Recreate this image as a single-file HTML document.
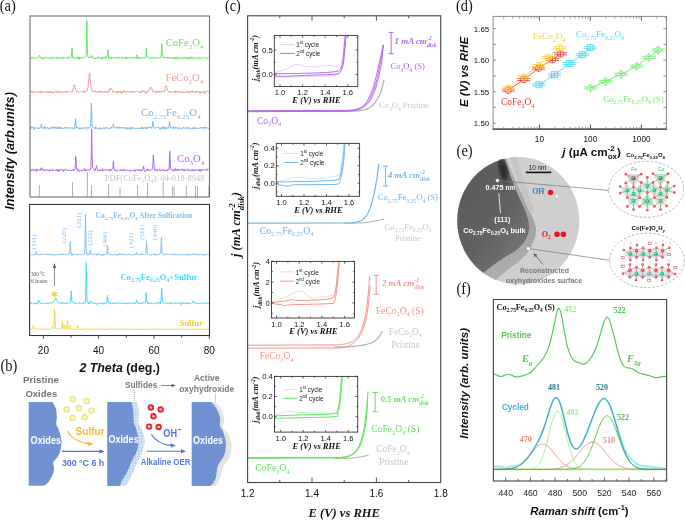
<!DOCTYPE html>
<html><head><meta charset="utf-8"><title>Figure</title>
<style>html,body{margin:0;padding:0;background:#fff;} svg{display:block;will-change:transform;filter:blur(0.3px);}</style></head>
<body><svg width="685" height="520" viewBox="0 0 685 520">
<rect width="685" height="520" fill="#fff"/>
<text x="-0.3" y="10.7" font-family='"Liberation Serif", serif' font-size="16" fill="#111" font-weight="normal" font-style="normal" textLength="16.1" lengthAdjust="spacingAndGlyphs" >(a)</text>
<line x1="39.4" y1="185.1" x2="39.4" y2="197" stroke="#a3aab2" stroke-width="0.9" />
<line x1="72.5" y1="182.2" x2="72.5" y2="197" stroke="#a3aab2" stroke-width="0.9" />
<line x1="87.4" y1="172.4" x2="87.4" y2="197" stroke="#a3aab2" stroke-width="0.9" />
<line x1="91.5" y1="185.4" x2="91.5" y2="197" stroke="#a3aab2" stroke-width="0.9" />
<line x1="108.6" y1="183.8" x2="108.6" y2="197" stroke="#a3aab2" stroke-width="0.9" />
<line x1="120" y1="187.2" x2="120" y2="197" stroke="#a3aab2" stroke-width="0.9" />
<line x1="137.5" y1="185.4" x2="137.5" y2="197" stroke="#a3aab2" stroke-width="0.9" />
<line x1="147.5" y1="183.1" x2="147.5" y2="197" stroke="#a3aab2" stroke-width="0.9" />
<line x1="163.2" y1="181.8" x2="163.2" y2="197" stroke="#a3aab2" stroke-width="0.9" />
<line x1="172.4" y1="186.5" x2="172.4" y2="197" stroke="#a3aab2" stroke-width="0.9" />
<line x1="174.1" y1="186.5" x2="174.1" y2="197" stroke="#a3aab2" stroke-width="0.9" />
<line x1="186.3" y1="185.8" x2="186.3" y2="197" stroke="#a3aab2" stroke-width="0.9" />
<line x1="195.5" y1="185.8" x2="195.5" y2="197" stroke="#a3aab2" stroke-width="0.9" />
<line x1="197.5" y1="185.8" x2="197.5" y2="197" stroke="#a3aab2" stroke-width="0.9" />
<line x1="208.9" y1="185.1" x2="208.9" y2="197" stroke="#a3aab2" stroke-width="0.9" />
<text x="104.8" y="180.9" font-family='"Liberation Serif", serif' font-size="8.49" fill="#c4c4c4" font-weight="normal" font-style="normal" text-anchor="start" ><tspan font-size="8.49">PDF(CoFe</tspan><tspan font-size="5.52" dy="2.38">2</tspan><tspan font-size="8.49" dy="-2.38">O</tspan><tspan font-size="5.52" dy="2.38">4</tspan><tspan font-size="8.49" dy="-2.38">): 04-018-8948</tspan></text>
<polyline points="30.5,58.19 30.9,58.45 31.3,58.18 31.7,57.28 32.1,58.49 32.5,58.24 32.9,57.7 33.3,58.31 33.7,58.19 34.1,58.15 34.5,58.01 34.9,58.29 35.3,57.58 35.7,57.9 36.1,57.72 36.5,58.31 36.9,57.99 37.3,57.8 37.7,57.5 38.1,57.75 38.5,57.7 38.9,56.44 39.3,55.71 39.3,55.55 39.7,55.1 40.1,56.66 40.5,57.79 40.9,57.7 41.3,58.07 41.7,58.09 42.1,59.14 42.5,57.37 42.9,57.78 43.3,59.11 43.7,58.34 44.1,58.36 44.5,57.71 44.9,57.09 45.3,58.09 45.7,58.05 46.1,57.32 46.5,57.62 46.9,57.96 47.3,57.48 47.7,57.94 48.1,58.05 48.5,58.01 48.9,57.72 49.3,58.32 49.7,58.49 50.1,58.17 50.5,57.55 50.9,58.4 51.3,57.72 51.7,58.48 52.1,57.41 52.5,58.5 52.9,57.98 53.3,57.31 53.7,57.82 54.1,58.03 54.5,58.15 54.9,57.45 55.3,57.39 55.7,58.1 56.1,57.74 56.5,58.12 56.9,58.41 57.3,57.09 57.7,58.13 58.1,58.67 58.5,57.83 58.9,57.55 59.3,58.41 59.7,58.13 60.1,58.49 60.5,57.8 60.9,57.18 61.3,57.93 61.7,57.75 62.1,58.42 62.5,58.1 62.9,57.09 63.3,57.33 63.7,58.47 64.1,58.36 64.5,57.63 64.9,57.98 65.3,58.23 65.7,58.24 66.1,58.46 66.5,58.12 66.9,57.92 67.3,57.83 67.7,58.54 68.1,56.72 68.5,57.87 68.9,57.95 69.3,57.13 69.7,58.07 70.1,57.48 70.5,58.23 70.9,57.48 71.3,56.88 71.7,52.3 72,48.2 72.1,48.05 72.5,53.89 72.9,58.23 73.3,57.61 73.7,57.42 74.1,57.94 74.5,57.79 74.9,58.39 75.3,57.95 75.7,57.95 76.1,57.56 76.5,58.21 76.9,57.39 77.3,58.32 77.7,58.8 78.1,57.12 78.5,56.6 78.9,58.3 79.3,59.36 79.7,57.4 80.1,57.26 80.5,58.27 80.9,57.48 81.3,57.66 81.7,57.73 82.1,58.21 82.5,57.67 82.9,58.03 83.3,57.75 83.7,57.35 84.1,57.58 84.5,57.15 84.9,57.53 85.3,56.63 85.7,56.05 86.1,54.67 86.5,36.28 86.8,20.46 86.9,23.25 87.3,47.86 87.7,55.78 88.1,57.25 88.5,57.55 88.9,56.95 89.3,58.15 89.7,57.43 90.1,57.19 90.5,57.23 90.9,57.02 91.3,56.91 91.4,55.27 91.7,56.74 92.1,56.46 92.5,57.85 92.9,58.4 93.3,57.79 93.7,57.59 94.1,58.07 94.5,58.34 94.9,58.32 95.3,59.05 95.7,58.08 96.1,57.64 96.5,57.9 96.9,57.93 97.3,58.03 97.7,57.96 98.1,58.07 98.5,57.06 98.9,58.43 99.3,57.66 99.7,57.33 100.1,58.33 100.5,58.7 100.9,58.25 101.3,58.07 101.7,57.46 102.1,59.55 102.5,58.46 102.9,57.34 103.3,57.54 103.7,58.01 104.1,57.1 104.5,58.04 104.9,57.68 105.3,58.59 105.7,58.41 106.1,56.34 106.5,57.74 106.9,56.48 107.3,55.79 107.7,49.95 107.8,49.7 108.1,51.94 108.5,57.73 108.9,58.72 109.3,57.2 109.7,58.07 110.1,57.53 110.5,57.92 110.9,57.25 111.3,58.98 111.7,57.43 112.1,57.81 112.5,58.25 112.9,57.62 113.3,57.85 113.7,57.67 114.1,57.91 114.5,57.34 114.9,57.75 115.3,57.87 115.7,57.8 116.1,58.02 116.5,57.83 116.9,58.4 117.3,57.81 117.7,57.92 118.1,57.63 118.5,57.7 118.9,57.3 119.3,58.28 119.7,57.36 120.1,57.58 120.5,58.19 120.9,58.21 121.3,57.77 121.7,56.88 122.1,58.23 122.5,58.14 122.9,57.22 123.3,58.42 123.7,57.61 124.1,57.37 124.5,58.05 124.9,57.9 125.3,58.11 125.7,57.11 126.1,58.99 126.5,57.66 126.9,57.15 127.3,58.33 127.7,57.8 128.1,58.17 128.5,57.81 128.9,57.96 129.3,58.13 129.7,57.58 130.1,58.37 130.5,57.73 130.9,57.51 131.3,58.03 131.7,58.23 132.1,57.86 132.5,57.51 132.9,58.33 133.3,57.02 133.7,57.41 134.1,58 134.5,57.22 134.9,57.98 135.3,57.91 135.7,58.4 136.1,57.19 136.5,56.38 136.8,56.17 136.9,54.75 137.3,59.04 137.7,57.46 138.1,57.52 138.5,58.42 138.9,57.94 139.3,56.99 139.7,58.32 140.1,58.44 140.5,57.73 140.9,57.82 141.3,58.24 141.7,57.47 142.1,58.2 142.5,58.07 142.9,57.58 143.3,57.17 143.7,57.8 144.1,57.41 144.5,58.4 144.9,57.85 145.3,58.01 145.7,56.68 146.1,52.16 146.4,48.16 146.5,49.47 146.9,55.9 147.3,57.14 147.7,57.37 148.1,57.73 148.5,57.61 148.9,57.52 149.3,58.01 149.7,57.78 150.1,58.74 150.5,57.96 150.9,58.14 151.3,58.49 151.7,57.81 152.1,58.76 152.5,57.63 152.9,57.53 153.3,57.77 153.7,57.91 154.1,57.2 154.5,57.96 154.9,57.06 155.3,58.74 155.7,57.93 156.1,57.61 156.5,57.46 156.9,57.75 157.3,57.83 157.7,57.37 158.1,57.43 158.5,57.82 158.9,57.61 159.3,58.38 159.7,58.44 160.1,57.73 160.5,57.8 160.9,56.21 161.3,53.6 161.7,44.26 161.8,43.76 162.1,49.66 162.5,54.59 162.9,57.5 163.3,57.04 163.7,58.1 164.1,57.12 164.5,57.61 164.9,58.02 165.3,58.27 165.7,57.98 166.1,57.52 166.5,57.66 166.9,58.45 167.3,57.97 167.7,57.05 168.1,58.44 168.5,58.21 168.9,58.46 169.3,57.8 169.7,58.44 170.1,57.4 170.5,58.3 170.9,57.72 171.3,58.36 171.7,58.54 172.1,57.59 172.5,57.96 172.9,58.01 173.3,58.65 173.7,58.38 174.1,57.32 174.5,58.25 174.9,58.4 175.3,59.16 175.7,57.07 176.1,57.7 176.5,58.73 176.9,57.25 177.3,57.34 177.7,58.28 178.1,58.56 178.5,57.63 178.9,58.29 179.3,58.06 179.7,58.83 180.1,58 180.5,58.54 180.9,57.5 181.3,57.9 181.7,57.94 182.1,58.62 182.5,58.32 182.9,57.58 183.3,58.37 183.7,58.42 184.1,57.94 184.5,57.86 184.9,57.89 185.3,57.07 185.7,58.1 186.1,58.13 186.5,57.52 186.9,58.41 187.3,57.24 187.7,57.69 188.1,57.74 188.5,59.09 188.9,57.12 189.3,58.31 189.7,58.52 190.1,58.21 190.5,58.65 190.9,57.45 191.3,56.74 191.7,58.42 192.1,57.34 192.5,57.82 192.9,57.35 193.3,58.58 193.7,58.47 194.1,57.6 194.5,58.5 194.9,58.07 195.3,57.92 195.7,58.03 196.1,57.89 196.5,58.34 196.9,58.17 197.3,57.81 197.7,58.55 198.1,57.66 198.5,58.16 198.9,58.23 199.3,58.81 199.7,57.72 200.1,58.96 200.5,58.1 200.9,57.89 201.3,57.63 201.7,58.32 202.1,58.03 202.5,57.39 202.9,57.38 203.3,57.69 203.7,57.63 204.1,58.6 204.5,58.76 204.9,58.48 205.3,58.2 205.7,57.76 206.1,58.03 206.5,58.49 206.9,59.17 207.3,58.5 207.7,57.84 208.1,58.02 208.5,57.73 208.9,57.57" stroke="#5ee85e" stroke-width="1" fill="none" stroke-linejoin="round" />
<polyline points="30.5,92.1 30.9,91.71 31.3,91.77 31.7,90.65 32.1,92.99 32.5,92.62 32.9,91.82 33.3,92.42 33.7,92.15 34.1,91.69 34.5,92.53 34.9,91.82 35.3,91.81 35.7,91.56 36.1,92.24 36.5,91.94 36.9,92.29 37.3,91.66 37.7,92.06 38.1,91.5 38.5,92.46 38.9,92.1 39.3,92.18 39.7,92.22 40.1,91.44 40.5,92.42 40.9,93.12 41.3,91.09 41.7,91.04 42.1,91.17 42.5,92.46 42.9,92.06 43.3,92.59 43.7,92.39 44.1,92.11 44.5,92.15 44.9,91.9 45.3,92.47 45.7,91.37 46.1,91.76 46.5,92.13 46.9,92.98 47.3,91.57 47.7,91.4 48.1,91.68 48.5,92.52 48.9,91.86 49.3,92.72 49.7,90.96 50.1,92.61 50.5,92.56 50.9,91.21 51.3,92.07 51.7,92.66 52.1,92.04 52.5,92.54 52.9,93.29 53.3,92.14 53.7,91.83 54.1,91.56 54.5,92.34 54.9,91.88 55.3,91.89 55.7,91.93 56.1,92.34 56.5,91.4 56.9,91.14 57.3,90.64 57.7,92.64 58.1,92.02 58.5,92.81 58.9,91.97 59.3,91.57 59.7,92.24 60.1,91.93 60.5,91.29 60.9,91.49 61.3,92.94 61.7,92.17 62.1,92.2 62.5,91.82 62.9,91.59 63.3,92.46 63.7,91.91 64.1,91.54 64.5,91.88 64.9,91.46 65.3,92.06 65.7,92.57 66.1,91.48 66.5,92.73 66.9,91.57 67.3,92.01 67.7,91.46 68.1,91.79 68.5,91.93 68.9,91.65 69.3,91.49 69.7,91.48 70.1,91.38 70.5,90.93 70.9,91.6 71.3,91.9 71.7,92.05 72.1,91.64 72.5,92.09 72.9,89.9 73.3,87.94 73.7,87.47 74.1,84.74 74.2,85.8 74.5,85.2 74.9,87.5 75.3,87.93 75.7,90.78 76.1,90.96 76.5,90.89 76.9,92.52 77.3,92.11 77.7,91.77 78.1,91.36 78.5,91.77 78.9,91.72 79.3,92.22 79.7,92.27 80.1,91.47 80.5,91.54 80.9,91.54 81.3,91.09 81.7,91.5 82.1,91.77 82.5,92.19 82.9,92.52 83.3,91.33 83.7,92.05 84.1,91.47 84.5,92.82 84.9,91.6 85.3,91.84 85.7,90.97 86.1,90.92 86.5,91.31 86.9,90.68 87.3,90.47 87.7,88.12 88.1,86.85 88.5,81.99 88.9,78.46 89.3,73.43 89.5,73.59 89.7,72.82 90.1,77.75 90.5,81.99 90.9,86.22 91.3,89 91.7,90.11 92.1,91.05 92.5,91.61 92.9,91.73 93.3,91.44 93.7,90.83 94.1,91.2 94.5,91.58 94.9,90.57 95.3,92.18 95.7,91.66 96.1,91.67 96.5,92.35 96.9,92.21 97.3,91.98 97.7,91.32 98.1,92.05 98.5,92.08 98.9,91.41 99.3,92.47 99.7,92.18 100.1,90.83 100.5,91.98 100.9,91.22 101.3,92.54 101.7,92.36 102.1,91.31 102.5,91.43 102.9,91.98 103.3,91.79 103.7,92.76 104.1,92.32 104.5,91.76 104.9,92.22 105.3,90.78 105.7,92.06 106.1,92.35 106.5,91.76 106.9,91.45 107.3,92.12 107.7,92.83 108.1,91.76 108.5,90.83 108.9,91.9 109.3,89.53 109.7,90.13 110.1,88.77 110.5,89.07 110.7,88.01 110.9,89.28 111.3,89.26 111.7,88.91 112.1,89.48 112.5,90.93 112.9,92.17 113.3,91.72 113.7,91.8 114.1,91.69 114.5,92.26 114.9,92.08 115.3,92.05 115.7,91.37 116.1,92.57 116.5,92.68 116.9,91.22 117.3,93.21 117.7,92.34 118.1,91.68 118.5,90.91 118.9,92.32 119.3,92.27 119.7,91.63 120.1,90.98 120.5,92.58 120.9,91.64 121.3,91.71 121.7,93.53 122.1,93.14 122.5,92.5 122.9,91.72 123.3,92.33 123.7,90.72 124.1,92.03 124.5,91.56 124.9,91.27 125.3,91.11 125.7,92.27 126.1,92.03 126.5,92.07 126.9,92.44 127.3,91.51 127.7,91.3 128.1,91 128.5,91.79 128.9,92.4 129.3,91.9 129.7,92.33 130.1,91.33 130.5,91.72 130.9,91.56 131.3,91.29 131.7,93 132.1,92.45 132.5,91.56 132.9,91.56 133.3,91.95 133.7,91.18 134.1,92.22 134.5,91.26 134.9,91.77 135.3,91.41 135.7,91.71 136.1,91.24 136.5,91.11 136.9,91.44 137.3,91.6 137.7,91.81 138.1,92.01 138.5,92.81 138.9,92.41 139.3,91.83 139.7,92.36 140.1,91.58 140.5,92.76 140.9,92.26 141.3,91.21 141.7,92.37 142.1,92.4 142.5,90.46 142.9,91.53 143.3,91.67 143.7,90.86 144.1,91.33 144.5,91.39 144.9,92.18 145.3,92.05 145.7,93.31 146.1,91.63 146.5,92.45 146.9,91.82 147.3,91.87 147.7,90.97 148.1,90.37 148.5,90.67 148.9,90.98 149.3,90.68 149.7,89.2 150.1,88.19 150.5,86.81 150.7,88.03 150.9,88.01 151.3,87.62 151.7,88.84 152.1,89.25 152.5,91.37 152.9,91.31 153.3,91.36 153.7,91.82 154.1,91.95 154.5,91.54 154.9,91.12 155.3,91.12 155.7,90.89 156.1,92.11 156.5,93.09 156.9,90.95 157.3,91.96 157.7,92.12 158.1,91.35 158.5,92.01 158.9,91.29 159.3,92.55 159.7,91.56 160.1,91.94 160.5,92.25 160.9,91.62 161.3,90.86 161.7,91.54 162.1,92.22 162.5,91.72 162.9,91.84 163.3,91.03 163.7,91.53 164.1,91.54 164.5,90.6 164.9,90.77 165.3,88.47 165.7,86.79 166.1,85.62 166.3,87.02 166.5,86.48 166.9,87.92 167.3,88.84 167.7,90.62 168.1,91.29 168.5,90.94 168.9,91.62 169.3,92.23 169.7,91.05 170.1,92.58 170.5,92.49 170.9,92.39 171.3,91.76 171.7,92.05 172.1,91.28 172.5,91.94 172.9,91.6 173.3,91.98 173.7,91.66 174.1,92.1 174.5,92.59 174.9,91.23 175.3,92.46 175.7,90.86 176.1,90.77 176.5,91.9 176.9,91.97 177.3,92.21 177.7,91.06 178.1,91.94 178.5,92.04 178.9,92.66 179.3,91.92 179.7,92.27 180.1,91.44 180.5,91.88 180.9,91.73 181.3,92.37 181.7,91.44 182.1,91.52 182.5,92.3 182.9,92.97 183.3,92.19 183.7,92.15 184.1,91.8 184.5,92.58 184.9,92.28 185.3,92.94 185.7,92.17 186.1,91.47 186.5,91.67 186.9,91.45 187.3,91.3 187.7,92.68 188.1,92.43 188.5,91.31 188.9,92.97 189.3,92.12 189.7,91.46 190.1,92.2 190.5,91.95 190.9,91.57 191.3,90.92 191.7,92.01 192.1,92.15 192.5,90.57 192.9,92.3 193.3,92.33 193.7,91.73 194.1,92.05 194.5,91.84 194.9,91.53 195.3,91.8 195.7,92.74 196.1,91.2 196.5,92.12 196.9,92.1 197.3,91.6 197.7,91.75 198.1,91.22 198.5,91.53 198.9,92 199.3,92.17 199.7,91.5 200.1,93.68 200.5,91.68 200.9,92.07 201.3,91.87 201.7,91.78 202.1,92.71 202.5,91.73 202.9,92.73 203.3,92.62 203.7,91.42 204.1,92.57 204.5,91.64 204.9,93.5 205.3,91.78 205.7,91.48 206.1,90.94 206.5,91.28 206.9,91.68 207.3,91.45 207.7,91.32 208.1,91.61 208.5,91.88 208.9,92.79" stroke="#f59a9a" stroke-width="1" fill="none" stroke-linejoin="round" />
<polyline points="30.5,129.12 30.9,126.59 31.3,128.23 31.7,127.68 32.1,127.75 32.5,127.88 32.9,126.89 33.3,127.87 33.7,127.52 34.1,129.82 34.5,128.12 34.9,127.8 35.3,127.84 35.7,127.62 36.1,127.41 36.5,127.77 36.9,128.25 37.3,127.85 37.7,128.51 38.1,127.87 38.5,127.99 38.9,128.81 39.3,128.25 39.7,127.65 40.1,127.77 40.5,128.01 40.9,127.75 41.3,124.07 41.4,123.87 41.7,126.01 42.1,126.92 42.5,127.66 42.9,128.39 43.3,128.26 43.7,128.01 44.1,128.34 44.5,126.42 44.9,128.54 45.3,127.46 45.7,127.07 46.1,128.14 46.5,128.38 46.9,127.75 47.3,127.4 47.7,128.01 48.1,127.96 48.5,128.77 48.9,128.41 49.3,128.1 49.7,128.61 50.1,127.88 50.5,127.49 50.9,128.32 51.3,128.32 51.7,127.88 52.1,127.57 52.5,128.12 52.9,126.62 53.3,128.38 53.7,128.27 54.1,127.1 54.5,128.03 54.9,127.47 55.3,128.41 55.7,126.88 56.1,127.49 56.5,128.39 56.9,128.63 57.3,126.81 57.7,127.72 58.1,128.18 58.5,127.66 58.9,128.87 59.3,127.34 59.7,128.19 60.1,127.42 60.5,128.77 60.9,127.98 61.3,127.79 61.7,127.05 62.1,128.92 62.5,128.41 62.9,128.41 63.3,128.62 63.7,128.19 64.1,127.64 64.5,127.55 64.9,127.55 65.3,128.75 65.7,127.19 66.1,127.66 66.5,127.81 66.9,128.11 67.3,128.31 67.7,127.3 68.1,127.04 68.5,127.98 68.9,128.65 69.3,128.4 69.7,128.1 70.1,127.8 70.5,128.14 70.9,127.84 71.3,128.42 71.7,127.52 72.1,128.03 72.5,127.88 72.9,128.22 73.3,128.02 73.7,129.24 74.1,128.57 74.5,128.32 74.9,124.88 75.3,120.53 75.5,118.66 75.7,121.01 76.1,124.75 76.5,128.14 76.9,128.33 77.3,127.12 77.7,127.35 78.1,127.48 78.5,127.96 78.9,128.3 79.3,129.08 79.7,127.85 80.1,128.39 80.5,128.05 80.9,128.94 81.3,128.38 81.7,128.73 82.1,127.38 82.5,127.87 82.9,127.53 83.3,128.8 83.7,128.33 84.1,127.8 84.5,127.72 84.9,128.23 85.3,127.58 85.7,127.45 86.1,128.22 86.5,129.3 86.9,127.8 87.3,127.62 87.7,127.27 88.1,127.16 88.5,128.15 88.9,128.28 89.3,127.74 89.7,127.79 90.1,127.41 90.5,126.69 90.9,120.56 91.3,104.4 91.4,103.06 91.7,113.11 92.1,124.99 92.5,126.65 92.9,127.32 93.3,128.15 93.7,127.56 94.1,127.76 94.5,128.32 94.9,128.26 95.3,128.85 95.7,126.79 96.1,128.42 96.5,127.69 96.9,128.03 97.3,128.43 97.7,128.56 98.1,128.54 98.5,128.06 98.9,128.86 99.3,127.82 99.7,127.9 100.1,128.42 100.5,127.68 100.9,129.17 101.3,128.55 101.7,129.18 102.1,127.97 102.5,127.78 102.9,128.08 103.3,128.39 103.7,127.67 104.1,128.2 104.5,127.98 104.9,128.88 105.3,127.63 105.7,128.57 106.1,127.64 106.5,127.46 106.9,127.6 107.3,127.33 107.7,128.07 108.1,128.55 108.5,128.08 108.9,128.33 109.3,128.88 109.7,128.13 110.1,128.08 110.5,127.82 110.9,127.08 111.3,128.37 111.7,126.96 112.1,128.24 112.5,127.72 112.9,127.41 113.3,124.46 113.4,123.84 113.7,125.84 114.1,127.14 114.5,127.73 114.9,127.93 115.3,127.87 115.7,127.85 116.1,127.51 116.5,127.87 116.9,126.8 117.3,127.9 117.7,127.33 118.1,128.6 118.5,128.69 118.9,126.92 119.3,128.07 119.7,127.92 120.1,127.42 120.5,128.29 120.9,127.74 121.3,127.02 121.7,127.85 122.1,127.91 122.5,128.05 122.9,127.32 123.3,128.33 123.7,128.4 124.1,127.37 124.5,127.63 124.9,127.95 125.3,127.69 125.7,128.96 126.1,128.11 126.5,127.44 126.9,127.56 127.3,127.97 127.7,129.26 128.1,127.9 128.5,128.07 128.9,128.28 129.3,127.98 129.7,129.25 130.1,127.7 130.5,128.41 130.9,128.09 131.3,128.34 131.7,127.35 132.1,128.97 132.5,127.93 132.9,128.02 133.3,127.48 133.7,127.6 134.1,128.31 134.5,128.54 134.9,128.41 135.3,128.66 135.7,128.39 136.1,128.01 136.5,128.46 136.9,128.32 137.3,127.94 137.7,128.4 138.1,128.7 138.5,128.13 138.9,127.8 139.3,128.39 139.7,129.04 140.1,127.88 140.5,127.95 140.9,127.92 141.3,128.67 141.7,126.99 142.1,128.2 142.5,128.65 142.9,127.55 143.3,128.81 143.7,128.29 144.1,127.69 144.5,128.11 144.9,127.15 145.3,127.68 145.7,129 146.1,127.5 146.5,129 146.9,127.94 147.3,128.53 147.7,128.01 148.1,126.75 148.5,127.66 148.9,128.08 149.3,127.34 149.7,127.22 150.1,128.15 150.5,127.58 150.9,126.97 151.3,127.48 151.7,128.22 152.1,127.06 152.5,125.38 152.9,122.14 152.9,121.32 153.3,124.24 153.7,126.6 154.1,127.74 154.5,128.34 154.9,128.05 155.3,128.23 155.7,127.71 156.1,128.13 156.5,127.71 156.9,127.79 157.3,127.27 157.7,127.12 158.1,127.72 158.5,127.37 158.9,127.46 159.3,128.36 159.7,127.93 160.1,129.59 160.5,128.5 160.9,127.64 161.3,128.42 161.7,128.18 162.1,127.61 162.5,128.59 162.9,127.56 163.3,126.3 163.7,128.42 164.1,127.64 164.5,128.8 164.9,127.62 165.3,127.33 165.7,128.82 166.1,127.37 166.5,128.07 166.9,128.74 167.3,127.99 167.7,127.85 168.1,127.89 168.5,128.16 168.9,126.56 169.3,124.07 169.6,121.62 169.7,122.94 170.1,125.62 170.5,127.01 170.9,128.19 171.3,127.65 171.7,128.07 172.1,128.01 172.5,128.6 172.9,127.6 173.3,127.92 173.7,126.57 174.1,127.49 174.5,128.83 174.9,127.61 175.3,127.6 175.7,127.32 176.1,128.31 176.5,128.09 176.9,127.34 177.3,128.36 177.7,128.14 178.1,128.41 178.5,127.64 178.9,128.95 179.3,128.22 179.7,127.93 180.1,127.71 180.5,127.86 180.9,128.47 181.3,127.85 181.7,128.59 182.1,128.32 182.5,128.74 182.9,128.44 183.3,127.96 183.7,126.95 184.1,128.16 184.5,128.43 184.9,128.09 185.3,128.3 185.7,127.74 186.1,127.79 186.5,127.48 186.9,128.75 187.3,128.09 187.7,127.73 188.1,127.27 188.5,127.91 188.9,128.79 189.3,128.25 189.7,127.6 190.1,128.78 190.5,128.78 190.9,128.54 191.3,128.43 191.7,128.63 192.1,128.3 192.5,128.43 192.9,127.57 193.3,128.82 193.7,128.13 194.1,129.11 194.5,126.88 194.9,128.39 195.3,128.54 195.7,127.81 196.1,128.25 196.5,128.41 196.9,128.32 197.3,127.7 197.7,127.92 198.1,128.56 198.5,128.7 198.9,128.05 199.3,128.04 199.7,128.11 200.1,128.57 200.5,127.42 200.9,127.27 201.3,128.07 201.7,127.39 202.1,127.68 202.5,128.05 202.9,128.26 203.3,127.41 203.7,128.44 204.1,127.02 204.5,128.3 204.9,127.13 205.3,127.3 205.7,128.35 206.1,127.78 206.5,127.56 206.9,127.75 207.3,128.26 207.7,127.97 208.1,127.98 208.5,128.58 208.9,127.61" stroke="#78b6f2" stroke-width="1" fill="none" stroke-linejoin="round" />
<polyline points="30.5,169.84 30.9,170.1 31.3,171.11 31.7,170.56 32.1,169.29 32.5,170.19 32.9,169.85 33.3,170.28 33.7,169.31 34.1,170.33 34.5,170.33 34.9,171.06 35.3,170.37 35.7,170.48 36.1,169.37 36.5,171.43 36.9,169.14 37.3,170.8 37.7,170.01 38.1,169.7 38.5,169.82 38.9,169.81 39.3,170.38 39.7,170.1 40.1,170.95 40.5,169.05 40.9,169.54 41.3,167.82 41.4,168.62 41.7,167.76 42.1,169.71 42.5,170.22 42.9,169.33 43.3,170.71 43.7,170.28 44.1,170.74 44.5,170.71 44.9,169.65 45.3,169.75 45.7,170.08 46.1,170.6 46.5,170.66 46.9,169.8 47.3,169.86 47.7,169.76 48.1,169.87 48.5,170.06 48.9,170.12 49.3,171.33 49.7,169.92 50.1,170.04 50.5,170.45 50.9,169.67 51.3,169.99 51.7,170.2 52.1,170.62 52.5,169.47 52.9,170.95 53.3,170 53.7,170.29 54.1,170.66 54.5,170.56 54.9,170.78 55.3,170.29 55.7,170.18 56.1,170.37 56.5,169.65 56.9,170.86 57.3,169.77 57.7,169.5 58.1,171.33 58.5,170.12 58.9,169.55 59.3,171.21 59.7,170.01 60.1,170.78 60.5,169.74 60.9,170.06 61.3,169.26 61.7,169.14 62.1,169.66 62.5,170.15 62.9,170.63 63.3,171.53 63.7,169.62 64.1,170.75 64.5,169.86 64.9,170.11 65.3,169.37 65.7,169.37 66.1,169.76 66.5,169.53 66.9,170.18 67.3,169.8 67.7,170.87 68.1,170.27 68.5,170.27 68.9,170.8 69.3,170.46 69.7,170.15 70.1,170.12 70.5,170.1 70.9,170.75 71.3,170.58 71.7,170.35 72.1,170.57 72.5,169.82 72.9,170.38 73.3,169.29 73.7,170.75 74.1,169.97 74.5,169.83 74.9,169.47 75.3,165.44 75.7,156.33 75.8,156.35 76.1,161.03 76.5,167.54 76.9,169.79 77.3,168.9 77.7,170.88 78.1,169.94 78.5,170.1 78.9,171.34 79.3,171.3 79.7,170.19 80.1,170.48 80.5,170.74 80.9,171.07 81.3,170.08 81.7,170.23 82.1,170.83 82.5,170.3 82.9,170.57 83.3,170.49 83.7,169.53 84.1,169.68 84.5,168.7 84.9,170 85.3,170.88 85.7,169.52 86.1,170.81 86.5,170.67 86.9,170.08 87.3,170.09 87.7,170.11 88.1,169.57 88.5,169.85 88.9,169.92 89.3,170.2 89.7,170.15 90.1,169.06 90.5,169.39 90.9,166.64 91.3,153.47 91.7,128.99 91.7,128.77 92.1,153.49 92.5,167.21 92.9,168.62 93.3,169.09 93.7,169.58 94.1,170.35 94.5,169.83 94.9,170.96 95.3,169.99 95.7,167.97 96.1,167.7 96.5,166.43 96.5,165.52 96.9,167.73 97.3,169.19 97.7,170.7 98.1,170.6 98.5,170.46 98.9,170.35 99.3,170.92 99.7,170.59 100.1,169.47 100.5,170.58 100.9,170.25 101.3,170.1 101.7,170.58 102.1,170.18 102.5,168.56 102.9,171.03 103.3,170.74 103.7,170.11 104.1,169.97 104.5,170.3 104.9,169.47 105.3,170.34 105.7,170.05 106.1,169.98 106.5,169.67 106.9,169.8 107.3,170.78 107.7,170.91 108.1,170.45 108.5,170.14 108.9,169.68 109.3,170.55 109.7,171.04 110.1,169.25 110.5,170.78 110.9,168.92 111.3,169.89 111.7,170.23 112.1,169.15 112.5,168.69 112.9,167.28 113.3,161.97 113.4,160.73 113.7,165.08 114.1,168.4 114.5,170.75 114.9,170.04 115.3,170.18 115.7,170.43 116.1,170.3 116.5,171.16 116.9,171.37 117.3,170.46 117.7,170.07 118.1,169.52 118.5,169.76 118.9,170.18 119.3,170.12 119.7,170.16 120.1,170.19 120.5,170.46 120.9,169.44 121.3,169.62 121.7,170.8 122.1,170.65 122.5,169.89 122.9,170.9 123.3,169.82 123.7,170.05 124.1,169.19 124.5,170.66 124.9,170.19 125.3,170.78 125.7,170.58 126.1,170.25 126.5,170.28 126.9,170.85 127.3,170.11 127.7,170.11 128.1,170.24 128.5,170.64 128.9,170.71 129.3,171.26 129.7,170.16 130.1,170.9 130.5,169.85 130.9,170.54 131.3,170.28 131.7,171.17 132.1,170.55 132.5,169.97 132.9,170.53 133.3,170.41 133.7,170.04 134.1,170.05 134.5,169.7 134.9,171.73 135.3,170.29 135.7,170.75 136.1,169.58 136.5,169.62 136.9,170.13 137.3,170.13 137.7,170.66 138.1,169.66 138.5,170.51 138.9,171.04 139.3,169.71 139.7,170.71 140.1,169.67 140.5,170.39 140.9,170.39 141.3,171.13 141.7,169.77 142.1,170.21 142.5,170.58 142.9,168.73 143.3,167.14 143.5,165.94 143.7,166.76 144.1,169.75 144.5,170.39 144.9,171.53 145.3,170.9 145.7,170.87 146.1,170.08 146.5,170.02 146.9,170.26 147.3,168.93 147.7,171.09 148.1,169.81 148.5,169.59 148.9,169.92 149.3,170.64 149.7,170.83 150.1,169.92 150.5,170.35 150.9,170.04 151.3,169.47 151.7,170.01 152.1,169.74 152.5,168.24 152.9,165.78 153.3,154.78 153.4,154.94 153.7,159.84 154.1,167.48 154.5,169.14 154.9,170.22 155.3,169.28 155.7,169.94 156.1,170.94 156.5,169.73 156.9,170.11 157.3,170.51 157.7,169.83 158.1,170.42 158.5,169.8 158.9,170.55 159.3,170.21 159.7,169.66 160.1,170.95 160.5,170.13 160.9,170.02 161.3,169.67 161.7,169.92 162.1,170.12 162.5,170.27 162.9,170.78 163.3,169.45 163.7,169.98 164.1,170.82 164.5,170.26 164.9,170.38 165.3,171.02 165.7,170.32 166.1,170.38 166.5,170.08 166.9,171.05 167.3,170.61 167.7,169.57 168.1,170.15 168.5,168.97 168.9,169.43 169.3,164.42 169.7,152.33 169.8,151.18 170.1,157.26 170.5,167.83 170.9,169.3 171.3,169.57 171.7,170.31 172.1,169.63 172.5,169.73 172.9,169.71 173.3,169.37 173.7,171.45 174.1,170.03 174.5,169.96 174.9,170.65 175.3,168.43 175.7,170.15 176.1,170.18 176.5,169.64 176.9,170.43 177.3,169.06 177.7,170.18 178.1,170.66 178.5,168.94 178.9,169.36 179.3,170.07 179.7,170.14 180.1,169.79 180.5,170.34 180.9,170.27 181.3,169.39 181.7,170.07 182.1,169.42 182.5,168.97 182.9,168.78 183.3,170.67 183.7,170.03 184.1,171.18 184.5,169.3 184.9,169.9 185.3,170.29 185.7,170.02 186.1,170.38 186.5,170.18 186.9,169.76 187.3,168.82 187.7,169.58 188.1,171.05 188.5,170.53 188.9,170.87 189.3,169.79 189.7,170.01 190.1,169.64 190.5,170.34 190.9,170.16 191.3,170.37 191.7,171.09 192.1,169.67 192.5,170.53 192.9,169.36 193.3,170.74 193.7,169.89 194.1,170.09 194.5,170.21 194.9,171.04 195.3,170.11 195.7,169.86 196.1,169.48 196.5,170.28 196.9,169.66 197.3,169.85 197.7,170.12 198.1,170.5 198.5,169.74 198.9,170.5 199.3,171.11 199.7,169.31 200.1,170.88 200.5,171.32 200.9,169.81 201.3,170.47 201.7,169.38 202.1,170.32 202.5,169.95 202.9,170.3 203.3,169.63 203.7,169.68 204.1,169.88 204.5,169.74 204.9,169.79 205.3,170.01 205.7,169.51 206.1,170.04 206.5,170.39 206.9,168.85 207.3,170.23 207.7,169.71 208.1,169.5 208.5,169.38 208.9,169.65" stroke="#b066f2" stroke-width="1" fill="none" stroke-linejoin="round" />
<text x="165.7" y="45.7" font-family='"Liberation Serif", serif' font-size="10.65" fill="#5ee85e" font-weight="normal" font-style="normal" text-anchor="start" ><tspan font-size="10.65">CoFe</tspan><tspan font-size="6.92" dy="2.98">2</tspan><tspan font-size="10.65" dy="-2.98">O</tspan><tspan font-size="6.92" dy="2.98">4</tspan></text>
<text x="165.5" y="80.7" font-family='"Liberation Serif", serif' font-size="10.62" fill="#f59a9a" font-weight="normal" font-style="normal" text-anchor="start" ><tspan font-size="10.62">FeCo</tspan><tspan font-size="6.91" dy="2.97">2</tspan><tspan font-size="10.62" dy="-2.97">O</tspan><tspan font-size="6.91" dy="2.97">4</tspan></text>
<text x="141" y="115.9" font-family='"Liberation Serif", serif' font-size="10.88" fill="#78b6f2" font-weight="normal" font-style="normal" text-anchor="start" ><tspan font-size="10.88">Co</tspan><tspan font-size="7.07" dy="3.05">2.75</tspan><tspan font-size="10.88" dy="-3.05">Fe</tspan><tspan font-size="7.07" dy="3.05">0.25</tspan><tspan font-size="10.88" dy="-3.05">O</tspan><tspan font-size="7.07" dy="3.05">4</tspan></text>
<text x="177.1" y="162.2" font-family='"Liberation Serif", serif' font-size="10.71" fill="#b066f2" font-weight="normal" font-style="normal" text-anchor="start" ><tspan font-size="10.71">Co</tspan><tspan font-size="6.96" dy="3">3</tspan><tspan font-size="10.71" dy="-3">O</tspan><tspan font-size="6.96" dy="3">4</tspan></text>
<rect x="30" y="16" width="179.5" height="181" stroke="#6e6e6e" stroke-width="1.1" fill="none" />
<polyline points="30.5,254.26 30.9,254.04 31.3,254.49 31.7,254.77 32.1,255.07 32.5,254.64 32.9,254.36 33.3,254.26 33.7,254.9 34.1,255.26 34.5,254.68 34.9,254.03 35.3,254.09 35.7,254.83 36.1,253.07 36.3,251.87 36.5,252.95 36.9,253.67 37.3,254.22 37.7,254.34 38.1,254.26 38.5,254.81 38.9,254.55 39.3,254.34 39.7,254.76 40.1,254.94 40.5,253.9 40.9,254.48 41.3,254.18 41.7,254.52 42.1,254.05 42.5,254.6 42.9,254.58 43.3,254.47 43.7,254.16 44.1,254.43 44.5,254.14 44.9,254.03 45.3,254.69 45.7,254.13 46.1,255.09 46.5,254.9 46.9,253.76 47.3,254.71 47.7,254.13 48.1,254.61 48.5,254.61 48.9,253.76 49.3,254.5 49.7,254.49 50.1,255 50.5,254.1 50.9,254.91 51.3,254.13 51.7,254.46 52.1,254.24 52.5,255.2 52.9,254.83 53.3,255.62 53.7,254.86 54.1,254.95 54.5,254.95 54.9,254.34 55.3,254.56 55.7,255.16 56.1,254.43 56.5,254.67 56.9,254.58 57.3,254.85 57.7,254.44 58.1,254.53 58.5,254.69 58.9,254.63 59.3,254.23 59.7,254.97 60.1,254.04 60.5,254.08 60.9,254.05 61.3,254.99 61.7,254.43 62.1,254.18 62.5,254.11 62.9,254.76 63.3,254.14 63.7,254.04 64.1,254.83 64.5,254.07 64.9,254.43 65.3,254.56 65.7,254.37 66.1,254.53 66.5,255.11 66.9,254.31 67.3,253.98 67.7,253.72 68.1,254.36 68.5,254.23 68.9,254.35 69.3,253.69 69.7,251.58 70.1,244.02 70.3,241.67 70.5,244.39 70.9,251.62 71.3,253.93 71.7,255.04 72.1,254.57 72.5,253.78 72.9,255.21 73.3,254.65 73.7,254.13 74.1,254.91 74.5,254.55 74.9,254.29 75.3,254.28 75.7,254.14 76.1,254.58 76.5,255 76.9,254.42 77.3,254.73 77.7,255.34 78.1,254.04 78.5,254.66 78.9,254.42 79.3,254.09 79.7,254.1 80.1,254.52 80.5,254.7 80.9,254.28 81.3,254.51 81.7,254.76 82.1,254.55 82.5,254.75 82.9,254.51 83.3,254.42 83.7,254.8 84.1,253.95 84.5,252.9 84.9,248.12 85.3,223.34 85.5,214.44 85.7,224.06 86.1,248.08 86.5,253.49 86.9,253.68 87.3,253.4 87.7,255 88.1,254.73 88.5,253.87 88.9,254.89 89.3,254.19 89.7,252.42 90.1,250.55 90.2,250.3 90.5,252.65 90.9,253.61 91.3,254.26 91.7,254.33 92.1,254.33 92.5,254.13 92.9,254.62 93.3,254.99 93.7,254.81 94.1,254.17 94.5,254.08 94.9,254.61 95.3,254.27 95.7,254.3 96.1,253.87 96.5,255.39 96.9,254.96 97.3,254.17 97.7,254.96 98.1,255.14 98.5,253.57 98.9,254.35 99.3,254.42 99.7,254.85 100.1,254.53 100.5,254.48 100.9,254.55 101.3,255.35 101.7,255.48 102.1,254.35 102.5,254.18 102.9,255.7 103.3,254.15 103.7,254.32 104.1,254.57 104.5,254.74 104.9,254.95 105.3,254.66 105.7,254.08 106.1,254.57 106.5,254.23 106.9,253.5 107.3,247.72 107.5,245.53 107.7,247.28 108.1,253.32 108.5,253.9 108.9,253.48 109.3,254.21 109.7,254.5 110.1,255.02 110.5,254.12 110.9,254.83 111.3,254.9 111.7,254.27 112.1,254.49 112.5,255.32 112.9,255.3 113.3,254.94 113.7,254.72 114.1,255.06 114.5,254.53 114.9,254.55 115.3,254.23 115.7,254.59 116.1,254.55 116.5,255.75 116.9,254.51 117.3,255.12 117.7,255.15 118.1,254.51 118.5,255.08 118.9,253.68 119.3,254.63 119.7,254.95 120.1,253.59 120.5,254.11 120.9,255.04 121.3,254.49 121.7,254.13 122.1,254.44 122.5,254.37 122.9,254.9 123.3,254.78 123.7,254.48 124.1,254.31 124.5,254.57 124.9,255.15 125.3,254.74 125.7,254.86 126.1,254.53 126.5,254.05 126.9,254.29 127.3,254.87 127.7,254.64 128.1,254.21 128.5,253.91 128.9,254.64 129.3,254.45 129.7,254.44 130.1,254.45 130.5,254.71 130.9,254.71 131.3,254.99 131.7,254.98 132.1,255.15 132.5,254.92 132.9,254.44 133.3,254.56 133.7,254.79 134.1,254.44 134.5,254.79 134.9,255.03 135.3,254.18 135.7,253.64 136.1,254.15 136.5,252.6 136.5,252.89 136.9,253.09 137.3,255.11 137.7,254.82 138.1,254.49 138.5,254.41 138.9,254.61 139.3,254.5 139.7,254.45 140.1,254.1 140.5,255.1 140.9,254.55 141.3,254.59 141.7,254.6 142.1,253.56 142.5,254.77 142.9,254.4 143.3,254.4 143.7,254.53 144.1,254.05 144.5,254.76 144.9,254.01 145.3,253.71 145.7,252.86 146.1,248.34 146.5,241.41 146.5,240.84 146.9,247.64 147.3,253.67 147.7,253.65 148.1,254.81 148.5,254.38 148.9,254.17 149.3,254.23 149.7,254.71 150.1,254.9 150.5,254.46 150.9,254.95 151.3,255.43 151.7,254.47 152.1,254.08 152.5,254.12 152.9,253.98 153.3,254.3 153.7,254.26 154.1,254.01 154.5,254.79 154.9,253.47 155.3,254.01 155.7,255.41 156.1,254.99 156.5,254.77 156.9,254.74 157.3,255.28 157.7,254.75 158.1,254.54 158.5,253.97 158.9,254.41 159.3,254.08 159.7,253.98 160.1,253.77 160.5,253.37 160.9,249.06 161.3,239.35 161.4,237.54 161.7,244.03 162.1,252.93 162.5,253.88 162.9,254.7 163.3,254.82 163.7,254.97 164.1,254.78 164.5,253.92 164.9,254.41 165.3,254.38 165.7,253.9 166.1,254.36 166.5,254.04 166.9,253.87 167.3,254.66 167.7,254.56 168.1,254.29 168.5,254.18 168.9,254.35 169.3,254.42 169.7,254.41 170.1,254.56 170.5,254.4 170.9,254.75 171.3,254.81 171.7,254.74 172.1,254.31 172.5,254.33 172.9,254.77 173.3,254.51 173.7,254.57 174.1,253.55 174.5,253.46 174.9,254.73 175.3,254.73 175.7,255.18 176.1,254.9 176.5,254.69 176.9,254.6 177.3,254 177.7,254.97 178.1,254.34 178.5,254.81 178.9,254.68 179.3,254.71 179.7,254.97 180.1,254.39 180.5,254.43 180.9,254.24 181.3,254.44 181.7,255.3 182.1,254.44 182.5,255.09 182.9,254.94 183.3,254.9 183.7,254.93 184.1,254.17 184.5,254.75 184.9,255.26 185.3,254.3 185.7,254.58 186.1,254.31 186.5,254.73 186.9,254.14 187.3,255.27 187.7,254.44 188.1,253.95 188.5,255.35 188.9,255 189.3,254.81 189.7,254.81 190.1,254.44 190.5,254.49 190.9,254.88 191.3,254.96 191.7,254.94 192.1,254.58 192.5,253.91 192.9,253.1 193,253.56 193.3,254.25 193.7,254.23 194.1,254.33 194.5,255.09 194.9,254.88 195.3,254.88 195.7,254.04 196.1,254.43 196.5,254.38 196.9,254.68 197.3,253.89 197.7,255.13 198.1,254.72 198.5,254.78 198.9,254.1 199.3,254.59 199.7,255.16 200.1,253.94 200.5,254.73 200.9,254.89 201.3,254.31 201.7,254.94 202.1,254.46 202.5,255.11 202.9,254.82 203.3,254.69 203.7,255.44 204.1,254.95 204.5,255.15 204.9,254.1 205.3,254.33 205.7,254.95 206.1,254.98 206.5,254.58 206.9,254.93 207.3,254.15 207.7,254.69 208.1,254.12 208.5,254.74 208.9,254.39" stroke="#86bff2" stroke-width="1" fill="none" stroke-linejoin="round" />
<polyline points="30.5,303.73 30.9,304.04 31.3,302.22 31.7,303.23 32.1,303.71 32.5,303.85 32.9,303.56 33.3,303.91 33.7,303.4 34.1,303.51 34.5,303.35 34.9,302.83 35.3,302.92 35.7,303.43 36.1,303.02 36.5,303.79 36.9,303.78 37.3,303.96 37.7,303.11 38.1,303.2 38.5,300.48 38.7,299.94 38.9,300.89 39.3,302.74 39.7,302.44 40.1,302.47 40.5,303.38 40.9,302.88 41.3,303.76 41.7,303.42 42.1,303.39 42.5,303.35 42.9,303.64 43.3,303.2 43.7,303.72 44.1,303.04 44.5,303.17 44.9,302.97 45.3,303.51 45.7,303.27 46.1,302.89 46.5,304.09 46.9,303.09 47.3,303.19 47.7,303.4 48.1,303.96 48.5,303.15 48.9,303.5 49.3,303.24 49.7,302.57 50.1,303.5 50.5,303.57 50.9,303.02 51.3,303.07 51.7,302.39 52.1,302.29 52.5,302.6 52.9,302.77 53.3,301.92 53.7,301.68 54.1,301.26 54.5,300.1 54.9,299.57 55.3,299.47 55.5,298.27 55.7,299.17 56.1,298.53 56.5,300.24 56.9,300.94 57.3,301.33 57.7,301.66 58.1,302.48 58.5,302.59 58.9,302.96 59.3,302.64 59.7,303.31 60.1,302.68 60.5,303.01 60.9,303 61.3,303.71 61.7,302.56 62.1,303.03 62.5,303.7 62.9,302.94 63.3,302.7 63.7,303.34 64.1,303.11 64.5,303.58 64.9,302.85 65.3,303.31 65.7,303.51 66.1,303.67 66.5,302.77 66.9,303.83 67.3,302.84 67.7,302.58 68.1,302.8 68.5,303.24 68.9,303.01 69.3,303.28 69.7,303.2 70.1,302.9 70.5,301.46 70.9,296.72 71.2,290.84 71.3,291.67 71.7,299.3 72.1,301.91 72.5,301.84 72.9,302.72 73.3,302.81 73.7,302.14 74.1,303.56 74.5,303.76 74.9,303.74 75.3,303.02 75.7,303.3 76.1,302.77 76.5,303.33 76.9,302.96 77.3,303.42 77.7,303.1 78.1,303.68 78.5,303.59 78.9,303.76 79.3,302.57 79.7,302.47 80.1,303.4 80.5,302.98 80.9,303.39 81.3,303.33 81.7,303.27 82.1,303.56 82.5,303.39 82.9,303.32 83.3,302.7 83.7,303.73 84.1,302.96 84.5,303.19 84.9,302.51 85.3,302.06 85.7,296.5 86.1,272.13 86.3,262.84 86.5,271.74 86.9,296.19 87.3,301.45 87.7,302.31 88.1,302.29 88.5,303.86 88.9,302.54 89.3,302.85 89.7,303.85 90.1,301.48 90.5,300.51 90.5,300.46 90.9,301.71 91.3,302.31 91.7,302.46 92.1,303.17 92.5,303.38 92.9,302.31 93.3,303.3 93.7,302.97 94.1,303.62 94.5,303.33 94.9,302.92 95.3,303.08 95.7,303.29 96.1,303.83 96.5,304.55 96.9,303.42 97.3,303.33 97.7,303.57 98.1,303.29 98.5,303.57 98.9,303.47 99.3,303.31 99.7,302.98 100.1,303.38 100.5,303.69 100.9,303.35 101.3,303.95 101.7,303.71 102.1,303.26 102.5,304.04 102.9,302.84 103.3,303.8 103.7,304.08 104.1,303.19 104.5,303.24 104.9,303.66 105.3,303.84 105.7,303.39 106.1,303.22 106.5,303.28 106.9,301.68 107.3,296.37 107.5,295.26 107.7,296.87 108.1,300.94 108.5,303.07 108.9,302.81 109.3,303.52 109.7,302.62 110.1,302.89 110.5,302.68 110.9,303.84 111.3,303.85 111.7,303.93 112.1,303.94 112.5,303.7 112.9,303.7 113.3,302.62 113.7,303.47 114.1,303.12 114.5,303.2 114.9,302.82 115.3,303.89 115.7,303.4 116.1,302.71 116.5,303.55 116.9,303.3 117.3,302.89 117.7,303.2 118.1,303 118.5,302.35 118.9,302.67 119.3,303.52 119.7,303.45 120.1,303.41 120.5,302.8 120.9,303.04 121.3,303.32 121.7,303.58 122.1,302.94 122.5,302.85 122.9,303.77 123.3,303.32 123.7,303.13 124.1,302.98 124.5,303.02 124.9,303.96 125.3,303.7 125.7,303.12 126.1,302.77 126.5,304 126.9,303.95 127.3,303.8 127.7,303.65 128.1,302.5 128.5,302.75 128.9,303.53 129.3,303.17 129.7,303.4 130.1,303.07 130.5,303.01 130.9,303.52 131.3,303.12 131.7,303.28 132.1,303.39 132.5,303.38 132.9,303.77 133.3,303.85 133.7,302.7 134.1,303.15 134.5,302.98 134.9,303.54 135.3,302.73 135.7,303.31 136.1,302.18 136.5,300.53 136.5,299.88 136.9,301.79 137.3,302.53 137.7,303.34 138.1,303.62 138.5,302.6 138.9,302.91 139.3,303.19 139.7,303.04 140.1,303.89 140.5,303.2 140.9,303.37 141.3,302.79 141.7,303.91 142.1,303.32 142.5,303.57 142.9,303.27 143.3,302.33 143.7,302.52 144.1,302.61 144.5,303.28 144.9,302.73 145.3,302.67 145.7,299.81 146.1,292.99 146.2,292.68 146.5,296.37 146.9,300.97 147.3,302.52 147.7,303.72 148.1,302.67 148.5,303.75 148.9,303.9 149.3,302.98 149.7,303.38 150.1,302.66 150.5,303.58 150.9,302.94 151.3,302.72 151.7,303.1 152.1,303.08 152.5,303.03 152.9,303.36 153.3,303.2 153.7,302.99 154.1,303.67 154.5,304.29 154.9,303.3 155.3,302.97 155.7,302.85 156.1,303.51 156.5,303.15 156.9,303.26 157.3,302.41 157.7,302.76 158.1,302.74 158.5,303.61 158.9,303.07 159.3,302.1 159.7,303.29 160.1,303.45 160.5,303.29 160.9,300.6 161.3,296.34 161.7,288.64 161.7,288.55 162.1,296.17 162.5,301.02 162.9,302.56 163.3,302.84 163.7,303.33 164.1,303.42 164.5,303.09 164.9,303.57 165.3,302.79 165.7,302.96 166.1,303.24 166.5,303.5 166.9,303.13 167.3,303.79 167.7,303.45 168.1,302.88 168.5,303.31 168.9,302.91 169.3,302.88 169.7,302.68 170.1,303.87 170.5,303.67 170.9,302.62 171.3,303.76 171.7,303.69 172.1,303.14 172.5,303.5 172.9,304.23 173.3,303.41 173.7,303.47 174.1,303.76 174.5,302.86 174.9,302.76 175.3,302.7 175.7,303.26 176.1,303.66 176.5,302.93 176.9,302.72 177.3,303.39 177.7,303.15 178.1,303.56 178.5,303.25 178.9,303.23 179.3,303.28 179.7,303.33 180.1,302.91 180.5,302.84 180.9,303.98 181.3,304.61 181.7,303.79 182.1,302.63 182.5,303.33 182.9,303.82 183.3,302.64 183.7,303.11 184.1,303.15 184.5,302.93 184.9,302.97 185.3,303.74 185.7,303.13 186.1,303.22 186.5,304.04 186.9,302.96 187.3,302.51 187.7,303.59 188.1,304.16 188.5,303.4 188.9,303.44 189.3,302.77 189.7,302.92 190.1,303.92 190.5,303.83 190.9,303.55 191.3,303.02 191.7,302.77 192.1,302.8 192.5,302.64 192.9,302.76 193.3,300.62 193.4,300.6 193.7,302.01 194.1,303.22 194.5,303.22 194.9,303.45 195.3,303.27 195.7,302.46 196.1,303.25 196.5,303.11 196.9,303.14 197.3,303.39 197.7,303.05 198.1,303.81 198.5,303.22 198.9,303.36 199.3,303.43 199.7,303.22 200.1,303.57 200.5,303.61 200.9,303.56 201.3,303 201.7,302.91 202.1,303.04 202.5,303.29 202.9,302.5 203.3,302.93 203.7,302.8 204.1,303 204.5,302.9 204.9,303.63 205.3,303.48 205.7,303.69 206.1,302.87 206.5,302.96 206.9,303.16 207.3,303.99 207.7,304 208.1,303.03 208.5,303.56 208.9,304.2" stroke="#3fdcf2" stroke-width="1" fill="none" stroke-linejoin="round" />
<polyline points="30.5,329.19 30.9,329.24 31.3,329.13 31.7,329.01 32.1,329.04 32.5,328.58 32.9,327.36 33.3,325.84 33.4,325.41 33.7,326.22 34.1,328.31 34.5,329.08 34.9,329.17 35.3,329.01 35.7,329.18 36.1,329.31 36.5,328.95 36.9,329.11 37.3,328.85 37.7,328.96 38.1,328.86 38.5,329.15 38.9,328.97 39.3,329.24 39.7,329.22 40.1,329.16 40.5,328.74 40.9,329.1 41.3,329.19 41.7,329.22 42.1,328.92 42.5,329.11 42.9,329.02 43.3,329.05 43.7,329.38 44.1,329.05 44.5,329.19 44.9,329.35 45.3,329.09 45.7,329.17 46.1,329.21 46.5,329.2 46.9,328.97 47.3,329.2 47.7,329.43 48.1,328.91 48.5,329.34 48.9,329.2 49.3,329.06 49.7,329.53 50.1,329.31 50.5,328.95 50.9,329.16 51.3,329.2 51.7,328.75 52.1,327.98 52.5,327.1 52.5,327.23 52.9,328.05 53.3,328.44 53.7,327.64 54.1,320.55 54.5,309.91 54.6,308.97 54.9,314.47 55.3,325.2 55.7,328.78 56.1,329.22 56.5,328.84 56.9,328.97 57.3,329.25 57.7,328.79 58.1,329.07 58.5,329.14 58.9,329.38 59.3,329.28 59.7,329.1 60.1,329.08 60.5,329.09 60.9,329.37 61.3,328.76 61.7,326.94 62.1,322.89 62.3,321.85 62.5,322.79 62.9,326.77 63.3,328.76 63.7,328.48 64.1,326.81 64.5,324.86 64.5,324.74 64.9,326.73 65.3,328.53 65.7,329.23 66.1,329.04 66.5,328.66 66.9,325.52 67.3,321.51 67.4,320.87 67.7,322.96 68.1,327.53 68.5,328.77 68.9,329.11 69.3,329.37 69.7,328.03 70.1,326.19 70.4,325.51 70.5,325.67 70.9,327.3 71.3,328.7 71.7,329.23 72.1,329.25 72.5,328.98 72.9,329.16 73.3,329.18 73.7,328.99 74.1,329.23 74.5,329.03 74.9,329.35 75.3,329.21 75.7,329.19 76.1,329.05 76.5,329.07 76.9,328.26 77.3,326.95 77.7,326.06 77.7,325.61 78.1,327.3 78.5,328.3 78.9,329.23 79.3,329.01 79.7,329.32 80.1,329.21 80.5,328.91 80.9,329.41 81.3,329.45 81.7,329.18 82.1,329.14 82.5,329.16 82.9,329.01 83.3,329.39 83.7,329.09 84.1,329.17 84.5,329.01 84.9,328.81 85.3,328.01 85.7,327.92 85.7,327.67 86.1,328.41 86.5,328.93 86.9,329.02 87.3,329.12 87.7,329.09 88.1,329.19 88.5,329.12 88.9,329.14 89.3,328.94 89.7,329.05 90.1,329.49 90.5,329.07 90.9,329 91.3,329.25 91.7,329.43 92.1,328.82 92.5,328.66 92.9,328.11 93,327.88 93.3,328.55 93.7,328.93 94.1,329.16 94.5,329.05 94.9,329.27 95.3,329.1 95.7,329.17 96.1,328.99 96.5,328.98 96.9,329.43 97.3,329.1 97.7,329.24 98.1,329.18 98.5,329.07 98.9,328.84 99.3,328.54 99.6,328.14 99.7,328.2 100.1,328.7 100.5,329.29 100.9,329.3 101.3,329.26 101.7,329.09 102.1,328.95 102.5,329.37 102.9,329.37 103.3,329.17 103.7,329.29 104.1,329.34 104.5,329.35 104.9,329.36 105.3,329.11 105.7,329.47 106.1,328.97 106.5,329.35 106.9,329.28 107.3,329.35 107.7,329.53 108.1,329.44 108.5,328.87 108.9,328.39 109.3,328.37 109.4,328.02 109.7,328.42 110.1,329.09 110.5,328.85 110.9,328.81 111.3,329.24 111.7,329.2 112.1,329.15 112.5,329.2 112.9,329.04 113.3,328.93 113.7,329.17 114.1,329.02 114.5,328.9 114.9,329.29 115.3,329.19 115.7,329.27 116.1,329.02 116.5,329.08 116.9,329.02 117.3,329.04 117.7,329.23 118.1,329.06 118.5,329.26 118.9,329.26 119.3,329.56 119.7,328.95 120.1,329.36 120.5,329.18 120.9,329.2 121.3,328.94 121.7,329.12 122.1,329.33 122.5,329.18 122.9,329.21 123.3,329.15 123.7,329.41 124.1,329.2 124.5,328.8 124.9,329.07 125.3,328.85 125.7,328.61 126.1,329.1 126.5,329.44 126.9,329.21 127.3,328.99 127.7,329.03 128.1,329.4 128.5,329.23 128.9,329.21 129.3,329.19 129.7,329.21 130.1,329.34 130.5,329.3 130.9,329.24 131.3,329.01 131.7,329.29 132.1,329.08 132.5,329.4 132.9,328.97 133.3,329.17 133.7,329.2 134.1,328.96 134.5,329.51 134.9,329.46 135.3,329.12 135.7,329.34 136.1,329.27 136.5,328.73 136.9,329.24 137.3,329.19 137.7,329.21 138.1,329.01 138.5,329.15 138.9,329.17 139.3,329.41 139.7,329.26 140.1,329.2 140.5,329.47 140.9,329.1 141.3,329.13 141.7,328.87 142.1,329.48 142.5,329.37 142.9,329.36 143.3,329.32 143.7,329.22 144.1,329.24 144.5,329.15 144.9,329.16 145.3,329.21 145.7,329.47 146.1,329.3 146.5,329.19 146.9,329.1 147.3,329.09 147.7,329.49 148.1,329.29 148.5,329.21 148.9,329.14 149.3,329 149.7,329.19 150.1,329.36 150.5,329.13 150.9,329.16 151.3,329.16 151.7,329.22 152.1,328.91 152.5,329.16 152.9,329.05 153.3,329.36 153.7,329.06 154.1,329.3 154.5,329.47 154.9,329.14 155.3,329.09 155.7,329.23 156.1,329.2 156.5,329.02 156.9,329.28 157.3,329.56 157.7,329.15 158.1,329.16 158.5,329.01 158.9,329.26 159.3,328.98 159.7,329 160.1,329.43 160.5,329.04 160.9,329.39 161.3,329.47 161.7,329.25 162.1,329.3 162.5,329.55 162.9,329.16 163.3,329.09 163.7,328.96 164.1,329.21 164.5,329.47 164.9,329.37 165.3,329.03 165.7,329.05 166.1,329.11 166.5,329.25 166.9,329.16 167.3,329.24 167.7,329.25 168.1,329.15 168.5,329.19 168.9,329.24 169.3,329.18 169.7,329.29 170.1,329.54 170.5,329.31 170.9,329.21 171.3,328.9 171.7,329.27 172.1,328.85 172.5,328.95 172.9,329.35 173.3,329.33 173.7,329.17 174.1,328.89 174.5,329.13 174.9,329.08 175.3,329.31 175.7,329.61 176.1,329.24 176.5,329.06 176.9,328.99 177.3,329.19 177.7,329.17 178.1,328.99 178.5,329.22 178.9,328.99 179.3,329.4 179.7,329.39 180.1,329.4 180.5,329.11 180.9,329.29 181.3,329.18 181.7,329.13 182.1,329.14 182.5,328.97 182.9,328.94 183.3,329.34 183.7,329.17 184.1,329.24 184.5,329.38 184.9,328.89 185.3,329.06 185.7,329.23 186.1,329.27 186.5,329.13 186.9,329.39 187.3,329.24 187.7,328.98 188.1,329.03 188.5,329.34 188.9,329.28 189.3,328.86 189.7,329.44 190.1,329.31 190.5,329.44 190.9,329.13 191.3,329.15 191.7,329 192.1,329.66 192.5,329.17 192.9,329.49 193.3,329.08 193.7,329.23 194.1,328.9 194.5,329.13 194.9,329.38 195.3,328.97 195.7,329.39 196.1,329.26 196.5,329.01 196.9,329.11 197.3,329.12 197.7,329.19 198.1,329.1 198.5,329.05 198.9,329.15 199.3,329.02 199.7,328.97 200.1,329.19 200.5,329.36 200.9,328.92 201.3,329.2 201.7,329.08 202.1,329.02 202.5,329.35 202.9,329.11 203.3,329.47 203.7,329.06 204.1,329.27 204.5,329.16 204.9,329.06 205.3,329.31 205.7,329.17 206.1,329.31 206.5,329.19 206.9,329 207.3,329.18 207.7,329.21 208.1,329.37 208.5,329.04 208.9,329.19" stroke="#f7cb2e" stroke-width="0.9" fill="none" stroke-linejoin="round" />
<text transform="translate(36.1,241.8) rotate(-90)" font-family='"Liberation Serif", serif' font-size="7" fill="#86bff2" text-anchor="middle">(111)</text>
<text transform="translate(65.9,235.5) rotate(-90)" font-family='"Liberation Serif", serif' font-size="7" fill="#86bff2" text-anchor="middle">(220)</text>
<text transform="translate(80.8,220.2) rotate(-90)" font-family='"Liberation Serif", serif' font-size="7" fill="#86bff2" text-anchor="middle">(311)</text>
<text transform="translate(92.3,238) rotate(-90)" font-family='"Liberation Serif", serif' font-size="7" fill="#86bff2" text-anchor="middle">(222)</text>
<text transform="translate(107.3,239) rotate(-90)" font-family='"Liberation Serif", serif' font-size="7" fill="#86bff2" text-anchor="middle">(400)</text>
<text transform="translate(133.4,240.3) rotate(-90)" font-family='"Liberation Serif", serif' font-size="7" fill="#86bff2" text-anchor="middle">(422)</text>
<text transform="translate(144.4,232.3) rotate(-90)" font-family='"Liberation Serif", serif' font-size="7" fill="#86bff2" text-anchor="middle">(511)</text>
<text transform="translate(157.3,232.3) rotate(-90)" font-family='"Liberation Serif", serif' font-size="7" fill="#86bff2" text-anchor="middle">(440)</text>
<text x="95.6" y="217.6" font-family='"Liberation Serif", serif' font-size="7.45" fill="#86bff2" font-weight="bold" font-style="normal" text-anchor="start" ><tspan font-size="7.45">Co</tspan><tspan font-size="4.84" dy="2.09">2.75</tspan><tspan font-size="7.45" dy="-2.09">Fe</tspan><tspan font-size="4.84" dy="2.09">0.25</tspan><tspan font-size="7.45" dy="-2.09">O</tspan><tspan font-size="4.84" dy="2.09">4</tspan><tspan font-size="7.45" dy="-2.09"> After Sulfication</tspan></text>
<text x="120.4" y="279.8" font-family='"Liberation Serif", serif' font-size="8.65" fill="#3fdcf2" font-weight="bold" font-style="normal" text-anchor="start" ><tspan font-size="8.65">Co</tspan><tspan font-size="5.62" dy="2.42">2.75</tspan><tspan font-size="8.65" dy="-2.42">Fe</tspan><tspan font-size="5.62" dy="2.42">0.25</tspan><tspan font-size="8.65" dy="-2.42">O</tspan><tspan font-size="5.62" dy="2.42">4</tspan><tspan font-size="8.65" dy="-2.42">+Sulfur</tspan></text>
<text x="179.7" y="326" font-family='"Liberation Serif", serif' font-size="8.48" fill="#f7cb2e" font-weight="bold" font-style="normal" text-anchor="start" >Sulfur</text>
<text x="31" y="276.2" font-family='"Liberation Serif", serif' font-size="5.15" fill="#555" font-weight="normal" font-style="normal" text-anchor="start" >300 °C</text>
<text x="31" y="283" font-family='"Liberation Serif", serif' font-size="5.55" fill="#555" font-weight="normal" font-style="normal" text-anchor="start" >6 hours</text>
<line x1="54.5" y1="286" x2="54.5" y2="266" stroke="#666" stroke-width="0.7" />
<path d="M54.5,263 L52.9,268 L56.1,268 Z" fill="#555"/>
<line x1="54.5" y1="290.9" x2="54.5" y2="297.7" stroke="#f7cb2e" stroke-width="1.2" />
<line x1="51.56" y1="292.6" x2="57.44" y2="296" stroke="#f7cb2e" stroke-width="1.2" />
<line x1="57.44" y1="292.6" x2="51.56" y2="296" stroke="#f7cb2e" stroke-width="1.2" />
<rect x="29.6" y="204.4" width="179.9" height="131.1" stroke="#333" stroke-width="1.1" fill="none" />
<line x1="43.4" y1="335.5" x2="43.4" y2="338.8" stroke="#333" stroke-width="0.9" />
<line x1="98.6" y1="335.5" x2="98.6" y2="338.8" stroke="#333" stroke-width="0.9" />
<line x1="154" y1="335.5" x2="154" y2="338.8" stroke="#333" stroke-width="0.9" />
<line x1="209.3" y1="335.5" x2="209.3" y2="338.8" stroke="#333" stroke-width="0.9" />
<line x1="71" y1="335.5" x2="71" y2="337.6" stroke="#333" stroke-width="0.9" />
<line x1="126.3" y1="335.5" x2="126.3" y2="337.6" stroke="#333" stroke-width="0.9" />
<line x1="181.7" y1="335.5" x2="181.7" y2="337.6" stroke="#333" stroke-width="0.9" />
<text x="43.4" y="353.6" font-family='"Liberation Sans", sans-serif' font-size="10" fill="#111" font-weight="normal" font-style="normal" text-anchor="middle" >20</text>
<text x="98.6" y="353.6" font-family='"Liberation Sans", sans-serif' font-size="10" fill="#111" font-weight="normal" font-style="normal" text-anchor="middle" >40</text>
<text x="154" y="353.6" font-family='"Liberation Sans", sans-serif' font-size="10" fill="#111" font-weight="normal" font-style="normal" text-anchor="middle" >60</text>
<text x="209.3" y="353.6" font-family='"Liberation Sans", sans-serif' font-size="10" fill="#111" font-weight="normal" font-style="normal" text-anchor="middle" >80</text>
<text transform="translate(14.3,151) rotate(-90)" font-family='"Liberation Sans", sans-serif' font-size="12.7" font-weight="bold" font-style="italic" fill="#111" text-anchor="middle">Intensity (arb.units)</text>
<text x="79.4" y="372.2" font-family='"Liberation Sans", sans-serif' font-size="12.4" font-weight="bold" fill="#111"><tspan font-style="italic">2 Theta</tspan> (deg.)</text>
<text x="0.4" y="370.9" font-family='"Liberation Serif", serif' font-size="16" fill="#111" font-weight="normal" font-style="normal" textLength="16.9" lengthAdjust="spacingAndGlyphs" >(b)</text>
<text x="23" y="382.9" font-family='"Liberation Sans", sans-serif' font-size="9.7" fill="#747474" font-weight="bold" font-style="normal" textLength="36" lengthAdjust="spacingAndGlyphs" >Pristine</text>
<text x="25.4" y="396.5" font-family='"Liberation Sans", sans-serif' font-size="9.8" fill="#747474" font-weight="bold" font-style="normal" textLength="31.8" lengthAdjust="spacingAndGlyphs" >Oxides</text>
<path d="M28.7,401.9 L52.4,401.9 C52.98,403.02 55.17,406.02 55.9,408.6 C56.63,411.18 56.75,414.75 56.8,417.4 C56.85,420.05 55.92,422.58 56.2,424.5 C56.48,426.42 57.62,426.25 58.5,428.9 C59.38,431.55 61.2,436.73 61.5,440.4 C61.8,444.07 61.08,447.97 60.3,450.9 C59.52,453.83 57.98,456.08 56.8,458 C55.62,459.92 53.65,460.63 53.2,462.4 C52.75,464.17 54.23,466.4 54.1,468.6 C53.97,470.8 53.43,473.25 52.4,475.6 C51.37,477.95 49.38,481 47.9,482.7 C46.42,484.4 44.23,485.28 43.5,485.8 L28.7,485.8 Z" fill="#7092d3"/>
<text x="30.6" y="443.9" font-family='"Liberation Sans", sans-serif' font-size="10" fill="#fff" font-weight="bold" font-style="normal" textLength="30.5" lengthAdjust="spacingAndGlyphs" >Oxides</text>
<circle cx="72.6" cy="399" r="2.6" fill="#fbf6c8" stroke="#ece27a" stroke-width="1.2"/>
<circle cx="86.8" cy="401.3" r="2.6" fill="#fbf6c8" stroke="#ece27a" stroke-width="1.2"/>
<circle cx="66.5" cy="409.5" r="2.6" fill="#fbf6c8" stroke="#ece27a" stroke-width="1.2"/>
<circle cx="78.9" cy="408.2" r="2.6" fill="#fbf6c8" stroke="#ece27a" stroke-width="1.2"/>
<circle cx="91.5" cy="410.6" r="2.6" fill="#fbf6c8" stroke="#ece27a" stroke-width="1.2"/>
<circle cx="72.6" cy="418" r="2.6" fill="#fbf6c8" stroke="#ece27a" stroke-width="1.2"/>
<circle cx="84.7" cy="417.3" r="2.6" fill="#fbf6c8" stroke="#ece27a" stroke-width="1.2"/>
<text x="75.6" y="434.6" font-family='"Liberation Sans", sans-serif' font-size="10.2" fill="#fbb830" font-weight="bold" font-style="normal" textLength="29.1" lengthAdjust="spacingAndGlyphs" >Sulfur</text>
<path d="M67.5,431.1 Q73,442 90,443.9" stroke="#fbb830" stroke-width="1.1" fill="none"/>
<path d="M93.3,443.8 L87.5,441.4 L88.5,446.2 Z" fill="#fbb830"/>
<line x1="61.9" y1="451.4" x2="100" y2="451.4" stroke="#5070f0" stroke-width="1.1" />
<path d="M104.7,451.4 L99.4,449.2 L99.4,453.6 Z" fill="#5070f0"/>
<text x="61.9" y="466" font-family='"Liberation Sans", sans-serif' font-size="9.2" fill="#5070f0" font-weight="bold" font-style="normal" textLength="42.3" lengthAdjust="spacingAndGlyphs" >300 °C 6 h</text>
<defs><pattern id="spk" width="3" height="3" patternUnits="userSpaceOnUse"><rect width="3" height="3" fill="#c9dcf1"/><circle cx="0.8" cy="0.8" r="0.55" fill="#a3c0e2"/><circle cx="2.2" cy="2.2" r="0.6" fill="#f2f7fc"/></pattern></defs>
<path d="M107.3,401.9 L136.8,401.9 C137.18,403.6 138.82,408.63 139.1,412.1 C139.38,415.57 138.02,419.75 138.5,422.7 C138.98,425.65 140.97,426.85 142,429.8 C143.03,432.75 144.6,436.88 144.7,440.4 C144.8,443.92 143.78,447.38 142.6,450.9 C141.42,454.42 139.17,457.97 137.6,461.5 C136.03,465.03 134.8,468.57 133.2,472.1 C131.6,475.63 129.32,480.38 128,482.7 C126.68,485.02 125.75,485.45 125.3,486 L107.3,486 Z" fill="url(#spk)"/>
<path d="M107.3,401.9 L131.5,401.9 C131.78,403.32 132.82,406.93 133.2,410.4 C133.58,413.87 133.3,419.62 133.8,422.7 C134.3,425.78 135.42,425.95 136.2,428.9 C136.98,431.85 138.4,436.73 138.5,440.4 C138.6,444.07 137.97,447.38 136.8,450.9 C135.63,454.42 133.12,457.97 131.5,461.5 C129.88,465.03 128.72,468.87 127.1,472.1 C125.48,475.33 122.98,478.58 121.8,480.9 C120.62,483.22 120.3,485.15 120,486 L107.3,486 Z" fill="#7092d3"/>
<text x="108.4" y="443" font-family='"Liberation Sans", sans-serif' font-size="10" fill="#fff" font-weight="bold" font-style="normal" textLength="30.3" lengthAdjust="spacingAndGlyphs" >Oxides</text>
<text x="124.9" y="388.1" font-family='"Liberation Sans", sans-serif' font-size="9.3" fill="#7a7a7a" font-weight="bold" font-style="normal" textLength="32.4" lengthAdjust="spacingAndGlyphs" >Sulfides</text>
<line x1="161.2" y1="385.5" x2="172.5" y2="385.5" stroke="#666" stroke-width="0.8" />
<path d="M175.7,385.5 L171.5,383.8 L171.5,387.2 Z" fill="#666"/>
<line x1="134.4" y1="390" x2="134.4" y2="401" stroke="#888" stroke-width="0.8" stroke-dasharray="1,1"/>
<circle cx="147.9" cy="404.9" r="1.5" fill="#f4f6fa" stroke="#dde4f0" stroke-width="0.5"/>
<circle cx="150.9" cy="407.5" r="3.2" fill="#e42630"/><circle cx="150.9" cy="407.5" r="1.3" fill="#fbd0d2"/>
<circle cx="163.79999999999998" cy="406.7" r="1.5" fill="#f4f6fa" stroke="#dde4f0" stroke-width="0.5"/>
<circle cx="160.6" cy="409.5" r="3.2" fill="#e42630"/><circle cx="160.6" cy="409.5" r="1.3" fill="#fbd0d2"/>
<circle cx="156.4" cy="419.1" r="1.5" fill="#f4f6fa" stroke="#dde4f0" stroke-width="0.5"/>
<circle cx="153.4" cy="416.3" r="3.2" fill="#e42630"/><circle cx="153.4" cy="416.3" r="1.3" fill="#fbd0d2"/>
<circle cx="145.9" cy="424.0" r="1.5" fill="#f4f6fa" stroke="#dde4f0" stroke-width="0.5"/>
<circle cx="149.1" cy="426.6" r="3.2" fill="#e42630"/><circle cx="149.1" cy="426.6" r="1.3" fill="#fbd0d2"/>
<circle cx="161.79999999999998" cy="424.4" r="1.5" fill="#f4f6fa" stroke="#dde4f0" stroke-width="0.5"/>
<circle cx="158.6" cy="427" r="3.2" fill="#e42630"/><circle cx="158.6" cy="427" r="1.3" fill="#fbd0d2"/>
<text x="163.3" y="437" font-family='"Liberation Sans", sans-serif' font-size="10.4" fill="#5070f0" font-weight="bold" font-style="normal" textLength="13.8" lengthAdjust="spacingAndGlyphs" >OH</text>
<line x1="178" y1="429.6" x2="181" y2="429.6" stroke="#5070f0" stroke-width="1.1" />
<path d="M151.3,434.2 Q157,444 172,445.6" stroke="#5070f0" stroke-width="1.1" fill="none"/>
<path d="M175.8,445.4 L170.5,443.2 L171,447.6 Z" fill="#5070f0"/>
<line x1="146.9" y1="451.2" x2="182" y2="451.2" stroke="#5070f0" stroke-width="1.1" />
<path d="M185.8,451.2 L181,448.9 L181,453.5 Z" fill="#5070f0"/>
<text x="140.7" y="464.9" font-family='"Liberation Sans", sans-serif' font-size="8.9" fill="#5a78f0" font-weight="bold" font-style="normal" textLength="49.8" lengthAdjust="spacingAndGlyphs" >Alkaline OER</text>
<path d="M192,401.9 L214.7,401.9 C215.73,403.02 219.28,405.72 220.9,408.6 C222.52,411.48 224.12,416.12 224.4,419.2 C224.68,422.28 222.02,424.75 222.6,427.1 C223.18,429.45 226.42,430.5 227.9,433.3 C229.38,436.1 231.2,440.08 231.5,443.9 C231.8,447.72 231.03,452.38 229.7,456.2 C228.37,460.02 224.82,464.15 223.5,466.8 C222.18,469.45 222.53,469.75 221.8,472.1 C221.07,474.45 220.13,478.58 219.1,480.9 C218.07,483.22 216.18,485.15 215.6,486 L192,486 Z" fill="#e3e3e3"/>
<path d="M191.7,401.9 L211.2,401.9 C212.08,403.02 215.03,406.02 216.5,408.6 C217.97,411.18 219.42,414.47 220,417.4 C220.58,420.33 219.57,424 220,426.2 C220.43,428.4 221.63,427.95 222.6,430.6 C223.57,433.25 225.5,438.12 225.8,442.1 C226.1,446.08 225.67,450.67 224.4,454.5 C223.13,458.33 219.43,462.47 218.2,465.1 C216.97,467.73 217.38,468.25 217,470.3 C216.62,472.35 216.58,475.18 215.9,477.4 C215.22,479.62 213.83,482.17 212.9,483.6 C211.97,485.03 210.73,485.6 210.3,486 L191.7,486 Z" fill="#7092d3"/>
<text x="192.9" y="444" font-family='"Liberation Sans", sans-serif' font-size="10" fill="#fff" font-weight="bold" font-style="normal" textLength="30" lengthAdjust="spacingAndGlyphs" >Oxides</text>
<text x="193.9" y="381.1" font-family='"Liberation Sans", sans-serif' font-size="9.3" fill="#7a7a7a" font-weight="bold" font-style="normal" textLength="25.6" lengthAdjust="spacingAndGlyphs" >Active</text>
<text x="179.2" y="392.2" font-family='"Liberation Sans", sans-serif' font-size="9.3" fill="#7a7a7a" font-weight="bold" font-style="normal" textLength="55" lengthAdjust="spacingAndGlyphs" >oxyhydroxide</text>
<line x1="215.5" y1="393.5" x2="215.5" y2="402" stroke="#888" stroke-width="0.8" stroke-dasharray="1,1"/>
<text x="225" y="10.7" font-family='"Liberation Serif", serif' font-size="16" fill="#111" font-weight="normal" font-style="normal" textLength="15.8" lengthAdjust="spacingAndGlyphs" >(c)</text>
<path d="M340,111.3 C343.33,111.18 355.33,111.07 360,110.6 C364.67,110.13 365.67,109.6 368,108.5 C370.33,107.4 372.27,105.83 374,104 C375.73,102.17 377.15,99.83 378.4,97.5 C379.65,95.17 380.58,92.87 381.5,90 C382.42,87.13 383.5,81.92 383.9,80.3" stroke="#b2b2b2" stroke-width="1.3" fill="none" stroke-linecap="round" />
<polyline points="247.6,110.72 346.14,110.42 346.71,110.39 347.27,110.36 347.84,110.33 348.41,110.29 348.97,110.25 349.54,110.2 350.1,110.15 350.66,110.1 351.22,110.04 351.78,109.97 352.34,109.9 352.9,109.82 353.46,109.73 354.02,109.64 354.58,109.54 355.14,109.42 355.7,109.3 356.25,109.16 356.81,109.01 357.36,108.85 357.91,108.67 358.47,108.48 359.02,108.26 359.57,108.03 360.12,107.77 360.67,107.48 361.21,107.17 361.75,106.83 362.3,106.46 362.84,106.05 363.37,105.61 363.91,105.12 364.44,104.58 364.97,103.99 365.49,103.35 366.02,102.64 366.53,101.87 367.05,101.02 367.57,100.09 368.19,99.08 368.82,97.96 369.46,96.74 370.1,95.4 370.75,93.93 371.41,92.32 372.08,90.56 372.76,88.63 373.45,86.52 374.15,84.2 374.87,81.66 375.6,78.87 376.34,75.82 377.1,72.48 377.88,68.82 378.7,64.8 379.78,60.41 380.92,55.59 382.12,50.31 383.34,44.52" stroke="#b266f4" stroke-width="0.95" fill="none" stroke-linejoin="round" />
<polyline points="247.6,111.2 346.14,110.9 346.71,110.87 347.27,110.84 347.84,110.81 348.41,110.77 348.97,110.73 349.54,110.68 350.11,110.63 350.68,110.58 351.24,110.52 351.81,110.45 352.38,110.38 352.95,110.3 353.52,110.21 354.09,110.12 354.66,110.02 355.23,109.9 355.8,109.78 356.38,109.64 356.95,109.49 357.52,109.33 358.1,109.15 358.67,108.96 359.25,108.74 359.83,108.51 360.41,108.25 360.99,107.96 361.57,107.65 362.16,107.31 362.74,106.94 363.33,106.53 363.92,106.09 364.52,105.6 365.11,105.06 365.71,104.47 366.32,103.83 366.92,103.12 367.53,102.35 368.15,101.5 368.77,100.57 369.39,99.56 370.02,98.44 370.66,97.22 371.3,95.88 371.95,94.41 372.61,92.8 373.28,91.04 373.96,89.11 374.65,87 375.35,84.68 376.07,82.14 376.8,79.35 377.54,76.3 378.3,72.96 379.08,69.3 379.88,65.28 380.71,60.89 381.56,56.07 382.44,50.79 383.34,45" stroke="#b266f4" stroke-width="0.95" fill="none" stroke-linejoin="round" />
<polyline points="247.6,111.68 346.14,111.38 346.71,111.35 347.27,111.32 347.84,111.29 348.41,111.25 348.97,111.21 349.54,111.16 350.11,111.11 350.68,111.06 351.24,111 351.81,110.93 352.38,110.86 352.95,110.78 353.52,110.69 354.09,110.6 354.66,110.5 355.23,110.38 355.8,110.26 356.38,110.12 356.98,109.97 357.57,109.81 358.17,109.63 358.77,109.44 359.37,109.22 359.98,108.99 360.59,108.73 361.2,108.44 361.82,108.13 362.45,107.79 363.08,107.42 363.72,107.01 364.36,106.57 365.01,106.08 365.67,105.54 366.34,104.95 367.02,104.31 367.71,103.6 368.42,102.83 369.13,101.98 369.86,101.05 370.59,100.04 371.22,98.92 371.86,97.7 372.5,96.36 373.15,94.89 373.81,93.28 374.48,91.52 375.16,89.59 375.85,87.48 376.55,85.16 377.27,82.62 378,79.83 378.74,76.78 379.5,73.44 380.28,69.78 381.08,65.76 381.69,61.37 382.25,56.55 382.81,51.27 383.37,45.48" stroke="#b266f4" stroke-width="0.95" fill="none" stroke-linejoin="round" />
<path d="M345,223.1 C347.17,223.08 354.17,223.15 358,223 C361.83,222.85 365,222.57 368,222.2 C371,221.83 373.35,221.32 376,220.8 C378.65,220.28 382.58,219.38 383.9,219.1" stroke="#b2b2b2" stroke-width="1.1" fill="none" stroke-linecap="round" />
<polyline points="247.6,223.1 351.49,222.8 351.83,222.77 352.19,222.74 352.55,222.71 352.91,222.67 353.28,222.63 353.66,222.59 354.04,222.54 354.43,222.49 354.82,222.43 355.21,222.37 355.61,222.3 356.01,222.22 356.41,222.14 356.82,222.05 357.23,221.95 357.65,221.84 358.06,221.72 358.48,221.6 358.91,221.45 359.33,221.3 359.76,221.13 360.19,220.95 360.62,220.75 361.05,220.53 361.49,220.28 361.92,220.02 362.36,219.73 362.81,219.42 363.25,219.07 363.7,218.69 364.15,218.28 364.6,217.83 365.05,217.33 365.51,216.79 365.97,216.2 366.43,215.56 366.9,214.85 367.37,214.08 367.85,213.23 368.32,212.31 368.81,211.29 369.29,210.19 369.79,208.98 370.29,207.65 370.79,206.21 371.3,204.62 371.82,202.89 372.35,201 372.88,198.93 373.43,196.66 373.98,194.19 374.55,191.48 375.13,188.51 375.72,185.27 376.33,181.73 376.95,177.85 377.59,173.61 378.25,168.97 378.93,163.9" stroke="#6db7f2" stroke-width="1.2" fill="none" stroke-linejoin="round" />
<path d="M335,346.9 C337.5,346.85 345.5,346.87 350,346.6 C354.5,346.33 358.28,345.98 362,345.3 C365.72,344.62 369.63,343.72 372.3,342.5 C374.97,341.28 376.33,339.8 378,338 C379.67,336.2 381.58,332.75 382.3,331.7" stroke="#b2b2b2" stroke-width="1.2" fill="none" stroke-linecap="round" />
<polyline points="247.6,345.2 335.21,344.9 335.84,344.87 336.47,344.84 337.09,344.8 337.72,344.77 338.35,344.72 338.98,344.68 339.6,344.63 340.23,344.57 340.86,344.51 341.48,344.44 342.11,344.37 342.74,344.29 343.36,344.2 343.99,344.11 344.61,344 345.24,343.88 345.86,343.76 346.48,343.62 347.11,343.46 347.73,343.3 348.35,343.11 348.97,342.91 349.59,342.69 350.21,342.45 350.83,342.18 351.45,341.89 352.07,341.57 352.68,341.21 353.3,340.83 353.91,340.4 354.52,339.94 355.13,339.43 355.74,338.87 356.35,338.26 356.95,337.59 357.55,336.85 358.15,336.04 358.74,335.16 359.33,334.19 359.92,333.12 360.51,331.95 361.08,330.67 361.66,329.26 362.23,327.72 362.79,326.03 363.35,324.17 363.9,322.13 364.44,319.9 364.98,317.45 365.5,314.77 366.02,311.82 366.52,308.59 367.01,305.05 367.49,301.16 367.95,296.9 368.4,292.22 368.83,287.09 369.24,281.47 369.63,275.3" stroke="#f7928c" stroke-width="1" fill="none" stroke-linejoin="round" />
<polyline points="247.6,348.2 341.99,347.9 342.13,347.87 342.28,347.84 342.43,347.81 342.6,347.77 342.79,347.73 342.98,347.68 343.19,347.64 343.41,347.58 343.65,347.52 343.91,347.46 344.18,347.39 344.46,347.31 344.77,347.23 345.09,347.14 345.43,347.04 345.79,346.93 346.17,346.81 346.56,346.67 346.97,346.53 347.41,346.37 347.86,346.2 348.32,346.01 348.81,345.8 349.31,345.58 349.83,345.33 350.37,345.06 350.92,344.76 351.49,344.43 352.07,344.08 352.66,343.69 353.27,343.26 353.88,342.79 354.51,342.28 355.14,341.72 355.79,341.11 356.44,340.44 357.1,339.71 357.76,338.9 358.42,338.02 359.09,337.06 359.76,336.01 360.43,334.86 361.09,333.59 361.76,332.21 362.41,330.7 363.06,329.05 363.71,327.24 364.34,325.25 364.97,323.08 365.58,320.71 366.17,318.11 366.75,315.26 367.3,312.15 367.84,308.74 368.35,305.01 368.83,300.92 369.28,296.45 369.69,291.56 370.07,286.2" stroke="#f7928c" stroke-width="1" fill="none" stroke-linejoin="round" />
<path d="M335,458.5 C337.5,458.45 345.83,458.45 350,458.2 C354.17,457.95 356.95,457.53 360,457 C363.05,456.47 366.92,455.33 368.3,455" stroke="#b2b2b2" stroke-width="1.1" fill="none" stroke-linecap="round" />
<polyline points="247.6,457.6 341.09,457.3 341.37,457.27 341.67,457.24 341.97,457.21 342.3,457.17 342.63,457.13 342.98,457.08 343.33,457.03 343.7,456.98 344.08,456.92 344.47,456.85 344.87,456.78 345.29,456.7 345.71,456.61 346.14,456.52 346.57,456.42 347.02,456.3 347.47,456.18 347.93,456.04 348.4,455.89 348.88,455.73 349.36,455.55 349.84,455.35 350.33,455.14 350.82,454.9 351.32,454.64 351.82,454.36 352.33,454.05 352.84,453.71 353.35,453.34 353.86,452.93 354.37,452.48 354.89,451.99 355.4,451.45 355.92,450.86 356.44,450.22 356.96,449.51 357.48,448.73 358,447.88 358.51,446.95 359.03,445.93 359.55,444.81 360.06,443.59 360.57,442.25 361.08,440.77 361.58,439.16 362.09,437.39 362.58,435.46 363.08,433.34 363.57,431.01 364.05,428.46 364.53,425.67 364.99,422.61 365.46,419.26 365.91,415.58 366.36,411.56 366.79,407.14 367.21,402.31 367.62,397.01 368.02,391.2" stroke="#5ee85e" stroke-width="1.1" fill="none" stroke-linejoin="round" />
<polyline points="247.6,458.3 341.09,458 341.36,457.97 341.65,457.94 341.96,457.91 342.27,457.87 342.6,457.83 342.94,457.79 343.29,457.74 343.65,457.68 344.02,457.63 344.4,457.56 344.79,457.49 345.19,457.42 345.6,457.34 346.02,457.25 346.45,457.15 346.89,457.04 347.33,456.92 347.78,456.79 348.23,456.65 348.71,456.49 349.19,456.32 349.68,456.14 350.17,455.93 350.67,455.71 351.18,455.47 351.69,455.2 352.21,454.91 352.73,454.59 353.26,454.24 353.79,453.86 354.32,453.45 354.87,452.99 355.41,452.49 355.96,451.94 356.52,451.35 357.08,450.69 357.65,449.98 358.22,449.2 358.8,448.34 359.38,447.41 359.95,446.38 360.45,445.26 360.96,444.04 361.46,442.7 361.96,441.23 362.45,439.63 362.94,437.88 363.43,435.96 363.92,433.86 364.4,431.56 364.87,429.05 365.34,426.3 365.8,423.29 366.25,420 366.65,416.41 366.93,412.47 367.18,408.16 367.41,403.45 367.61,398.3" stroke="#5ee85e" stroke-width="1" fill="none" stroke-linejoin="round" />
<rect x="274.3" y="35.4" width="83.5" height="51.2" fill="#fff"/>
<clipPath id="ci1"><rect x="274.3" y="35.4" width="83.5" height="51.2"/></clipPath>
<g clip-path="url(#ci1)">
<path d="M274.3,73 C276.08,72.42 281.35,70.9 285,69.5 C288.65,68.1 292.87,65.13 296.2,64.6 C299.53,64.07 301.7,65.92 305,66.3 C308.3,66.68 312.33,67.05 316,66.9 C319.67,66.75 323.67,65.48 327,65.4 C330.33,65.32 333.83,66.43 336,66.4 C338.17,66.37 338.95,66.27 340,65.2 C341.05,64.13 341.72,62.53 342.3,60 C342.88,57.47 343.12,54.5 343.5,50 C343.88,45.5 344.42,35.83 344.6,33" stroke="#e4ccf9" stroke-width="0.9" fill="none" stroke-linecap="round" />
<path d="M274.3,77.2 C278.58,77.13 292.38,76.97 300,76.8 C307.62,76.63 314,76.47 320,76.2 C326,75.93 332.58,75.82 336,75.2 C339.42,74.58 339.33,74.37 340.5,72.5 C341.67,70.63 342.32,67.75 343,64 C343.68,60.25 344.13,55.17 344.6,50 C345.07,44.83 345.6,35.83 345.8,33" stroke="#e4ccf9" stroke-width="0.9" fill="none" stroke-linecap="round" />
<path d="M274.3,73.8 C278.58,73.73 292.38,73.57 300,73.4 C307.62,73.23 314,73.12 320,72.8 C326,72.48 332.67,72.05 336,71.5 C339.33,70.95 338.92,70.92 340,69.5 C341.08,68.08 341.83,66.25 342.5,63 C343.17,59.75 343.5,55 344,50 C344.5,45 345.25,35.83 345.5,33" stroke="#b266f4" stroke-width="1" fill="none" stroke-linecap="round" />
<path d="M274.3,76 C276.08,76.05 280.72,76.37 285,76.3 C289.28,76.23 294.17,75.83 300,75.6 C305.83,75.37 314,75.15 320,74.9 C326,74.65 332.67,74.53 336,74.1 C339.33,73.67 338.83,73.82 340,72.3 C341.17,70.78 342.2,68.72 343,65 C343.8,61.28 344.27,55.33 344.8,50 C345.33,44.67 345.97,35.83 346.2,33" stroke="#b266f4" stroke-width="1" fill="none" stroke-linecap="round" />
</g>
<rect x="274.3" y="35.4" width="83.5" height="51.2" stroke="#333" stroke-width="0.9" fill="none" />
<line x1="280" y1="86.6" x2="280" y2="84.4" stroke="#333" stroke-width="0.8" />
<line x1="280" y1="35.4" x2="280" y2="37.6" stroke="#333" stroke-width="0.8" />
<line x1="302.6" y1="86.6" x2="302.6" y2="84.4" stroke="#333" stroke-width="0.8" />
<line x1="302.6" y1="35.4" x2="302.6" y2="37.6" stroke="#333" stroke-width="0.8" />
<line x1="325.2" y1="86.6" x2="325.2" y2="84.4" stroke="#333" stroke-width="0.8" />
<line x1="325.2" y1="35.4" x2="325.2" y2="37.6" stroke="#333" stroke-width="0.8" />
<line x1="347.8" y1="86.6" x2="347.8" y2="84.4" stroke="#333" stroke-width="0.8" />
<line x1="347.8" y1="35.4" x2="347.8" y2="37.6" stroke="#333" stroke-width="0.8" />
<line x1="291.3" y1="86.6" x2="291.3" y2="85.2" stroke="#333" stroke-width="0.8" />
<line x1="291.3" y1="35.4" x2="291.3" y2="36.8" stroke="#333" stroke-width="0.8" />
<line x1="313.9" y1="86.6" x2="313.9" y2="85.2" stroke="#333" stroke-width="0.8" />
<line x1="313.9" y1="35.4" x2="313.9" y2="36.8" stroke="#333" stroke-width="0.8" />
<line x1="336.5" y1="86.6" x2="336.5" y2="85.2" stroke="#333" stroke-width="0.8" />
<line x1="336.5" y1="35.4" x2="336.5" y2="36.8" stroke="#333" stroke-width="0.8" />
<line x1="274.3" y1="74.6" x2="276.5" y2="74.6" stroke="#333" stroke-width="0.8" />
<line x1="357.8" y1="74.6" x2="355.6" y2="74.6" stroke="#333" stroke-width="0.8" />
<line x1="274.3" y1="50" x2="276.5" y2="50" stroke="#333" stroke-width="0.8" />
<line x1="357.8" y1="50" x2="355.6" y2="50" stroke="#333" stroke-width="0.8" />
<line x1="274.3" y1="62.3" x2="275.7" y2="62.3" stroke="#333" stroke-width="0.8" />
<line x1="357.8" y1="62.3" x2="356.4" y2="62.3" stroke="#333" stroke-width="0.8" />
<line x1="274.3" y1="37.7" x2="275.7" y2="37.7" stroke="#333" stroke-width="0.8" />
<line x1="357.8" y1="37.7" x2="356.4" y2="37.7" stroke="#333" stroke-width="0.8" />
<text x="272.7" y="52.7" font-family='"Liberation Sans", sans-serif' font-size="7.7" fill="#111" font-weight="normal" font-style="normal" text-anchor="end" >0.5</text>
<text x="272.7" y="77.3" font-family='"Liberation Sans", sans-serif' font-size="7.7" fill="#111" font-weight="normal" font-style="normal" text-anchor="end" >0.0</text>
<text x="280" y="95.2" font-family='"Liberation Sans", sans-serif' font-size="7.6" fill="#111" font-weight="normal" font-style="normal" text-anchor="middle" >1.0</text>
<text x="302.6" y="95.2" font-family='"Liberation Sans", sans-serif' font-size="7.6" fill="#111" font-weight="normal" font-style="normal" text-anchor="middle" >1.2</text>
<text x="325.2" y="95.2" font-family='"Liberation Sans", sans-serif' font-size="7.6" fill="#111" font-weight="normal" font-style="normal" text-anchor="middle" >1.4</text>
<text x="347.8" y="95.2" font-family='"Liberation Sans", sans-serif' font-size="7.6" fill="#111" font-weight="normal" font-style="normal" text-anchor="middle" >1.6</text>
<text x="316.55" y="103.1" font-family='"Liberation Serif", serif' font-size="8.5" fill="#111" font-weight="bold" font-style="italic" text-anchor="middle" >E (V) vs RHE</text>
<text transform="translate(257.6,58) rotate(-90)" font-family='"Liberation Serif", serif' font-size="8.5" font-weight="bold" font-style="italic" fill="#111" text-anchor="middle"><tspan font-size="8.5">j</tspan><tspan font-size="5.53" dy="2.38">disk</tspan><tspan font-size="8.5" dy="-2.38">(mA cm</tspan><tspan font-size="5.53" dy="-3.23">-2</tspan><tspan font-size="8.5" dy="3.23">)</tspan></text>
<line x1="280.2" y1="44.6" x2="294.2" y2="44.6" stroke="#e4ccf9" stroke-width="1" />
<line x1="280.2" y1="53.4" x2="294.2" y2="53.4" stroke="#b266f4" stroke-width="1" />
<text x="296.2" y="47.2" font-family='"Liberation Sans", sans-serif' font-size="7.1" fill="#222" textLength="23" lengthAdjust="spacingAndGlyphs">1<tspan font-size="4.5" dy="-3">st</tspan><tspan dy="3"> cycle</tspan></text>
<text x="296.2" y="56" font-family='"Liberation Sans", sans-serif' font-size="7.1" fill="#222" textLength="24.2" lengthAdjust="spacingAndGlyphs">2<tspan font-size="4.5" dy="-3">nd</tspan><tspan dy="3"> cycle</tspan></text>
<rect x="276.3" y="143.4" width="83.3" height="52.9" fill="#fff"/>
<clipPath id="ci2"><rect x="276.3" y="143.4" width="83.3" height="52.9"/></clipPath>
<g clip-path="url(#ci2)">
<path d="M276.3,182.5 C277.75,182.05 281.65,180.65 285,179.8 C288.35,178.95 290.57,177.6 296.4,177.4 C302.23,177.2 313.13,178.93 320,178.6 C326.87,178.27 334.27,176.5 337.6,175.4 C340.93,174.3 339.35,173.73 340,172 C340.65,170.27 341.03,167.83 341.5,165 C341.97,162.17 342.43,159 342.8,155 C343.17,151 343.55,143.33 343.7,141" stroke="#c8e3fa" stroke-width="0.9" fill="none" stroke-linecap="round" />
<path d="M276.3,182 C280.25,181.92 292.72,181.67 300,181.5 C307.28,181.33 313.83,181.3 320,181 C326.17,180.7 333.67,180.53 337,179.7 C340.33,178.87 339.17,178.45 340,176 C340.83,173.55 341.42,168.5 342,165 C342.58,161.5 343.08,159 343.5,155 C343.92,151 344.33,143.33 344.5,141" stroke="#6db7f2" stroke-width="1" fill="none" stroke-linecap="round" />
<path d="M276.3,184.5 C277.42,184.67 281.1,185.2 283,185.5 C284.9,185.8 285.7,186.42 287.7,186.3 C289.7,186.18 289.62,185.08 295,184.8 C300.38,184.52 313,184.7 320,184.6 C327,184.5 333.67,184.8 337,184.2 C340.33,183.6 339.08,183.37 340,181 C340.92,178.63 341.83,173.83 342.5,170 C343.17,166.17 343.58,162.83 344,158 C344.42,153.17 344.83,143.83 345,141" stroke="#6db7f2" stroke-width="1" fill="none" stroke-linecap="round" />
</g>
<rect x="276.3" y="143.4" width="83.3" height="52.9" stroke="#333" stroke-width="0.9" fill="none" />
<line x1="281.5" y1="196.3" x2="281.5" y2="194.1" stroke="#333" stroke-width="0.8" />
<line x1="281.5" y1="143.4" x2="281.5" y2="145.6" stroke="#333" stroke-width="0.8" />
<line x1="304" y1="196.3" x2="304" y2="194.1" stroke="#333" stroke-width="0.8" />
<line x1="304" y1="143.4" x2="304" y2="145.6" stroke="#333" stroke-width="0.8" />
<line x1="326.5" y1="196.3" x2="326.5" y2="194.1" stroke="#333" stroke-width="0.8" />
<line x1="326.5" y1="143.4" x2="326.5" y2="145.6" stroke="#333" stroke-width="0.8" />
<line x1="349" y1="196.3" x2="349" y2="194.1" stroke="#333" stroke-width="0.8" />
<line x1="349" y1="143.4" x2="349" y2="145.6" stroke="#333" stroke-width="0.8" />
<line x1="292.75" y1="196.3" x2="292.75" y2="194.9" stroke="#333" stroke-width="0.8" />
<line x1="292.75" y1="143.4" x2="292.75" y2="144.8" stroke="#333" stroke-width="0.8" />
<line x1="315.25" y1="196.3" x2="315.25" y2="194.9" stroke="#333" stroke-width="0.8" />
<line x1="315.25" y1="143.4" x2="315.25" y2="144.8" stroke="#333" stroke-width="0.8" />
<line x1="337.75" y1="196.3" x2="337.75" y2="194.9" stroke="#333" stroke-width="0.8" />
<line x1="337.75" y1="143.4" x2="337.75" y2="144.8" stroke="#333" stroke-width="0.8" />
<line x1="276.3" y1="183.2" x2="278.5" y2="183.2" stroke="#333" stroke-width="0.8" />
<line x1="359.6" y1="183.2" x2="357.4" y2="183.2" stroke="#333" stroke-width="0.8" />
<line x1="276.3" y1="165.7" x2="278.5" y2="165.7" stroke="#333" stroke-width="0.8" />
<line x1="359.6" y1="165.7" x2="357.4" y2="165.7" stroke="#333" stroke-width="0.8" />
<line x1="276.3" y1="148.2" x2="278.5" y2="148.2" stroke="#333" stroke-width="0.8" />
<line x1="359.6" y1="148.2" x2="357.4" y2="148.2" stroke="#333" stroke-width="0.8" />
<line x1="276.3" y1="174.45" x2="277.7" y2="174.45" stroke="#333" stroke-width="0.8" />
<line x1="359.6" y1="174.45" x2="358.2" y2="174.45" stroke="#333" stroke-width="0.8" />
<line x1="276.3" y1="156.95" x2="277.7" y2="156.95" stroke="#333" stroke-width="0.8" />
<line x1="359.6" y1="156.95" x2="358.2" y2="156.95" stroke="#333" stroke-width="0.8" />
<line x1="276.3" y1="191.95" x2="277.7" y2="191.95" stroke="#333" stroke-width="0.8" />
<line x1="359.6" y1="191.95" x2="358.2" y2="191.95" stroke="#333" stroke-width="0.8" />
<text x="274.7" y="150.9" font-family='"Liberation Sans", sans-serif' font-size="7.7" fill="#111" font-weight="normal" font-style="normal" text-anchor="end" >0.4</text>
<text x="274.7" y="168.4" font-family='"Liberation Sans", sans-serif' font-size="7.7" fill="#111" font-weight="normal" font-style="normal" text-anchor="end" >0.2</text>
<text x="274.7" y="185.9" font-family='"Liberation Sans", sans-serif' font-size="7.7" fill="#111" font-weight="normal" font-style="normal" text-anchor="end" >0.0</text>
<text x="281.5" y="205.2" font-family='"Liberation Sans", sans-serif' font-size="7.6" fill="#111" font-weight="normal" font-style="normal" text-anchor="middle" >1.0</text>
<text x="304" y="205.2" font-family='"Liberation Sans", sans-serif' font-size="7.6" fill="#111" font-weight="normal" font-style="normal" text-anchor="middle" >1.2</text>
<text x="326.5" y="205.2" font-family='"Liberation Sans", sans-serif' font-size="7.6" fill="#111" font-weight="normal" font-style="normal" text-anchor="middle" >1.4</text>
<text x="349" y="205.2" font-family='"Liberation Sans", sans-serif' font-size="7.6" fill="#111" font-weight="normal" font-style="normal" text-anchor="middle" >1.6</text>
<text x="318.45" y="213" font-family='"Liberation Serif", serif' font-size="8.5" fill="#111" font-weight="bold" font-style="italic" text-anchor="middle" >E (V) vs RHE</text>
<text transform="translate(257.6,165.6) rotate(-90)" font-family='"Liberation Serif", serif' font-size="8.5" font-weight="bold" font-style="italic" fill="#111" text-anchor="middle"><tspan font-size="8.5">j</tspan><tspan font-size="5.53" dy="2.38">disk</tspan><tspan font-size="8.5" dy="-2.38">(mA cm</tspan><tspan font-size="5.53" dy="-3.23">-2</tspan><tspan font-size="8.5" dy="3.23">)</tspan></text>
<line x1="284.2" y1="153.4" x2="298.2" y2="153.4" stroke="#c8e3fa" stroke-width="1" />
<line x1="284.2" y1="162.5" x2="298.2" y2="162.5" stroke="#6db7f2" stroke-width="1" />
<text x="300.2" y="156" font-family='"Liberation Sans", sans-serif' font-size="7.1" fill="#222" textLength="23" lengthAdjust="spacingAndGlyphs">1<tspan font-size="4.5" dy="-3">st</tspan><tspan dy="3"> cycle</tspan></text>
<text x="300.2" y="165.1" font-family='"Liberation Sans", sans-serif' font-size="7.1" fill="#222" textLength="24.2" lengthAdjust="spacingAndGlyphs">2<tspan font-size="4.5" dy="-3">nd</tspan><tspan dy="3"> cycle</tspan></text>
<rect x="271.5" y="261.4" width="83" height="56.6" fill="#fff"/>
<clipPath id="ci3"><rect x="271.5" y="261.4" width="83" height="56.6"/></clipPath>
<g clip-path="url(#ci3)">
<path d="M271.5,302 C273.75,301.17 281.42,298.45 285,297 C288.58,295.55 290.52,294.25 293,293.3 C295.48,292.35 297.9,291.3 299.9,291.3 C301.9,291.3 303.1,292.18 305,293.3 C306.9,294.42 308.8,297.32 311.3,298 C313.8,298.68 316.5,297.83 320,297.4 C323.5,296.97 329.88,296.13 332.3,295.4 C334.72,294.67 333.92,294.23 334.5,293 C335.08,291.77 335.38,290.5 335.8,288 C336.22,285.5 336.55,282.83 337,278 C337.45,273.17 338.25,262.17 338.5,259" stroke="#fcd0cc" stroke-width="0.9" fill="none" stroke-linecap="round" />
<path d="M271.5,302.5 C272.92,302.33 277.42,301.78 280,301.5 C282.58,301.22 285,301.12 287,300.8 C289,300.48 290.33,299.65 292,299.6 C293.67,299.55 292.33,300.47 297,300.5 C301.67,300.53 314.17,300.18 320,299.8 C325.83,299.42 329.58,299 332,298.2 C334.42,297.4 333.83,296.7 334.5,295 C335.17,293.3 335.5,291.33 336,288 C336.5,284.67 337,279.83 337.5,275 C338,270.17 338.75,261.67 339,259" stroke="#f7928c" stroke-width="1" fill="none" stroke-linecap="round" />
<path d="M271.5,303.5 C272.92,303.67 277.75,304.13 280,304.5 C282.25,304.87 283.33,305.65 285,305.7 C286.67,305.75 285.83,305.03 290,304.8 C294.17,304.57 303,304.53 310,304.3 C317,304.07 327.92,303.95 332,303.4 C336.08,302.85 333.75,302.9 334.5,301 C335.25,299.1 335.92,295.83 336.5,292 C337.08,288.17 337.5,283.5 338,278 C338.5,272.5 339.25,262.17 339.5,259" stroke="#f7928c" stroke-width="1" fill="none" stroke-linecap="round" />
</g>
<rect x="271.5" y="261.4" width="83" height="56.6" stroke="#333" stroke-width="0.9" fill="none" />
<line x1="276.5" y1="318" x2="276.5" y2="315.8" stroke="#333" stroke-width="0.8" />
<line x1="276.5" y1="261.4" x2="276.5" y2="263.6" stroke="#333" stroke-width="0.8" />
<line x1="299.2" y1="318" x2="299.2" y2="315.8" stroke="#333" stroke-width="0.8" />
<line x1="299.2" y1="261.4" x2="299.2" y2="263.6" stroke="#333" stroke-width="0.8" />
<line x1="321.9" y1="318" x2="321.9" y2="315.8" stroke="#333" stroke-width="0.8" />
<line x1="321.9" y1="261.4" x2="321.9" y2="263.6" stroke="#333" stroke-width="0.8" />
<line x1="344.6" y1="318" x2="344.6" y2="315.8" stroke="#333" stroke-width="0.8" />
<line x1="344.6" y1="261.4" x2="344.6" y2="263.6" stroke="#333" stroke-width="0.8" />
<line x1="287.85" y1="318" x2="287.85" y2="316.6" stroke="#333" stroke-width="0.8" />
<line x1="287.85" y1="261.4" x2="287.85" y2="262.8" stroke="#333" stroke-width="0.8" />
<line x1="310.55" y1="318" x2="310.55" y2="316.6" stroke="#333" stroke-width="0.8" />
<line x1="310.55" y1="261.4" x2="310.55" y2="262.8" stroke="#333" stroke-width="0.8" />
<line x1="333.25" y1="318" x2="333.25" y2="316.6" stroke="#333" stroke-width="0.8" />
<line x1="333.25" y1="261.4" x2="333.25" y2="262.8" stroke="#333" stroke-width="0.8" />
<line x1="271.5" y1="302.9" x2="273.7" y2="302.9" stroke="#333" stroke-width="0.8" />
<line x1="354.5" y1="302.9" x2="352.3" y2="302.9" stroke="#333" stroke-width="0.8" />
<line x1="271.5" y1="282.1" x2="273.7" y2="282.1" stroke="#333" stroke-width="0.8" />
<line x1="354.5" y1="282.1" x2="352.3" y2="282.1" stroke="#333" stroke-width="0.8" />
<line x1="271.5" y1="261.3" x2="273.7" y2="261.3" stroke="#333" stroke-width="0.8" />
<line x1="354.5" y1="261.3" x2="352.3" y2="261.3" stroke="#333" stroke-width="0.8" />
<line x1="271.5" y1="292.5" x2="272.9" y2="292.5" stroke="#333" stroke-width="0.8" />
<line x1="354.5" y1="292.5" x2="353.1" y2="292.5" stroke="#333" stroke-width="0.8" />
<line x1="271.5" y1="271.7" x2="272.9" y2="271.7" stroke="#333" stroke-width="0.8" />
<line x1="354.5" y1="271.7" x2="353.1" y2="271.7" stroke="#333" stroke-width="0.8" />
<line x1="271.5" y1="313.3" x2="272.9" y2="313.3" stroke="#333" stroke-width="0.8" />
<line x1="354.5" y1="313.3" x2="353.1" y2="313.3" stroke="#333" stroke-width="0.8" />
<text x="269.9" y="264" font-family='"Liberation Sans", sans-serif' font-size="7.7" fill="#111" font-weight="normal" font-style="normal" text-anchor="end" >4</text>
<text x="269.9" y="284.8" font-family='"Liberation Sans", sans-serif' font-size="7.7" fill="#111" font-weight="normal" font-style="normal" text-anchor="end" >2</text>
<text x="269.9" y="305.6" font-family='"Liberation Sans", sans-serif' font-size="7.7" fill="#111" font-weight="normal" font-style="normal" text-anchor="end" >0</text>
<text x="276.5" y="326.8" font-family='"Liberation Sans", sans-serif' font-size="7.6" fill="#111" font-weight="normal" font-style="normal" text-anchor="middle" >1.0</text>
<text x="299.2" y="326.8" font-family='"Liberation Sans", sans-serif' font-size="7.6" fill="#111" font-weight="normal" font-style="normal" text-anchor="middle" >1.2</text>
<text x="321.9" y="326.8" font-family='"Liberation Sans", sans-serif' font-size="7.6" fill="#111" font-weight="normal" font-style="normal" text-anchor="middle" >1.4</text>
<text x="344.6" y="326.8" font-family='"Liberation Sans", sans-serif' font-size="7.6" fill="#111" font-weight="normal" font-style="normal" text-anchor="middle" >1.6</text>
<text x="313.5" y="334.4" font-family='"Liberation Serif", serif' font-size="8.5" fill="#111" font-weight="bold" font-style="italic" text-anchor="middle" >E (V) vs RHE</text>
<text transform="translate(259.2,285) rotate(-90)" font-family='"Liberation Serif", serif' font-size="8.5" font-weight="bold" font-style="italic" fill="#111" text-anchor="middle"><tspan font-size="8.5">j</tspan><tspan font-size="5.53" dy="2.38">disk</tspan><tspan font-size="8.5" dy="-2.38">(mA cm</tspan><tspan font-size="5.53" dy="-3.23">-2</tspan><tspan font-size="8.5" dy="3.23">)</tspan></text>
<line x1="279.8" y1="271.9" x2="293.8" y2="271.9" stroke="#fcd0cc" stroke-width="1" />
<line x1="279.8" y1="281.2" x2="293.8" y2="281.2" stroke="#f7928c" stroke-width="1" />
<text x="295.8" y="274.5" font-family='"Liberation Sans", sans-serif' font-size="7.1" fill="#222" textLength="23" lengthAdjust="spacingAndGlyphs">1<tspan font-size="4.5" dy="-3">st</tspan><tspan dy="3"> cycle</tspan></text>
<text x="295.8" y="283.8" font-family='"Liberation Sans", sans-serif' font-size="7.1" fill="#222" textLength="24.2" lengthAdjust="spacingAndGlyphs">2<tspan font-size="4.5" dy="-3">nd</tspan><tspan dy="3"> cycle</tspan></text>
<rect x="274.5" y="376.4" width="83.2" height="55.7" fill="#fff"/>
<clipPath id="ci4"><rect x="274.5" y="376.4" width="83.2" height="55.7"/></clipPath>
<g clip-path="url(#ci4)">
<path d="M274.5,414.9 C276.25,414.42 282.37,412.6 285,412 C287.63,411.4 287.8,411.23 290.3,411.3 C292.8,411.37 292.72,412.12 300,412.4 C307.28,412.68 327.73,413.45 334,413 C340.27,412.55 336.72,411.37 337.6,409.7 C338.48,408.03 338.82,406.28 339.3,403 C339.78,399.72 340.13,394.83 340.5,390 C340.87,385.17 341.33,376.67 341.5,374" stroke="#c4f6bc" stroke-width="0.9" fill="none" stroke-linecap="round" />
<path d="M274.5,415.8 C278.75,415.67 290.08,415.35 300,415 C309.92,414.65 327.83,414.28 334,413.7 C340.17,413.12 336.17,412.95 337,411.5 C337.83,410.05 338.42,408.25 339,405 C339.58,401.75 340,397.17 340.5,392 C341,386.83 341.75,377 342,374" stroke="#5ee85e" stroke-width="1" fill="none" stroke-linecap="round" />
<path d="M274.5,418.4 C277.08,418.33 280.08,418.28 290,418 C299.92,417.72 326.08,417.28 334,416.7 C341.92,416.12 336.58,416.12 337.5,414.5 C338.42,412.88 338.92,410.58 339.5,407 C340.08,403.42 340.5,398.5 341,393 C341.5,387.5 342.25,377.17 342.5,374" stroke="#5ee85e" stroke-width="1" fill="none" stroke-linecap="round" />
</g>
<rect x="274.5" y="376.4" width="83.2" height="55.7" stroke="#333" stroke-width="0.9" fill="none" />
<line x1="280.7" y1="432.1" x2="280.7" y2="429.9" stroke="#333" stroke-width="0.8" />
<line x1="280.7" y1="376.4" x2="280.7" y2="378.6" stroke="#333" stroke-width="0.8" />
<line x1="303.2" y1="432.1" x2="303.2" y2="429.9" stroke="#333" stroke-width="0.8" />
<line x1="303.2" y1="376.4" x2="303.2" y2="378.6" stroke="#333" stroke-width="0.8" />
<line x1="325.7" y1="432.1" x2="325.7" y2="429.9" stroke="#333" stroke-width="0.8" />
<line x1="325.7" y1="376.4" x2="325.7" y2="378.6" stroke="#333" stroke-width="0.8" />
<line x1="348.2" y1="432.1" x2="348.2" y2="429.9" stroke="#333" stroke-width="0.8" />
<line x1="348.2" y1="376.4" x2="348.2" y2="378.6" stroke="#333" stroke-width="0.8" />
<line x1="291.95" y1="432.1" x2="291.95" y2="430.7" stroke="#333" stroke-width="0.8" />
<line x1="291.95" y1="376.4" x2="291.95" y2="377.8" stroke="#333" stroke-width="0.8" />
<line x1="314.45" y1="432.1" x2="314.45" y2="430.7" stroke="#333" stroke-width="0.8" />
<line x1="314.45" y1="376.4" x2="314.45" y2="377.8" stroke="#333" stroke-width="0.8" />
<line x1="336.95" y1="432.1" x2="336.95" y2="430.7" stroke="#333" stroke-width="0.8" />
<line x1="336.95" y1="376.4" x2="336.95" y2="377.8" stroke="#333" stroke-width="0.8" />
<line x1="274.5" y1="416.7" x2="276.7" y2="416.7" stroke="#333" stroke-width="0.8" />
<line x1="357.7" y1="416.7" x2="355.5" y2="416.7" stroke="#333" stroke-width="0.8" />
<line x1="274.5" y1="396.5" x2="276.7" y2="396.5" stroke="#333" stroke-width="0.8" />
<line x1="357.7" y1="396.5" x2="355.5" y2="396.5" stroke="#333" stroke-width="0.8" />
<line x1="274.5" y1="376.3" x2="276.7" y2="376.3" stroke="#333" stroke-width="0.8" />
<line x1="357.7" y1="376.3" x2="355.5" y2="376.3" stroke="#333" stroke-width="0.8" />
<line x1="274.5" y1="406.6" x2="275.9" y2="406.6" stroke="#333" stroke-width="0.8" />
<line x1="357.7" y1="406.6" x2="356.3" y2="406.6" stroke="#333" stroke-width="0.8" />
<line x1="274.5" y1="386.4" x2="275.9" y2="386.4" stroke="#333" stroke-width="0.8" />
<line x1="357.7" y1="386.4" x2="356.3" y2="386.4" stroke="#333" stroke-width="0.8" />
<line x1="274.5" y1="426.8" x2="275.9" y2="426.8" stroke="#333" stroke-width="0.8" />
<line x1="357.7" y1="426.8" x2="356.3" y2="426.8" stroke="#333" stroke-width="0.8" />
<text x="272.9" y="379" font-family='"Liberation Sans", sans-serif' font-size="7.7" fill="#111" font-weight="normal" font-style="normal" text-anchor="end" >0.4</text>
<text x="272.9" y="399.2" font-family='"Liberation Sans", sans-serif' font-size="7.7" fill="#111" font-weight="normal" font-style="normal" text-anchor="end" >0.2</text>
<text x="272.9" y="419.4" font-family='"Liberation Sans", sans-serif' font-size="7.7" fill="#111" font-weight="normal" font-style="normal" text-anchor="end" >0.0</text>
<text x="280.7" y="440.6" font-family='"Liberation Sans", sans-serif' font-size="7.6" fill="#111" font-weight="normal" font-style="normal" text-anchor="middle" >1.0</text>
<text x="303.2" y="440.6" font-family='"Liberation Sans", sans-serif' font-size="7.6" fill="#111" font-weight="normal" font-style="normal" text-anchor="middle" >1.2</text>
<text x="325.7" y="440.6" font-family='"Liberation Sans", sans-serif' font-size="7.6" fill="#111" font-weight="normal" font-style="normal" text-anchor="middle" >1.4</text>
<text x="348.2" y="440.6" font-family='"Liberation Sans", sans-serif' font-size="7.6" fill="#111" font-weight="normal" font-style="normal" text-anchor="middle" >1.6</text>
<text x="316.6" y="448.7" font-family='"Liberation Serif", serif' font-size="8.5" fill="#111" font-weight="bold" font-style="italic" text-anchor="middle" >E (V) vs RHE</text>
<text transform="translate(257.8,399.6) rotate(-90)" font-family='"Liberation Serif", serif' font-size="8.5" font-weight="bold" font-style="italic" fill="#111" text-anchor="middle"><tspan font-size="8.5">j</tspan><tspan font-size="5.53" dy="2.38">disk</tspan><tspan font-size="8.5" dy="-2.38">(mA cm</tspan><tspan font-size="5.53" dy="-3.23">-2</tspan><tspan font-size="8.5" dy="3.23">)</tspan></text>
<line x1="283.3" y1="389.5" x2="297.3" y2="389.5" stroke="#c4f6bc" stroke-width="1" />
<line x1="283.3" y1="398.3" x2="297.3" y2="398.3" stroke="#5ee85e" stroke-width="1" />
<text x="299.3" y="392.1" font-family='"Liberation Sans", sans-serif' font-size="7.1" fill="#222" textLength="23" lengthAdjust="spacingAndGlyphs">1<tspan font-size="4.5" dy="-3">st</tspan><tspan dy="3"> cycle</tspan></text>
<text x="299.3" y="400.9" font-family='"Liberation Sans", sans-serif' font-size="7.1" fill="#222" textLength="24.2" lengthAdjust="spacingAndGlyphs">2<tspan font-size="4.5" dy="-3">nd</tspan><tspan dy="3"> cycle</tspan></text>
<text x="256.9" y="123.8" font-family='"Liberation Serif", serif' font-size="9.57" fill="#b266f4" font-weight="normal" font-style="normal" text-anchor="start" ><tspan font-size="9.57">Co</tspan><tspan font-size="6.22" dy="2.68">3</tspan><tspan font-size="9.57" dy="-2.68">O</tspan><tspan font-size="6.22" dy="2.68">4</tspan></text>
<text x="390.6" y="69.4" font-family='"Liberation Serif", serif' font-size="8.55" fill="#b266f4" font-weight="normal" font-style="normal" text-anchor="start" ><tspan font-size="8.55">Co</tspan><tspan font-size="5.56" dy="2.39">3</tspan><tspan font-size="8.55" dy="-2.39">O</tspan><tspan font-size="5.56" dy="2.39">4</tspan><tspan font-size="8.55" dy="-2.39"> (S)</tspan></text>
<text x="379" y="108.1" font-family='"Liberation Serif", serif' font-size="8.55" fill="#c8c8c8" font-weight="normal" font-style="normal" text-anchor="start" ><tspan font-size="8.55">Co</tspan><tspan font-size="5.56" dy="2.4">3</tspan><tspan font-size="8.55" dy="-2.4">O</tspan><tspan font-size="5.56" dy="2.4">4</tspan><tspan font-size="8.55" dy="-2.4"> Pristine</tspan></text>
<line x1="391.1" y1="32.4" x2="391.1" y2="53.7" stroke="#b266f4" stroke-width="1" />
<line x1="388.5" y1="32.4" x2="393.7" y2="32.4" stroke="#b266f4" stroke-width="1" />
<line x1="388.5" y1="53.7" x2="393.7" y2="53.7" stroke="#b266f4" stroke-width="1" />
<text x="394.6" y="43.8" font-family='"Liberation Serif", serif' font-size="8.91" fill="#b266f4" font-weight="bold" font-style="italic" text-anchor="start" ><tspan font-size="8.91">1 mA cm</tspan><tspan font-size="5.79" dy="-3.56">-2</tspan><tspan font-size="5.79" dy="6.68" dx="-4.63">disk</tspan></text>
<text x="259.7" y="233.6" font-family='"Liberation Serif", serif' font-size="9.78" fill="#6db7f2" font-weight="normal" font-style="normal" text-anchor="start" ><tspan font-size="9.78">Co</tspan><tspan font-size="6.36" dy="2.74">2.75</tspan><tspan font-size="9.78" dy="-2.74">Fe</tspan><tspan font-size="6.36" dy="2.74">0.25</tspan><tspan font-size="9.78" dy="-2.74">O</tspan><tspan font-size="6.36" dy="2.74">4</tspan></text>
<text x="377.7" y="200.4" font-family='"Liberation Serif", serif' font-size="8.66" fill="#6db7f2" font-weight="normal" font-style="normal" text-anchor="start" ><tspan font-size="8.66">Co</tspan><tspan font-size="5.63" dy="2.43">2.75</tspan><tspan font-size="8.66" dy="-2.43">Fe</tspan><tspan font-size="5.63" dy="2.43">0.25</tspan><tspan font-size="8.66" dy="-2.43">O</tspan><tspan font-size="5.63" dy="2.43">4</tspan><tspan font-size="8.66" dy="-2.43"> (S)</tspan></text>
<text x="384.4" y="229.8" font-family='"Liberation Serif", serif' font-size="8.58" fill="#c8c8c8" font-weight="normal" font-style="normal" text-anchor="start" ><tspan font-size="8.58">Co</tspan><tspan font-size="5.58" dy="2.4">2.75</tspan><tspan font-size="8.58" dy="-2.4">Fe</tspan><tspan font-size="5.58" dy="2.4">0.25</tspan><tspan font-size="8.58" dy="-2.4">O</tspan><tspan font-size="5.58" dy="2.4">4</tspan></text>
<text x="395" y="241.3" font-family='"Liberation Serif", serif' font-size="8.44" fill="#c8c8c8" font-weight="normal" font-style="normal" text-anchor="start" >Pristine</text>
<line x1="385.6" y1="166.2" x2="385.6" y2="186" stroke="#6db7f2" stroke-width="1" />
<line x1="383" y1="166.2" x2="388.2" y2="166.2" stroke="#6db7f2" stroke-width="1" />
<line x1="383" y1="186" x2="388.2" y2="186" stroke="#6db7f2" stroke-width="1" />
<text x="387.7" y="177.5" font-family='"Liberation Serif", serif' font-size="8.97" fill="#6db7f2" font-weight="bold" font-style="italic" text-anchor="start" ><tspan font-size="8.97">4 mA cm</tspan><tspan font-size="5.83" dy="-3.59">-2</tspan><tspan font-size="5.83" dy="6.73" dx="-4.66">disk</tspan></text>
<text x="259.7" y="359" font-family='"Liberation Serif", serif' font-size="9.52" fill="#f7928c" font-weight="normal" font-style="normal" text-anchor="start" ><tspan font-size="9.52">FeCo</tspan><tspan font-size="6.19" dy="2.67">2</tspan><tspan font-size="9.52" dy="-2.67">O</tspan><tspan font-size="6.19" dy="2.67">4</tspan></text>
<text x="375.8" y="313.8" font-family='"Liberation Serif", serif' font-size="9.58" fill="#f7928c" font-weight="normal" font-style="normal" text-anchor="start" ><tspan font-size="9.58">FeCo</tspan><tspan font-size="6.23" dy="2.68">2</tspan><tspan font-size="9.58" dy="-2.68">O</tspan><tspan font-size="6.23" dy="2.68">4</tspan><tspan font-size="9.58" dy="-2.68"> (S)</tspan></text>
<text x="388.7" y="334.6" font-family='"Liberation Serif", serif' font-size="9.38" fill="#c8c8c8" font-weight="normal" font-style="normal" text-anchor="start" ><tspan font-size="9.38">FeCo</tspan><tspan font-size="6.1" dy="2.63">2</tspan><tspan font-size="9.38" dy="-2.63">O</tspan><tspan font-size="6.1" dy="2.63">4</tspan></text>
<text x="391.2" y="347.5" font-family='"Liberation Serif", serif' font-size="9.43" fill="#c8c8c8" font-weight="normal" font-style="normal" text-anchor="start" >Pristine</text>
<line x1="376.2" y1="275.4" x2="376.2" y2="294.2" stroke="#f7928c" stroke-width="1" />
<line x1="373.6" y1="275.4" x2="378.8" y2="275.4" stroke="#f7928c" stroke-width="1" />
<line x1="373.6" y1="294.2" x2="378.8" y2="294.2" stroke="#f7928c" stroke-width="1" />
<text x="381.9" y="286" font-family='"Liberation Serif", serif' font-size="8.97" fill="#f7928c" font-weight="bold" font-style="italic" text-anchor="start" ><tspan font-size="8.97">2 mA cm</tspan><tspan font-size="5.83" dy="-3.59">-2</tspan><tspan font-size="5.83" dy="6.73" dx="-4.66">disk</tspan></text>
<text x="255.3" y="471" font-family='"Liberation Serif", serif' font-size="9.69" fill="#5ee85e" font-weight="normal" font-style="normal" text-anchor="start" ><tspan font-size="9.69">CoFe</tspan><tspan font-size="6.3" dy="2.71">2</tspan><tspan font-size="9.69" dy="-2.71">O</tspan><tspan font-size="6.3" dy="2.71">4</tspan></text>
<text x="371.3" y="431.9" font-family='"Liberation Serif", serif' font-size="9.6" fill="#5ee85e" font-weight="normal" font-style="normal" text-anchor="start" ><tspan font-size="9.6">CoFe</tspan><tspan font-size="6.24" dy="2.69">2</tspan><tspan font-size="9.6" dy="-2.69">O</tspan><tspan font-size="6.24" dy="2.69">4</tspan><tspan font-size="9.6" dy="-2.69"> (S)</tspan></text>
<text x="376.2" y="452.1" font-family='"Liberation Serif", serif' font-size="9.49" fill="#c8c8c8" font-weight="normal" font-style="normal" text-anchor="start" ><tspan font-size="9.49">CoFe</tspan><tspan font-size="6.17" dy="2.66">2</tspan><tspan font-size="9.49" dy="-2.66">O</tspan><tspan font-size="6.17" dy="2.66">4</tspan></text>
<text x="379" y="465.2" font-family='"Liberation Serif", serif' font-size="9.65" fill="#c8c8c8" font-weight="normal" font-style="normal" text-anchor="start" >Pristine</text>
<line x1="375.2" y1="392.5" x2="375.2" y2="411.7" stroke="#5ee85e" stroke-width="1" />
<line x1="372.6" y1="392.5" x2="377.8" y2="392.5" stroke="#5ee85e" stroke-width="1" />
<line x1="372.6" y1="411.7" x2="377.8" y2="411.7" stroke="#5ee85e" stroke-width="1" />
<text x="380.4" y="401.5" font-family='"Liberation Serif", serif' font-size="8.89" fill="#5ee85e" font-weight="bold" font-style="italic" text-anchor="start" ><tspan font-size="8.89">0.5 mA cm</tspan><tspan font-size="5.78" dy="-3.56">-2</tspan><tspan font-size="5.78" dy="6.67" dx="-4.62">disk</tspan></text>
<rect x="247.6" y="15.8" width="193.1" height="466.7" stroke="#444" stroke-width="1.1" fill="none" />
<line x1="312" y1="482.5" x2="312" y2="477.5" stroke="#444" stroke-width="0.9" />
<line x1="312" y1="15.8" x2="312" y2="20.8" stroke="#444" stroke-width="0.9" />
<line x1="376.4" y1="482.5" x2="376.4" y2="477.5" stroke="#444" stroke-width="0.9" />
<line x1="376.4" y1="15.8" x2="376.4" y2="20.8" stroke="#444" stroke-width="0.9" />
<line x1="279.8" y1="482.5" x2="279.8" y2="480" stroke="#444" stroke-width="0.9" />
<line x1="279.8" y1="15.8" x2="279.8" y2="18.3" stroke="#444" stroke-width="0.9" />
<line x1="344.2" y1="482.5" x2="344.2" y2="480" stroke="#444" stroke-width="0.9" />
<line x1="344.2" y1="15.8" x2="344.2" y2="18.3" stroke="#444" stroke-width="0.9" />
<line x1="408.6" y1="482.5" x2="408.6" y2="480" stroke="#444" stroke-width="0.9" />
<line x1="408.6" y1="15.8" x2="408.6" y2="18.3" stroke="#444" stroke-width="0.9" />
<text x="247.6" y="497.3" font-family='"Liberation Sans", sans-serif' font-size="10" fill="#111" font-weight="normal" font-style="normal" text-anchor="middle" >1.2</text>
<text x="312" y="497.3" font-family='"Liberation Sans", sans-serif' font-size="10" fill="#111" font-weight="normal" font-style="normal" text-anchor="middle" >1.4</text>
<text x="376.4" y="497.3" font-family='"Liberation Sans", sans-serif' font-size="10" fill="#111" font-weight="normal" font-style="normal" text-anchor="middle" >1.6</text>
<text x="440.8" y="497.3" font-family='"Liberation Sans", sans-serif' font-size="10" fill="#111" font-weight="normal" font-style="normal" text-anchor="middle" >1.8</text>
<text x="344.2" y="517.2" font-family='"Liberation Serif", serif' font-size="12.5" fill="#111" font-weight="bold" font-style="italic" text-anchor="middle" >E (V) vs RHE</text>
<text transform="translate(240,224.6) rotate(-90)" font-family='"Liberation Serif", serif' font-size="12.6" font-weight="bold" font-style="italic" fill="#111" text-anchor="middle"><tspan font-size="12.6">j (mA cm</tspan><tspan font-size="8.19" dy="-5.29">-2</tspan><tspan font-size="8.19" dy="9.07" dx="-6.55">disk</tspan><tspan font-size="12.6" dy="-3.78">)</tspan></text>
<text x="456.1" y="10.6" font-family='"Liberation Serif", serif' font-size="16" fill="#111" font-weight="normal" font-style="normal" textLength="16.7" lengthAdjust="spacingAndGlyphs" >(d)</text>
<polyline points="508.3,90.2 523.8,79.5 538.5,68.2 552.4,59.6 560.6,53.8" stroke="#f03a3a" stroke-width="0.9" fill="none" stroke-linejoin="round" />
<polyline points="508.3,88.1 523.8,76.9 538.5,65.6 548,57.4 559.4,47.8" stroke="#f8cf3c" stroke-width="0.9" fill="none" stroke-linejoin="round" />
<polyline points="539,84.8 554.4,74.7 569.2,63.6 582.3,54.7 590.1,47.8" stroke="#3ed8f0" stroke-width="0.9" fill="none" stroke-linejoin="round" />
<polyline points="590.5,88 605.6,81.4 621.1,74.3 636.6,66.1 648.9,57.3 658.2,50" stroke="#72e872" stroke-width="0.9" fill="none" stroke-linejoin="round" />
<g stroke="#f03a3a" stroke-width="0.8" fill="none"><circle cx="508.3" cy="90.2" r="3.3"/><line x1="501.8" y1="89.2" x2="514.8" y2="89.2"/><line x1="501.8" y1="91.2" x2="514.8" y2="91.2"/><line x1="508.3" y1="86.9" x2="508.3" y2="93.5"/></g>
<g stroke="#f03a3a" stroke-width="0.8" fill="none"><circle cx="523.8" cy="79.5" r="3.3"/><line x1="517.3" y1="78.5" x2="530.3" y2="78.5"/><line x1="517.3" y1="80.5" x2="530.3" y2="80.5"/><line x1="523.8" y1="76.2" x2="523.8" y2="82.8"/></g>
<g stroke="#f03a3a" stroke-width="0.8" fill="none"><circle cx="538.5" cy="68.2" r="3.3"/><line x1="532" y1="67.2" x2="545" y2="67.2"/><line x1="532" y1="69.2" x2="545" y2="69.2"/><line x1="538.5" y1="64.9" x2="538.5" y2="71.5"/></g>
<g stroke="#f03a3a" stroke-width="0.8" fill="none"><circle cx="552.4" cy="59.6" r="3.3"/><line x1="545.9" y1="58.6" x2="558.9" y2="58.6"/><line x1="545.9" y1="60.6" x2="558.9" y2="60.6"/><line x1="552.4" y1="56.3" x2="552.4" y2="62.9"/></g>
<g stroke="#f03a3a" stroke-width="0.8" fill="none"><circle cx="560.6" cy="53.8" r="3.3"/><line x1="554.1" y1="52.8" x2="567.1" y2="52.8"/><line x1="554.1" y1="54.8" x2="567.1" y2="54.8"/><line x1="560.6" y1="50.5" x2="560.6" y2="57.1"/></g>
<g stroke="#f8cf3c" stroke-width="0.8" fill="none"><circle cx="508.3" cy="88.1" r="3.3"/><line x1="501.8" y1="87.1" x2="514.8" y2="87.1"/><line x1="501.8" y1="89.1" x2="514.8" y2="89.1"/><line x1="508.3" y1="84.8" x2="508.3" y2="91.4"/></g>
<g stroke="#f8cf3c" stroke-width="0.8" fill="none"><circle cx="523.8" cy="76.9" r="3.3"/><line x1="517.3" y1="75.9" x2="530.3" y2="75.9"/><line x1="517.3" y1="77.9" x2="530.3" y2="77.9"/><line x1="523.8" y1="73.6" x2="523.8" y2="80.2"/></g>
<g stroke="#f8cf3c" stroke-width="0.8" fill="none"><circle cx="538.5" cy="65.6" r="3.3"/><line x1="532" y1="64.6" x2="545" y2="64.6"/><line x1="532" y1="66.6" x2="545" y2="66.6"/><line x1="538.5" y1="62.3" x2="538.5" y2="68.9"/></g>
<g stroke="#f8cf3c" stroke-width="0.8" fill="none"><circle cx="548" cy="57.4" r="3.3"/><line x1="541.5" y1="56.4" x2="554.5" y2="56.4"/><line x1="541.5" y1="58.4" x2="554.5" y2="58.4"/><line x1="548" y1="54.1" x2="548" y2="60.7"/></g>
<g stroke="#f8cf3c" stroke-width="0.8" fill="none"><circle cx="559.4" cy="47.8" r="3.3"/><line x1="552.9" y1="46.8" x2="565.9" y2="46.8"/><line x1="552.9" y1="48.8" x2="565.9" y2="48.8"/><line x1="559.4" y1="44.5" x2="559.4" y2="51.1"/></g>
<g stroke="#3ed8f0" stroke-width="0.8" fill="none"><rect x="536" y="81.8" width="6" height="6"/><line x1="532.5" y1="83.8" x2="545.5" y2="83.8"/><line x1="532.5" y1="85.8" x2="545.5" y2="85.8"/><line x1="539" y1="81.8" x2="539" y2="87.8"/></g>
<g stroke="#3ed8f0" stroke-width="0.8" fill="none"><rect x="551.4" y="71.7" width="6" height="6"/><line x1="547.9" y1="73.7" x2="560.9" y2="73.7"/><line x1="547.9" y1="75.7" x2="560.9" y2="75.7"/><line x1="554.4" y1="71.7" x2="554.4" y2="77.7"/></g>
<g stroke="#3ed8f0" stroke-width="0.8" fill="none"><rect x="566.2" y="60.6" width="6" height="6"/><line x1="562.7" y1="62.6" x2="575.7" y2="62.6"/><line x1="562.7" y1="64.6" x2="575.7" y2="64.6"/><line x1="569.2" y1="60.6" x2="569.2" y2="66.6"/></g>
<g stroke="#3ed8f0" stroke-width="0.8" fill="none"><rect x="579.3" y="51.7" width="6" height="6"/><line x1="575.8" y1="53.7" x2="588.8" y2="53.7"/><line x1="575.8" y1="55.7" x2="588.8" y2="55.7"/><line x1="582.3" y1="51.7" x2="582.3" y2="57.7"/></g>
<g stroke="#3ed8f0" stroke-width="0.8" fill="none"><rect x="587.1" y="44.8" width="6" height="6"/><line x1="583.6" y1="46.8" x2="596.6" y2="46.8"/><line x1="583.6" y1="48.8" x2="596.6" y2="48.8"/><line x1="590.1" y1="44.8" x2="590.1" y2="50.8"/></g>
<g stroke="#72e872" stroke-width="0.8" fill="none"><path d="M590.5,84 L594.5,88 L590.5,92 L586.5,88 Z"/><line x1="583.5" y1="87" x2="597.5" y2="87"/><line x1="583.5" y1="89" x2="597.5" y2="89"/><line x1="590.5" y1="84" x2="590.5" y2="92"/></g>
<g stroke="#72e872" stroke-width="0.8" fill="none"><path d="M605.6,77.4 L609.6,81.4 L605.6,85.4 L601.6,81.4 Z"/><line x1="598.6" y1="80.4" x2="612.6" y2="80.4"/><line x1="598.6" y1="82.4" x2="612.6" y2="82.4"/><line x1="605.6" y1="77.4" x2="605.6" y2="85.4"/></g>
<g stroke="#72e872" stroke-width="0.8" fill="none"><path d="M621.1,70.3 L625.1,74.3 L621.1,78.3 L617.1,74.3 Z"/><line x1="614.1" y1="73.3" x2="628.1" y2="73.3"/><line x1="614.1" y1="75.3" x2="628.1" y2="75.3"/><line x1="621.1" y1="70.3" x2="621.1" y2="78.3"/></g>
<g stroke="#72e872" stroke-width="0.8" fill="none"><path d="M636.6,62.1 L640.6,66.1 L636.6,70.1 L632.6,66.1 Z"/><line x1="629.6" y1="65.1" x2="643.6" y2="65.1"/><line x1="629.6" y1="67.1" x2="643.6" y2="67.1"/><line x1="636.6" y1="62.1" x2="636.6" y2="70.1"/></g>
<g stroke="#72e872" stroke-width="0.8" fill="none"><path d="M648.9,53.3 L652.9,57.3 L648.9,61.3 L644.9,57.3 Z"/><line x1="641.9" y1="56.3" x2="655.9" y2="56.3"/><line x1="641.9" y1="58.3" x2="655.9" y2="58.3"/><line x1="648.9" y1="53.3" x2="648.9" y2="61.3"/></g>
<g stroke="#72e872" stroke-width="0.8" fill="none"><path d="M658.2,46 L662.2,50 L658.2,54 L654.2,50 Z"/><line x1="651.2" y1="49" x2="665.2" y2="49"/><line x1="651.2" y1="51" x2="665.2" y2="51"/><line x1="658.2" y1="46" x2="658.2" y2="54"/></g>
<text x="532.8" y="39.4" font-family='"Liberation Serif", serif' font-size="9.27" fill="#f8cf3c" font-weight="normal" font-style="normal" text-anchor="start" ><tspan font-size="9.27">FeCo</tspan><tspan font-size="6.02" dy="2.59">2</tspan><tspan font-size="9.27" dy="-2.59">O</tspan><tspan font-size="6.02" dy="2.59">4</tspan></text>
<text x="501" y="105.4" font-family='"Liberation Serif", serif' font-size="9.41" fill="#f03a3a" font-weight="normal" font-style="normal" text-anchor="start" ><tspan font-size="9.41">CoFe</tspan><tspan font-size="6.12" dy="2.63">2</tspan><tspan font-size="9.41" dy="-2.63">O</tspan><tspan font-size="6.12" dy="2.63">4</tspan></text>
<text x="576.1" y="37.4" font-family='"Liberation Serif", serif' font-size="8.71" fill="#3ed8f0" font-weight="normal" font-style="normal" text-anchor="start" ><tspan font-size="8.71">Co</tspan><tspan font-size="5.66" dy="2.44">2.75</tspan><tspan font-size="8.71" dy="-2.44">Fe</tspan><tspan font-size="5.66" dy="2.44">0.25</tspan><tspan font-size="8.71" dy="-2.44">O</tspan><tspan font-size="5.66" dy="2.44">4</tspan></text>
<text x="603.2" y="102" font-family='"Liberation Serif", serif' font-size="8.68" fill="#72e872" font-weight="normal" font-style="normal" text-anchor="start" ><tspan font-size="8.68">Co</tspan><tspan font-size="5.64" dy="2.43">2.75</tspan><tspan font-size="8.68" dy="-2.43">Fe</tspan><tspan font-size="5.64" dy="2.43">0.25</tspan><tspan font-size="8.68" dy="-2.43">O</tspan><tspan font-size="5.64" dy="2.43">4</tspan><tspan font-size="8.68" dy="-2.43"> (S)</tspan></text>
<rect x="493.1" y="16.4" width="173.3" height="112.7" stroke="#8a8a8a" stroke-width="1" fill="none" />
<line x1="492.6" y1="129.1" x2="666.9" y2="129.1" stroke="#3a3a3a" stroke-width="1.2" />
<line x1="503.75" y1="129.1" x2="503.75" y2="126.8" stroke="#888" stroke-width="0.8" />
<line x1="503.75" y1="16.4" x2="503.75" y2="18.7" stroke="#888" stroke-width="0.8" />
<line x1="512.73" y1="129.1" x2="512.73" y2="126.8" stroke="#888" stroke-width="0.8" />
<line x1="512.73" y1="16.4" x2="512.73" y2="18.7" stroke="#888" stroke-width="0.8" />
<line x1="519.11" y1="129.1" x2="519.11" y2="126.8" stroke="#888" stroke-width="0.8" />
<line x1="519.11" y1="16.4" x2="519.11" y2="18.7" stroke="#888" stroke-width="0.8" />
<line x1="524.05" y1="129.1" x2="524.05" y2="126.8" stroke="#888" stroke-width="0.8" />
<line x1="524.05" y1="16.4" x2="524.05" y2="18.7" stroke="#888" stroke-width="0.8" />
<line x1="528.09" y1="129.1" x2="528.09" y2="126.8" stroke="#888" stroke-width="0.8" />
<line x1="528.09" y1="16.4" x2="528.09" y2="18.7" stroke="#888" stroke-width="0.8" />
<line x1="531.5" y1="129.1" x2="531.5" y2="126.8" stroke="#888" stroke-width="0.8" />
<line x1="531.5" y1="16.4" x2="531.5" y2="18.7" stroke="#888" stroke-width="0.8" />
<line x1="534.46" y1="129.1" x2="534.46" y2="126.8" stroke="#888" stroke-width="0.8" />
<line x1="534.46" y1="16.4" x2="534.46" y2="18.7" stroke="#888" stroke-width="0.8" />
<line x1="537.07" y1="129.1" x2="537.07" y2="126.8" stroke="#888" stroke-width="0.8" />
<line x1="537.07" y1="16.4" x2="537.07" y2="18.7" stroke="#888" stroke-width="0.8" />
<line x1="539.4" y1="129.1" x2="539.4" y2="124.6" stroke="#333" stroke-width="0.9" />
<line x1="539.4" y1="16.4" x2="539.4" y2="20.9" stroke="#555" stroke-width="0.9" />
<line x1="554.75" y1="129.1" x2="554.75" y2="126.8" stroke="#888" stroke-width="0.8" />
<line x1="554.75" y1="16.4" x2="554.75" y2="18.7" stroke="#888" stroke-width="0.8" />
<line x1="563.73" y1="129.1" x2="563.73" y2="126.8" stroke="#888" stroke-width="0.8" />
<line x1="563.73" y1="16.4" x2="563.73" y2="18.7" stroke="#888" stroke-width="0.8" />
<line x1="570.11" y1="129.1" x2="570.11" y2="126.8" stroke="#888" stroke-width="0.8" />
<line x1="570.11" y1="16.4" x2="570.11" y2="18.7" stroke="#888" stroke-width="0.8" />
<line x1="575.05" y1="129.1" x2="575.05" y2="126.8" stroke="#888" stroke-width="0.8" />
<line x1="575.05" y1="16.4" x2="575.05" y2="18.7" stroke="#888" stroke-width="0.8" />
<line x1="579.09" y1="129.1" x2="579.09" y2="126.8" stroke="#888" stroke-width="0.8" />
<line x1="579.09" y1="16.4" x2="579.09" y2="18.7" stroke="#888" stroke-width="0.8" />
<line x1="582.5" y1="129.1" x2="582.5" y2="126.8" stroke="#888" stroke-width="0.8" />
<line x1="582.5" y1="16.4" x2="582.5" y2="18.7" stroke="#888" stroke-width="0.8" />
<line x1="585.46" y1="129.1" x2="585.46" y2="126.8" stroke="#888" stroke-width="0.8" />
<line x1="585.46" y1="16.4" x2="585.46" y2="18.7" stroke="#888" stroke-width="0.8" />
<line x1="588.07" y1="129.1" x2="588.07" y2="126.8" stroke="#888" stroke-width="0.8" />
<line x1="588.07" y1="16.4" x2="588.07" y2="18.7" stroke="#888" stroke-width="0.8" />
<line x1="590.4" y1="129.1" x2="590.4" y2="124.6" stroke="#333" stroke-width="0.9" />
<line x1="590.4" y1="16.4" x2="590.4" y2="20.9" stroke="#555" stroke-width="0.9" />
<line x1="605.75" y1="129.1" x2="605.75" y2="126.8" stroke="#888" stroke-width="0.8" />
<line x1="605.75" y1="16.4" x2="605.75" y2="18.7" stroke="#888" stroke-width="0.8" />
<line x1="614.73" y1="129.1" x2="614.73" y2="126.8" stroke="#888" stroke-width="0.8" />
<line x1="614.73" y1="16.4" x2="614.73" y2="18.7" stroke="#888" stroke-width="0.8" />
<line x1="621.11" y1="129.1" x2="621.11" y2="126.8" stroke="#888" stroke-width="0.8" />
<line x1="621.11" y1="16.4" x2="621.11" y2="18.7" stroke="#888" stroke-width="0.8" />
<line x1="626.05" y1="129.1" x2="626.05" y2="126.8" stroke="#888" stroke-width="0.8" />
<line x1="626.05" y1="16.4" x2="626.05" y2="18.7" stroke="#888" stroke-width="0.8" />
<line x1="630.09" y1="129.1" x2="630.09" y2="126.8" stroke="#888" stroke-width="0.8" />
<line x1="630.09" y1="16.4" x2="630.09" y2="18.7" stroke="#888" stroke-width="0.8" />
<line x1="633.5" y1="129.1" x2="633.5" y2="126.8" stroke="#888" stroke-width="0.8" />
<line x1="633.5" y1="16.4" x2="633.5" y2="18.7" stroke="#888" stroke-width="0.8" />
<line x1="636.46" y1="129.1" x2="636.46" y2="126.8" stroke="#888" stroke-width="0.8" />
<line x1="636.46" y1="16.4" x2="636.46" y2="18.7" stroke="#888" stroke-width="0.8" />
<line x1="639.07" y1="129.1" x2="639.07" y2="126.8" stroke="#888" stroke-width="0.8" />
<line x1="639.07" y1="16.4" x2="639.07" y2="18.7" stroke="#888" stroke-width="0.8" />
<line x1="641.4" y1="129.1" x2="641.4" y2="124.6" stroke="#333" stroke-width="0.9" />
<line x1="641.4" y1="16.4" x2="641.4" y2="20.9" stroke="#555" stroke-width="0.9" />
<line x1="656.75" y1="129.1" x2="656.75" y2="126.8" stroke="#888" stroke-width="0.8" />
<line x1="656.75" y1="16.4" x2="656.75" y2="18.7" stroke="#888" stroke-width="0.8" />
<line x1="665.73" y1="129.1" x2="665.73" y2="126.8" stroke="#888" stroke-width="0.8" />
<line x1="665.73" y1="16.4" x2="665.73" y2="18.7" stroke="#888" stroke-width="0.8" />
<line x1="493.1" y1="123.2" x2="496.1" y2="123.2" stroke="#777" stroke-width="0.8" />
<line x1="666.4" y1="123.2" x2="663.4" y2="123.2" stroke="#777" stroke-width="0.8" />
<line x1="493.1" y1="107.45" x2="496.1" y2="107.45" stroke="#777" stroke-width="0.8" />
<line x1="666.4" y1="107.45" x2="663.4" y2="107.45" stroke="#777" stroke-width="0.8" />
<line x1="493.1" y1="91.7" x2="496.1" y2="91.7" stroke="#777" stroke-width="0.8" />
<line x1="666.4" y1="91.7" x2="663.4" y2="91.7" stroke="#777" stroke-width="0.8" />
<line x1="493.1" y1="75.95" x2="496.1" y2="75.95" stroke="#777" stroke-width="0.8" />
<line x1="666.4" y1="75.95" x2="663.4" y2="75.95" stroke="#777" stroke-width="0.8" />
<line x1="493.1" y1="60.2" x2="496.1" y2="60.2" stroke="#777" stroke-width="0.8" />
<line x1="666.4" y1="60.2" x2="663.4" y2="60.2" stroke="#777" stroke-width="0.8" />
<line x1="493.1" y1="44.45" x2="496.1" y2="44.45" stroke="#777" stroke-width="0.8" />
<line x1="666.4" y1="44.45" x2="663.4" y2="44.45" stroke="#777" stroke-width="0.8" />
<line x1="493.1" y1="28.7" x2="496.1" y2="28.7" stroke="#777" stroke-width="0.8" />
<line x1="666.4" y1="28.7" x2="663.4" y2="28.7" stroke="#777" stroke-width="0.8" />
<text x="489.2" y="126" font-family='"Liberation Sans", sans-serif' font-size="7.9" fill="#111" font-weight="normal" font-style="normal" text-anchor="end" >1.50</text>
<text x="489.2" y="94.5" font-family='"Liberation Sans", sans-serif' font-size="7.9" fill="#111" font-weight="normal" font-style="normal" text-anchor="end" >1.55</text>
<text x="489.2" y="63" font-family='"Liberation Sans", sans-serif' font-size="7.9" fill="#111" font-weight="normal" font-style="normal" text-anchor="end" >1.60</text>
<text x="489.2" y="31.5" font-family='"Liberation Sans", sans-serif' font-size="7.9" fill="#111" font-weight="normal" font-style="normal" text-anchor="end" >1.65</text>
<text x="539.4" y="142" font-family='"Liberation Sans", sans-serif' font-size="8.2" fill="#111" font-weight="normal" font-style="normal" text-anchor="middle" >10</text>
<text x="590.4" y="142" font-family='"Liberation Sans", sans-serif' font-size="8.2" fill="#111" font-weight="normal" font-style="normal" text-anchor="middle" >100</text>
<text x="641.4" y="142" font-family='"Liberation Sans", sans-serif' font-size="8.2" fill="#111" font-weight="normal" font-style="normal" text-anchor="middle" >1000</text>
<text transform="translate(468,72) rotate(-90)" font-family='"Liberation Sans", sans-serif' font-size="11.6" font-weight="bold" font-style="italic" fill="#111" text-anchor="middle">E (V) vs RHE</text>
<text x="562.3" y="156.3" font-family='"Liberation Sans", sans-serif' font-size="11.7" font-weight="bold" fill="#111"><tspan font-style="italic">j</tspan> (µA cm<tspan font-size="8" dy="-5">-2</tspan><tspan font-size="8" dx="-7" dy="8">ox</tspan><tspan dy="-3">)</tspan></text>
<text x="456.6" y="156.3" font-family='"Liberation Serif", serif' font-size="16" fill="#111" font-weight="normal" font-style="normal" textLength="16" lengthAdjust="spacingAndGlyphs" >(e)</text>
<clipPath id="tem"><ellipse cx="518.3" cy="220.7" rx="61" ry="63.6"/></clipPath>
<defs><radialGradient id="dk" cx="0.5" cy="0.5" r="0.5"><stop offset="0" stop-color="#262626"/><stop offset="0.5" stop-color="#2e2e2e" stop-opacity="0.8"/><stop offset="1" stop-color="#3a3a3a" stop-opacity="0"/></radialGradient><linearGradient id="lt" x1="0" y1="0" x2="1" y2="1"><stop offset="0" stop-color="#d6d6d6"/><stop offset="1" stop-color="#c6c6c6"/></linearGradient><linearGradient id="dg" x1="0" y1="0" x2="0" y2="1"><stop offset="0" stop-color="#555"/><stop offset="0.6" stop-color="#5e5e5e"/><stop offset="1" stop-color="#7a7a7a"/></linearGradient></defs>
<g clip-path="url(#tem)">
<rect x="450" y="150" width="140" height="140" fill="#cfcfcf"/>
<defs><linearGradient id="bandg" x1="0" y1="0" x2="0" y2="1"><stop offset="0" stop-color="#b4b4b4"/><stop offset="0.5" stop-color="#a2a2a2"/><stop offset="1" stop-color="#b0b0b0"/></linearGradient><linearGradient id="dg2" x1="0.2" y1="0.1" x2="0.8" y2="0.9"><stop offset="0" stop-color="#5a5a5a"/><stop offset="0.55" stop-color="#616161"/><stop offset="1" stop-color="#787878"/></linearGradient></defs>
<path d="M450,150 L505,150 C505.17,151.17 505,153.67 506,157 C507,160.33 509.08,165.33 511,170 C512.92,174.67 515.25,180 517.5,185 C519.75,190 522.25,195.17 524.5,200 C526.75,204.83 529.08,209.33 531,214 C532.92,218.67 535.5,223.67 536,228 C536.5,232.33 535.33,236 534,240 C532.67,244 530.67,248.33 528,252 C525.33,255.67 521.83,258.67 518,262 C514.17,265.33 508.83,268.83 505,272 C501.17,275.17 497.83,277.67 495,281 C492.17,284.33 489.17,290.17 488,292 L450,292 Z" fill="url(#bandg)"/>
<path d="M512,152 Q520,180 531,210" stroke="#c2c2c2" stroke-width="6" fill="none" opacity="0.8" stroke-linecap="round"/>
<path d="M450,150 L503.4,150 C503.5,151.17 503.23,154 504,157 C504.77,160 506.67,164.17 508,168 C509.33,171.83 510.33,175.5 512,180 C513.67,184.5 516,190.33 518,195 C520,199.67 522.23,203.5 524,208 C525.77,212.5 528.02,217.33 528.6,222 C529.18,226.67 529.18,231.63 527.5,236 C525.82,240.37 522.17,244.73 518.5,248.2 C514.83,251.67 509.83,253.92 505.5,256.8 C501.17,259.68 496.12,262.85 492.5,265.5 C488.88,268.15 486.72,270.28 483.8,272.7 C480.88,275.12 477.63,276.78 475,280 C472.37,283.22 469.17,290 468,292 L450,292 Z" fill="url(#dg2)"/>
<ellipse cx="503" cy="170" rx="6" ry="17" fill="url(#dk)" transform="rotate(-12,503,170)"/>
</g>
<line x1="525.8" y1="172.4" x2="551.2" y2="172.4" stroke="#111" stroke-width="1.6"/>
<text x="528.7" y="169.8" font-family='"Liberation Sans", sans-serif' font-size="6.6" fill="#111" font-weight="normal" font-style="normal" textLength="17.7" lengthAdjust="spacingAndGlyphs" >10 nm</text>
<line x1="497.4" y1="180.5" x2="609" y2="190.4" stroke="#777" stroke-width="0.7" />
<circle cx="497.4" cy="180.5" r="1.7" fill="#fff"/>
<text x="485.5" y="189.5" font-family='"Liberation Sans", sans-serif' font-size="7.2" fill="#fff" font-weight="bold" font-style="normal" text-anchor="start" >0.475</text>
<text x="505.6" y="189.5" font-family='"Liberation Sans", sans-serif' font-size="6.8" fill="#fff" font-weight="bold" font-style="normal" textLength="9.4" lengthAdjust="spacingAndGlyphs" >nm</text>
<line x1="498.8" y1="193.4" x2="500.5" y2="213.1" stroke="#eee" stroke-width="0.9" />
<text x="494.3" y="222" font-family='"Liberation Sans", sans-serif' font-size="7.2" fill="#fff" font-weight="bold" font-style="normal" text-anchor="start" >(111)</text>
<text x="463.3" y="232.7" font-family='"Liberation Sans", sans-serif' font-size="7.33" fill="#fff" font-weight="bold" font-style="normal" text-anchor="start" ><tspan font-size="7.33">Co</tspan><tspan font-size="4.76" dy="2.05">2.75</tspan><tspan font-size="7.33" dy="-2.05">Fe</tspan><tspan font-size="4.76" dy="2.05">0.25</tspan><tspan font-size="7.33" dy="-2.05">O</tspan><tspan font-size="4.76" dy="2.05">4</tspan><tspan font-size="7.33" dy="-2.05"> bulk</tspan></text>
<text x="532.3" y="194.3" font-family='"Liberation Serif", serif' font-size="7.8" fill="#3d7cc4" font-weight="bold" font-style="normal" text-anchor="start" ><tspan font-size="7.8">OH</tspan><tspan font-size="5.07" dy="-3.51">-</tspan></text>
<circle cx="556.8" cy="196.3" r="1.8" fill="#f8f8f8" stroke="#aaa" stroke-width="0.4"/>
<circle cx="550.6" cy="192.4" r="2.7" fill="#e01818"/>
<text x="541.7" y="237" font-family='"Liberation Serif", serif' font-size="8.2" fill="#e01818" font-weight="bold" font-style="normal" text-anchor="start" ><tspan font-size="8.2">O</tspan><tspan font-size="5.33" dy="2.3">2</tspan></text>
<circle cx="557" cy="234.3" r="2.8" fill="#e01818"/><circle cx="563.4" cy="234.3" r="2.8" fill="#e01818"/>
<line x1="528.3" y1="248.5" x2="609.6" y2="260.3" stroke="#777" stroke-width="0.7" />
<circle cx="528.3" cy="248.5" r="1.6" fill="#fff"/>
<line x1="542.7" y1="264.3" x2="535.5" y2="255.2" stroke="#666" stroke-width="0.9" />
<path d="M533.8,253 L534,257.6 L537.4,255.1 Z" fill="#666"/>
<text x="520" y="273.1" font-family='"Liberation Sans", sans-serif' font-size="7.6" fill="#7a7a7a" font-weight="bold" font-style="normal" textLength="48.9" lengthAdjust="spacingAndGlyphs" >Reconstructed</text>
<text x="505.8" y="283" font-family='"Liberation Sans", sans-serif' font-size="7.6" fill="#7a7a7a" font-weight="bold" font-style="normal" textLength="76.3" lengthAdjust="spacingAndGlyphs" >oxyhydroxides surface</text>
<text x="626.2" y="156.9" font-family='"Liberation Sans", sans-serif' font-size="5.99" fill="#111" font-weight="bold" font-style="normal" text-anchor="start" ><tspan font-size="5.99">Co</tspan><tspan font-size="4.31" dy="1.68">2.75</tspan><tspan font-size="5.99" dy="-1.68">Fe</tspan><tspan font-size="4.31" dy="1.68">0.25</tspan><tspan font-size="5.99" dy="-1.68">O</tspan><tspan font-size="4.31" dy="1.68">4</tspan></text>
<ellipse cx="646.3" cy="189.3" rx="37.5" ry="28" fill="none" stroke="#999" stroke-width="0.7" stroke-dasharray="2.5,1.8"/>
<text x="634.2" y="171" font-family='"Liberation Sans", sans-serif' font-size="5" fill="#888" font-weight="normal" font-style="normal" text-anchor="middle" >Fe</text>
<text x="661.2" y="171" font-family='"Liberation Sans", sans-serif' font-size="5" fill="#2dbf8a" font-weight="normal" font-style="normal" text-anchor="middle" >Co</text>
<g fill="#a6dcc4" opacity="0.55">
<path d="M647.3,179.5 L653.8,186 L647.3,192.5 L640.8,186 Z"/>
<path d="M633.5,187.6 L640,194.1 L633.5,200.6 L627,194.1 Z"/>
<path d="M660.5,187.6 L667,194.1 L660.5,200.6 L654,194.1 Z"/>
<path d="M627.3,184 L633.8,190.5 L627.3,197 L620.8,190.5 Z"/>
<path d="M639.6,184 L646.1,190.5 L639.6,197 L633.1,190.5 Z"/>
<path d="M654.4,183.5 L660.9,190 L654.4,196.5 L647.9,190 Z"/>
<path d="M666.7,183.5 L673.2,190 L666.7,196.5 L660.2,190 Z"/>
<path d="M647.3,194.8 L653.8,201.3 L647.3,207.8 L640.8,201.3 Z"/>
<path d="M633.5,194.3 L640,200.8 L633.5,207.3 L627,200.8 Z"/>
<path d="M660.5,194.3 L667,200.8 L660.5,207.3 L654,200.8 Z"/>
</g>
<path d="M625.8,174.2 L641.1,174.2 L633.5,187 Z" fill="#b8b8b8" opacity="0.6"/>
<path d="M652.9,173.7 L668,173.7 L660.5,187 Z" fill="#8fd6b6" opacity="0.6"/>
<path d="M640,205 L654.6,205 L647.3,192.6 Z" fill="#8fd6b6" opacity="0.5"/>
<g stroke="#d87070" stroke-width="0.6">
<line x1="647.3" y1="186" x2="647.3" y2="177.3"/>
<line x1="647.3" y1="186" x2="641.1" y2="182.4"/>
<line x1="647.3" y1="186" x2="652.9" y2="182.4"/>
<line x1="647.3" y1="186" x2="647.3" y2="192.6"/>
<line x1="633.5" y1="194.1" x2="633.5" y2="187"/>
<line x1="633.5" y1="194.1" x2="627.3" y2="197.7"/>
<line x1="633.5" y1="194.1" x2="639.6" y2="197.7"/>
<line x1="660.5" y1="194.1" x2="660.5" y2="187"/>
<line x1="660.5" y1="194.1" x2="654.4" y2="197.7"/>
<line x1="660.5" y1="194.1" x2="666.7" y2="197.2"/>
<line x1="627.3" y1="190.5" x2="625.8" y2="182.9"/>
<line x1="627.3" y1="190.5" x2="620.2" y2="186.5"/>
<line x1="627.3" y1="190.5" x2="633.5" y2="187"/>
<line x1="627.3" y1="190.5" x2="620.2" y2="193.1"/>
<line x1="627.3" y1="190.5" x2="627.3" y2="197.7"/>
<line x1="639.6" y1="190.5" x2="641.1" y2="182.4"/>
<line x1="639.6" y1="190.5" x2="633.5" y2="187"/>
<line x1="639.6" y1="190.5" x2="639.6" y2="197.7"/>
<line x1="639.6" y1="190.5" x2="647.3" y2="192.6"/>
<line x1="654.4" y1="190" x2="652.9" y2="182.4"/>
<line x1="654.4" y1="190" x2="660.5" y2="187"/>
<line x1="654.4" y1="190" x2="654.4" y2="197.7"/>
<line x1="654.4" y1="190" x2="647.3" y2="192.6"/>
<line x1="666.7" y1="190" x2="668" y2="182.4"/>
<line x1="666.7" y1="190" x2="674.3" y2="186"/>
<line x1="666.7" y1="190" x2="660.5" y2="187"/>
<line x1="666.7" y1="190" x2="674.3" y2="192.6"/>
<line x1="666.7" y1="190" x2="666.7" y2="197.2"/>
<line x1="647.3" y1="201.3" x2="639.6" y2="197.7"/>
<line x1="647.3" y1="201.3" x2="654.4" y2="197.7"/>
<line x1="647.3" y1="201.3" x2="647.3" y2="192.6"/>
<line x1="647.3" y1="201.3" x2="639.6" y2="206.4"/>
<line x1="647.3" y1="201.3" x2="654.4" y2="206.4"/>
<line x1="647.3" y1="201.3" x2="647.3" y2="210"/>
<line x1="633.5" y1="200.8" x2="627.3" y2="197.7"/>
<line x1="633.5" y1="200.8" x2="639.6" y2="197.7"/>
<line x1="633.5" y1="200.8" x2="627.3" y2="206.4"/>
<line x1="633.5" y1="200.8" x2="639.6" y2="206.4"/>
<line x1="633.5" y1="200.8" x2="633.5" y2="209.5"/>
<line x1="660.5" y1="200.8" x2="654.4" y2="197.7"/>
<line x1="660.5" y1="200.8" x2="666.7" y2="197.2"/>
<line x1="660.5" y1="200.8" x2="654.4" y2="206.4"/>
<line x1="660.5" y1="200.8" x2="666.7" y2="205.9"/>
<line x1="660.5" y1="200.8" x2="660.5" y2="209.5"/>
<line x1="633.5" y1="178.3" x2="625.8" y2="174.2"/>
<line x1="633.5" y1="178.3" x2="641.1" y2="174.2"/>
<line x1="633.5" y1="178.3" x2="625.8" y2="182.9"/>
<line x1="633.5" y1="178.3" x2="641.1" y2="182.4"/>
<line x1="633.5" y1="178.3" x2="633.5" y2="187"/>
<line x1="660.5" y1="178.3" x2="652.9" y2="173.7"/>
<line x1="660.5" y1="178.3" x2="668" y2="173.7"/>
<line x1="660.5" y1="178.3" x2="652.9" y2="182.4"/>
<line x1="660.5" y1="178.3" x2="668" y2="182.4"/>
<line x1="660.5" y1="178.3" x2="660.5" y2="187"/>
</g>
<circle cx="625.8" cy="174.2" r="1.35" fill="#e04646"/><circle cx="625.5" cy="173.9" r="0.61" fill="#f4a0a0"/>
<circle cx="641.1" cy="174.2" r="1.35" fill="#e04646"/><circle cx="640.8" cy="173.9" r="0.61" fill="#f4a0a0"/>
<circle cx="652.9" cy="173.7" r="1.35" fill="#e04646"/><circle cx="652.6" cy="173.4" r="0.61" fill="#f4a0a0"/>
<circle cx="668" cy="173.7" r="1.35" fill="#e04646"/><circle cx="667.7" cy="173.4" r="0.61" fill="#f4a0a0"/>
<circle cx="647.3" cy="177.3" r="1.35" fill="#e04646"/><circle cx="647" cy="177" r="0.61" fill="#f4a0a0"/>
<circle cx="625.8" cy="182.9" r="1.35" fill="#e04646"/><circle cx="625.5" cy="182.6" r="0.61" fill="#f4a0a0"/>
<circle cx="641.1" cy="182.4" r="1.35" fill="#e04646"/><circle cx="640.8" cy="182.1" r="0.61" fill="#f4a0a0"/>
<circle cx="652.9" cy="182.4" r="1.35" fill="#e04646"/><circle cx="652.6" cy="182.1" r="0.61" fill="#f4a0a0"/>
<circle cx="668" cy="182.4" r="1.35" fill="#e04646"/><circle cx="667.7" cy="182.1" r="0.61" fill="#f4a0a0"/>
<circle cx="620.2" cy="186.5" r="1.35" fill="#e04646"/><circle cx="619.9" cy="186.2" r="0.61" fill="#f4a0a0"/>
<circle cx="674.3" cy="186" r="1.35" fill="#e04646"/><circle cx="674" cy="185.7" r="0.61" fill="#f4a0a0"/>
<circle cx="633.5" cy="187" r="1.35" fill="#e04646"/><circle cx="633.2" cy="186.7" r="0.61" fill="#f4a0a0"/>
<circle cx="660.5" cy="187" r="1.35" fill="#e04646"/><circle cx="660.2" cy="186.7" r="0.61" fill="#f4a0a0"/>
<circle cx="620.2" cy="193.1" r="1.35" fill="#e04646"/><circle cx="619.9" cy="192.8" r="0.61" fill="#f4a0a0"/>
<circle cx="674.3" cy="192.6" r="1.35" fill="#e04646"/><circle cx="674" cy="192.3" r="0.61" fill="#f4a0a0"/>
<circle cx="627.3" cy="197.7" r="1.35" fill="#e04646"/><circle cx="627" cy="197.4" r="0.61" fill="#f4a0a0"/>
<circle cx="639.6" cy="197.7" r="1.35" fill="#e04646"/><circle cx="639.3" cy="197.4" r="0.61" fill="#f4a0a0"/>
<circle cx="654.4" cy="197.7" r="1.35" fill="#e04646"/><circle cx="654.1" cy="197.4" r="0.61" fill="#f4a0a0"/>
<circle cx="666.7" cy="197.2" r="1.35" fill="#e04646"/><circle cx="666.4" cy="196.9" r="0.61" fill="#f4a0a0"/>
<circle cx="647.3" cy="192.6" r="1.35" fill="#e04646"/><circle cx="647" cy="192.3" r="0.61" fill="#f4a0a0"/>
<circle cx="627.3" cy="206.4" r="1.35" fill="#e04646"/><circle cx="627" cy="206.1" r="0.61" fill="#f4a0a0"/>
<circle cx="639.6" cy="206.4" r="1.35" fill="#e04646"/><circle cx="639.3" cy="206.1" r="0.61" fill="#f4a0a0"/>
<circle cx="654.4" cy="206.4" r="1.35" fill="#e04646"/><circle cx="654.1" cy="206.1" r="0.61" fill="#f4a0a0"/>
<circle cx="666.7" cy="205.9" r="1.35" fill="#e04646"/><circle cx="666.4" cy="205.6" r="0.61" fill="#f4a0a0"/>
<circle cx="633.5" cy="209.5" r="1.35" fill="#e04646"/><circle cx="633.2" cy="209.2" r="0.61" fill="#f4a0a0"/>
<circle cx="647.3" cy="210" r="1.35" fill="#e04646"/><circle cx="647" cy="209.7" r="0.61" fill="#f4a0a0"/>
<circle cx="660.5" cy="209.5" r="1.35" fill="#e04646"/><circle cx="660.2" cy="209.2" r="0.61" fill="#f4a0a0"/>
<circle cx="633.5" cy="178.3" r="2" fill="#6a5a5a"/><circle cx="633.1" cy="177.9" r="0.8" fill="#9ff0cc"/>
<circle cx="660.5" cy="178.3" r="2" fill="#17996a"/><circle cx="660.1" cy="177.9" r="0.8" fill="#9ff0cc"/>
<circle cx="647.3" cy="186" r="2" fill="#22c07e"/><circle cx="646.9" cy="185.6" r="0.8" fill="#9ff0cc"/>
<circle cx="633.5" cy="194.1" r="2" fill="#22c07e"/><circle cx="633.1" cy="193.7" r="0.8" fill="#9ff0cc"/>
<circle cx="660.5" cy="194.1" r="2" fill="#22c07e"/><circle cx="660.1" cy="193.7" r="0.8" fill="#9ff0cc"/>
<circle cx="627.3" cy="190.5" r="2" fill="#22c07e"/><circle cx="626.9" cy="190.1" r="0.8" fill="#9ff0cc"/>
<circle cx="639.6" cy="190.5" r="2" fill="#22c07e"/><circle cx="639.2" cy="190.1" r="0.8" fill="#9ff0cc"/>
<circle cx="654.4" cy="190" r="2" fill="#22c07e"/><circle cx="654" cy="189.6" r="0.8" fill="#9ff0cc"/>
<circle cx="666.7" cy="190" r="2" fill="#22c07e"/><circle cx="666.3" cy="189.6" r="0.8" fill="#9ff0cc"/>
<circle cx="647.3" cy="201.3" r="2" fill="#22c07e"/><circle cx="646.9" cy="200.9" r="0.8" fill="#9ff0cc"/>
<circle cx="633.5" cy="200.8" r="2" fill="#22c07e"/><circle cx="633.1" cy="200.4" r="0.8" fill="#9ff0cc"/>
<circle cx="660.5" cy="200.8" r="2" fill="#22c07e"/><circle cx="660.1" cy="200.4" r="0.8" fill="#9ff0cc"/>
<text x="631.6" y="230" font-family='"Liberation Sans", sans-serif' font-size="6.13" fill="#111" font-weight="bold" font-style="normal" text-anchor="start" ><tspan font-size="6.13">Co[Fe]O</tspan><tspan font-size="4.29" dy="1.72">x</tspan><tspan font-size="6.13" dy="-1.72">H</tspan><tspan font-size="4.29" dy="1.72">y</tspan></text>
<ellipse cx="647" cy="260.4" rx="37.3" ry="27.3" fill="none" stroke="#999" stroke-width="0.7" stroke-dasharray="2.5,1.8"/>
<g fill="#c4d6e0" opacity="0.7">
<path d="M630.3,247.9 L636.3,253.9 L630.3,259.9 L624.3,253.9 Z"/>
<path d="M643.1,247.9 L649.1,253.9 L643.1,259.9 L637.1,253.9 Z"/>
<path d="M655.9,247.9 L661.9,253.9 L655.9,259.9 L649.9,253.9 Z"/>
<path d="M636.5,247.9 L642.5,253.9 L636.5,259.9 L630.5,253.9 Z"/>
<path d="M649.7,247.9 L655.7,253.9 L649.7,259.9 L643.7,253.9 Z"/>
<path d="M662.5,247.9 L668.5,253.9 L662.5,259.9 L656.5,253.9 Z"/>
<path d="M636.5,267.8 L642.5,273.8 L636.5,279.8 L630.5,273.8 Z"/>
<path d="M649.2,267.8 L655.2,273.8 L649.2,279.8 L643.2,273.8 Z"/>
<path d="M662,267.8 L668,273.8 L662,279.8 L656,273.8 Z"/>
<path d="M629.8,267.8 L635.8,273.8 L629.8,279.8 L623.8,273.8 Z"/>
<path d="M642.6,267.8 L648.6,273.8 L642.6,279.8 L636.6,273.8 Z"/>
<path d="M655.9,267.8 L661.9,273.8 L655.9,279.8 L649.9,273.8 Z"/>
<path d="M668.6,267.8 L674.6,273.8 L668.6,279.8 L662.6,273.8 Z"/>
</g>
<g stroke="#d87070" stroke-width="0.6">
<line x1="630.3" y1="253.9" x2="630.3" y2="247.8"/>
<line x1="630.3" y1="253.9" x2="636.5" y2="257"/>
<line x1="630.3" y1="253.9" x2="630.3" y2="260"/>
<line x1="630.3" y1="253.9" x2="623.7" y2="250"/>
<line x1="643.1" y1="253.9" x2="643.1" y2="247.8"/>
<line x1="643.1" y1="253.9" x2="636.5" y2="257"/>
<line x1="643.1" y1="253.9" x2="649.7" y2="257"/>
<line x1="643.1" y1="253.9" x2="643.1" y2="260"/>
<line x1="655.9" y1="253.9" x2="656.4" y2="247.8"/>
<line x1="655.9" y1="253.9" x2="649.7" y2="257"/>
<line x1="655.9" y1="253.9" x2="662.5" y2="257"/>
<line x1="655.9" y1="253.9" x2="656.4" y2="260"/>
<line x1="636.5" y1="273.8" x2="636.5" y2="267.2"/>
<line x1="636.5" y1="273.8" x2="629.8" y2="276.9"/>
<line x1="636.5" y1="273.8" x2="642.6" y2="276.9"/>
<line x1="636.5" y1="273.8" x2="636" y2="280"/>
<line x1="649.2" y1="273.8" x2="649.2" y2="267.2"/>
<line x1="649.2" y1="273.8" x2="642.6" y2="276.9"/>
<line x1="649.2" y1="273.8" x2="655.9" y2="276.9"/>
<line x1="662" y1="273.8" x2="662" y2="267.2"/>
<line x1="662" y1="273.8" x2="655.9" y2="276.9"/>
<line x1="662" y1="273.8" x2="668.6" y2="276.9"/>
<line x1="662" y1="273.8" x2="662" y2="280"/>
<line x1="636.5" y1="250.8" x2="630.3" y2="247.8"/>
<line x1="636.5" y1="250.8" x2="643.1" y2="247.8"/>
<line x1="636.5" y1="250.8" x2="636.5" y2="257"/>
<line x1="636.5" y1="250.8" x2="637" y2="244.7"/>
<line x1="649.7" y1="250.8" x2="643.1" y2="247.8"/>
<line x1="649.7" y1="250.8" x2="656.4" y2="247.8"/>
<line x1="649.7" y1="250.8" x2="649.7" y2="257"/>
<line x1="662.5" y1="250.8" x2="656.4" y2="247.8"/>
<line x1="662.5" y1="250.8" x2="669.2" y2="247.8"/>
<line x1="662.5" y1="250.8" x2="662.5" y2="257"/>
<line x1="662.5" y1="250.8" x2="663" y2="244.7"/>
<line x1="629.8" y1="270.3" x2="636.5" y2="267.2"/>
<line x1="629.8" y1="270.3" x2="629.8" y2="264.6"/>
<line x1="629.8" y1="270.3" x2="629.8" y2="276.9"/>
<line x1="629.8" y1="270.3" x2="623" y2="273.5"/>
<line x1="642.6" y1="270.3" x2="636.5" y2="267.2"/>
<line x1="642.6" y1="270.3" x2="649.2" y2="267.2"/>
<line x1="642.6" y1="270.3" x2="642.6" y2="264.6"/>
<line x1="642.6" y1="270.3" x2="642.6" y2="276.9"/>
<line x1="655.9" y1="270.3" x2="649.2" y2="267.2"/>
<line x1="655.9" y1="270.3" x2="662" y2="267.2"/>
<line x1="655.9" y1="270.3" x2="655.9" y2="264.6"/>
<line x1="655.9" y1="270.3" x2="655.9" y2="276.9"/>
<line x1="668.6" y1="270.3" x2="662" y2="267.2"/>
<line x1="668.6" y1="270.3" x2="668.6" y2="264.6"/>
<line x1="668.6" y1="270.3" x2="668.6" y2="276.9"/>
<line x1="668.6" y1="270.3" x2="675" y2="274"/>
</g>
<circle cx="630.3" cy="247.8" r="1.3" fill="#e04646"/><circle cx="630" cy="247.5" r="0.59" fill="#f4a0a0"/>
<circle cx="643.1" cy="247.8" r="1.3" fill="#e04646"/><circle cx="642.8" cy="247.5" r="0.59" fill="#f4a0a0"/>
<circle cx="656.4" cy="247.8" r="1.3" fill="#e04646"/><circle cx="656.1" cy="247.5" r="0.59" fill="#f4a0a0"/>
<circle cx="669.2" cy="247.8" r="1.3" fill="#e04646"/><circle cx="668.9" cy="247.5" r="0.59" fill="#f4a0a0"/>
<circle cx="636.5" cy="257" r="1.3" fill="#e04646"/><circle cx="636.2" cy="256.7" r="0.59" fill="#f4a0a0"/>
<circle cx="649.7" cy="257" r="1.3" fill="#e04646"/><circle cx="649.4" cy="256.7" r="0.59" fill="#f4a0a0"/>
<circle cx="662.5" cy="257" r="1.3" fill="#e04646"/><circle cx="662.2" cy="256.7" r="0.59" fill="#f4a0a0"/>
<circle cx="630.3" cy="260" r="1.3" fill="#e04646"/><circle cx="630" cy="259.7" r="0.59" fill="#f4a0a0"/>
<circle cx="643.1" cy="260" r="1.3" fill="#e04646"/><circle cx="642.8" cy="259.7" r="0.59" fill="#f4a0a0"/>
<circle cx="656.4" cy="260" r="1.3" fill="#e04646"/><circle cx="656.1" cy="259.7" r="0.59" fill="#f4a0a0"/>
<circle cx="637" cy="244.7" r="1.3" fill="#e04646"/><circle cx="636.7" cy="244.4" r="0.59" fill="#f4a0a0"/>
<circle cx="663" cy="244.7" r="1.3" fill="#e04646"/><circle cx="662.7" cy="244.4" r="0.59" fill="#f4a0a0"/>
<circle cx="623.7" cy="250" r="1.3" fill="#e04646"/><circle cx="623.4" cy="249.7" r="0.59" fill="#f4a0a0"/>
<circle cx="636.5" cy="267.2" r="1.3" fill="#e04646"/><circle cx="636.2" cy="266.9" r="0.59" fill="#f4a0a0"/>
<circle cx="649.2" cy="267.2" r="1.3" fill="#e04646"/><circle cx="648.9" cy="266.9" r="0.59" fill="#f4a0a0"/>
<circle cx="662" cy="267.2" r="1.3" fill="#e04646"/><circle cx="661.7" cy="266.9" r="0.59" fill="#f4a0a0"/>
<circle cx="629.8" cy="264.6" r="1.3" fill="#e04646"/><circle cx="629.5" cy="264.3" r="0.59" fill="#f4a0a0"/>
<circle cx="642.6" cy="264.6" r="1.3" fill="#e04646"/><circle cx="642.3" cy="264.3" r="0.59" fill="#f4a0a0"/>
<circle cx="655.9" cy="264.6" r="1.3" fill="#e04646"/><circle cx="655.6" cy="264.3" r="0.59" fill="#f4a0a0"/>
<circle cx="668.6" cy="264.6" r="1.3" fill="#e04646"/><circle cx="668.3" cy="264.3" r="0.59" fill="#f4a0a0"/>
<circle cx="629.8" cy="276.9" r="1.3" fill="#e04646"/><circle cx="629.5" cy="276.6" r="0.59" fill="#f4a0a0"/>
<circle cx="642.6" cy="276.9" r="1.3" fill="#e04646"/><circle cx="642.3" cy="276.6" r="0.59" fill="#f4a0a0"/>
<circle cx="655.9" cy="276.9" r="1.3" fill="#e04646"/><circle cx="655.6" cy="276.6" r="0.59" fill="#f4a0a0"/>
<circle cx="668.6" cy="276.9" r="1.3" fill="#e04646"/><circle cx="668.3" cy="276.6" r="0.59" fill="#f4a0a0"/>
<circle cx="636" cy="280" r="1.3" fill="#e04646"/><circle cx="635.7" cy="279.7" r="0.59" fill="#f4a0a0"/>
<circle cx="662" cy="280" r="1.3" fill="#e04646"/><circle cx="661.7" cy="279.7" r="0.59" fill="#f4a0a0"/>
<circle cx="623" cy="273.5" r="1.3" fill="#e04646"/><circle cx="622.7" cy="273.2" r="0.59" fill="#f4a0a0"/>
<circle cx="675" cy="274" r="1.3" fill="#e04646"/><circle cx="674.7" cy="273.7" r="0.59" fill="#f4a0a0"/>
<circle cx="636.5" cy="250.8" r="1.8" fill="#e04646"/><circle cx="636.2" cy="250.5" r="0.81" fill="#f4a0a0"/>
<circle cx="649.7" cy="250.8" r="1.8" fill="#e04646"/><circle cx="649.4" cy="250.5" r="0.81" fill="#f4a0a0"/>
<circle cx="662.5" cy="250.8" r="1.8" fill="#e04646"/><circle cx="662.2" cy="250.5" r="0.81" fill="#f4a0a0"/>
<circle cx="629.8" cy="270.3" r="1.8" fill="#e04646"/><circle cx="629.5" cy="270" r="0.81" fill="#f4a0a0"/>
<circle cx="642.6" cy="270.3" r="1.8" fill="#e04646"/><circle cx="642.3" cy="270" r="0.81" fill="#f4a0a0"/>
<circle cx="655.9" cy="270.3" r="1.8" fill="#e04646"/><circle cx="655.6" cy="270" r="0.81" fill="#f4a0a0"/>
<circle cx="668.6" cy="270.3" r="1.8" fill="#e04646"/><circle cx="668.3" cy="270" r="0.81" fill="#f4a0a0"/>
<circle cx="630.3" cy="253.9" r="2" fill="#22c07e"/><circle cx="629.9" cy="253.5" r="0.8" fill="#9ff0cc"/>
<circle cx="643.1" cy="253.9" r="2" fill="#22c07e"/><circle cx="642.7" cy="253.5" r="0.8" fill="#9ff0cc"/>
<circle cx="655.9" cy="253.9" r="2" fill="#22c07e"/><circle cx="655.5" cy="253.5" r="0.8" fill="#9ff0cc"/>
<circle cx="636.5" cy="273.8" r="2" fill="#22c07e"/><circle cx="636.1" cy="273.4" r="0.8" fill="#9ff0cc"/>
<circle cx="649.2" cy="273.8" r="2" fill="#8aa0b0"/><circle cx="648.8" cy="273.4" r="0.8" fill="#9ff0cc"/>
<circle cx="662" cy="273.8" r="2" fill="#22c07e"/><circle cx="661.6" cy="273.4" r="0.8" fill="#9ff0cc"/>
<rect x="648.2" y="242.1" width="3" height="2.2" fill="#fff" stroke="#e05050" stroke-width="0.6"/>
<rect x="621.2" y="256.4" width="3" height="2.2" fill="#fff" stroke="#e05050" stroke-width="0.6"/>
<rect x="667.7" y="253.3" width="3" height="2.2" fill="#fff" stroke="#e05050" stroke-width="0.6"/>
<rect x="621.2" y="265.1" width="3" height="2.2" fill="#fff" stroke="#e05050" stroke-width="0.6"/>
<rect x="673.8" y="266.6" width="3" height="2.2" fill="#fff" stroke="#e05050" stroke-width="0.6"/>
<rect x="647.7" y="279.4" width="3" height="2.2" fill="#fff" stroke="#e05050" stroke-width="0.6"/>
<line x1="637" y1="239.5" x2="637" y2="241.5" stroke="#e08080" stroke-width="0.6"/>
<line x1="663" y1="239.5" x2="663" y2="241.5" stroke="#e08080" stroke-width="0.6"/>
<line x1="624" y1="244" x2="624" y2="246" stroke="#e08080" stroke-width="0.6"/>
<line x1="631" y1="242" x2="631" y2="244" stroke="#e08080" stroke-width="0.6"/>
<line x1="656" y1="242" x2="656" y2="244" stroke="#e08080" stroke-width="0.6"/>
<line x1="670" y1="242" x2="670" y2="244" stroke="#e08080" stroke-width="0.6"/>
<line x1="630" y1="259.5" x2="630" y2="261.5" stroke="#e08080" stroke-width="0.6"/>
<line x1="643" y1="260" x2="643" y2="262" stroke="#e08080" stroke-width="0.6"/>
<line x1="656" y1="260" x2="656" y2="262" stroke="#e08080" stroke-width="0.6"/>
<line x1="669" y1="260" x2="669" y2="262" stroke="#e08080" stroke-width="0.6"/>
<text x="456.4" y="294.4" font-family='"Liberation Serif", serif' font-size="16" fill="#111" font-weight="normal" font-style="normal" textLength="14.3" lengthAdjust="spacingAndGlyphs" >(f)</text>
<polyline points="493.9,466.77 494.4,466.44 494.9,466.38 495.4,466.5 495.9,466.6 496.4,466.44 496.9,466.34 497.4,466.23 497.9,466.48 498.4,466.45 498.9,466.49 499.4,466.37 499.9,466.63 500.4,466.81 500.9,466.96 501.4,466.95 501.9,467.04 502.4,467.24 502.9,467.35 503.4,467.47 503.9,467.72 504.4,467.81 504.9,467.73 505.4,467.8 505.9,467.93 506.4,467.82 506.9,467.65 507.4,467.65 507.9,467.5 508.4,467.11 508.9,466.82 509.4,466.82 509.9,466.76 510.4,466.5 510.9,466.32 511.4,466.23 511.9,466.07 512.4,465.95 512.9,466.06 513.4,466.08 513.9,465.93 514.4,465.67 514.9,465.76 515.4,465.87 515.9,465.99 516.4,465.97 516.9,465.84 517.4,465.53 517.9,465.29 518.4,465.06 518.9,464.79 519.4,464.48 519.9,464.37 520.4,464.12 520.9,464.03 521.4,463.78 521.9,463.42 522.4,463.1 522.9,462.82 523.4,462.41 523.9,461.72 524.4,461.29 524.9,460.81 525.4,460.32 525.9,459.81 526.4,459.22 526.9,458.63 527.4,457.9 527.9,457.38 528.4,456.64 528.9,455.92 529.4,455.22 529.9,454.61 530.4,453.81 530.9,452.87 531.4,452.36 531.9,451.77 532.4,451.08 532.9,450.17 533.4,449.61 533.9,448.77 534.4,448.02 534.9,447.12 535.4,446.23 535.9,445.39 536.4,444.72 536.9,444.06 537.4,443 537.9,441.82 538.4,440.47 538.9,439.67 539.4,439.01 539.9,438.05 540.4,436.56 540.9,435.3 541.4,434.32 541.9,433.28 542.4,432.03 542.9,430.67 543.4,429.44 543.9,428.01 544.4,426.48 544.9,424.93 545.4,423.48 545.9,422.09 546.4,420.58 546.9,418.79 547.4,416.99 547.9,415.5 548.4,413.9 548.9,412.11 549.4,410.16 549.9,408.68 550.4,407.34 550.9,406.28 551.4,404.8 551.9,403.1 552.4,401.8 552.9,401.05 553.4,400.3 553.9,399.46 554.4,398.81 554.9,398.39 555.4,397.95 555.9,397.64 556.4,397.59 556.9,397.75 557.4,398.27 557.9,398.86 558.4,399.9 558.9,401.02 559.4,402.05 559.9,403.06 560.4,404.31 560.9,405.84 561.4,407.31 561.9,409.04 562.4,410.89 562.9,413 563.4,415.23 563.9,417.5 564.4,419.65 564.9,421.81 565.4,423.93 565.9,425.97 566.4,427.87 566.9,429.86 567.4,432.03 567.9,434 568.4,435.68 568.9,437.06 569.4,438.57 569.9,440.18 570.4,441.8 570.9,442.91 571.4,443.82 571.9,444.61 572.4,445.46 572.9,446.39 573.4,447.3 573.9,447.96 574.4,448.22 574.9,448.5 575.4,448.71 575.9,448.84 576.4,449.04 576.9,449.01 577.4,448.84 577.9,448.39 578.4,448 578.9,447.41 579.4,446.76 579.9,446.06 580.4,445.43 580.9,444.77 581.4,444.06 581.9,443.28 582.4,442.43 582.9,441.41 583.4,440.37 583.9,439.24 584.4,438.33 584.9,437.2 585.4,436.13 585.9,434.96 586.4,433.88 586.9,432.63 587.4,431.29 587.9,430.04 588.4,428.85 588.9,427.69 589.4,426.18 589.9,424.67 590.4,423.42 590.9,422.28 591.4,421.07 591.9,419.49 592.4,418.21 592.9,416.8 593.4,415.56 593.9,414.27 594.4,413.1 594.9,411.75 595.4,410.31 595.9,409.16 596.4,408.04 596.9,406.95 597.4,405.92 597.9,405.03 598.4,404.06 598.9,403.29 599.4,402.43 599.9,401.75 600.4,401.14 600.9,400.61 601.4,399.82 601.9,399.13 602.4,398.91 602.9,398.82 603.4,398.78 603.9,398.72 604.4,398.82 604.9,399.15 605.4,399.44 605.9,399.81 606.4,400.12 606.9,400.82 607.4,401.54 607.9,402.3 608.4,402.86 608.9,403.38 609.4,404.26 609.9,405.38 610.4,406.71 610.9,408.2 611.4,409.67 611.9,410.9 612.4,412.17 612.9,413.68 613.4,415.17 613.9,416.79 614.4,418.63 614.9,420.38 615.4,421.92 615.9,423.48 616.4,425.03 616.9,426.46 617.4,428.12 617.9,429.89 618.4,431.58 618.9,433.07 619.4,434.63 619.9,436.32 620.4,437.89 620.9,439.23 621.4,440.49 621.9,442.07 622.4,443.6 622.9,444.79 623.4,445.9 623.9,447.23 624.4,448.35 624.9,449.51 625.4,450.51 625.9,451.58 626.4,452.5 626.9,453.33 627.4,454.03 627.9,454.83 628.4,455.68 628.9,456.39 629.4,457.16 629.9,457.98 630.4,458.46 630.9,458.72 631.4,459.16 631.9,459.72 632.4,460.23 632.9,460.73 633.4,461.09 633.9,461.51 634.4,461.91 634.9,462.37 635.4,462.86 635.9,463.38 636.4,463.6 636.9,463.7 637.4,463.99 637.9,464.41 638.4,464.73 638.9,464.93 639.4,465.22 639.9,465.36 640.4,465.69 640.9,465.69 641.4,465.79 641.9,465.97 642.4,466.25 642.9,466.27 643.4,466.15 643.9,466.28 644.4,466.29 644.9,465.9 645.4,465.84 645.9,466.05 646.4,466.44 646.9,466.34 647.4,466.59 647.9,466.8 648.4,466.8 648.9,466.61 649.4,466.4 649.9,466.54 650.4,466.67 650.9,466.58 651.4,466.58 651.9,466.9 652.4,467.3 652.9,467.28 653.4,467.18 653.9,467.21 654.4,467.39 654.9,467.56 655.4,467.33 655.9,467.09 656.4,467.51 656.9,468 657.4,468.19 657.9,467.91 658.4,467.91 658.9,467.7 659.4,467.64 659.9,467.62 660.4,467.86 660.9,468.05 661.4,468.18 661.9,468.12 662.4,468.09 662.9,468.27 663.4,468.37 663.9,468.43 664.4,468.51 664.9,468.81 665.4,468.98 665.9,469.03" stroke="#a8ecf8" stroke-width="2.2" fill="none" stroke-linejoin="round" />
<line x1="493.4" y1="469.4" x2="666.6" y2="469.4" stroke="#acf09c" stroke-width="1.7" />
<polyline points="493.9,469.39 494.4,469.39 494.9,469.39 495.4,469.39 495.9,469.39 496.4,469.39 496.9,469.38 497.4,469.38 497.9,469.38 498.4,469.37 498.9,469.37 499.4,469.36 499.9,469.36 500.4,469.35 500.9,469.34 501.4,469.33 501.9,469.32 502.4,469.31 502.9,469.3 503.4,469.28 503.9,469.26 504.4,469.24 504.9,469.22 505.4,469.2 505.9,469.17 506.4,469.14 506.9,469.1 507.4,469.06 507.9,469.02 508.4,468.97 508.9,468.92 509.4,468.86 509.9,468.79 510.4,468.72 510.9,468.64 511.4,468.55 511.9,468.46 512.4,468.35 512.9,468.24 513.4,468.11 513.9,467.97 514.4,467.83 514.9,467.66 515.4,467.49 515.9,467.3 516.4,467.1 516.9,466.88 517.4,466.65 517.9,466.4 518.4,466.13 518.9,465.85 519.4,465.54 519.9,465.22 520.4,464.88 520.9,464.52 521.4,464.14 521.9,463.75 522.4,463.33 522.9,462.89 523.4,462.43 523.9,461.96 524.4,461.46 524.9,460.95 525.4,460.42 525.9,459.87 526.4,459.3 526.9,458.72 527.4,458.13 527.9,457.53 528.4,456.91 528.9,456.29 529.4,455.66 529.9,455.02 530.4,454.38 530.9,453.74 531.4,453.1 531.9,452.46 532.4,451.83 532.9,451.2 533.4,450.59 533.9,449.99 534.4,449.4 534.9,448.84 535.4,448.29 535.9,447.77 536.4,447.27 536.9,446.8 537.4,446.36 537.9,445.95 538.4,445.58 538.9,445.24 539.4,444.94 539.9,444.68 540.4,444.46 540.9,444.28 541.4,444.15 541.9,444.06 542.4,444.01 542.9,444 543.4,444.04 543.9,444.13 544.4,444.25 544.9,444.42 545.4,444.63 545.9,444.89 546.4,445.18 546.9,445.51 547.4,445.88 547.9,446.28 548.4,446.71 548.9,447.17 549.4,447.67 549.9,448.18 550.4,448.73 550.9,449.29 551.4,449.87 551.9,450.47 552.4,451.08 552.9,451.7 553.4,452.33 553.9,452.97 554.4,453.61 554.9,454.25 555.4,454.89 555.9,455.53 556.4,456.16 556.9,456.79 557.4,457.41 557.9,458.01 558.4,458.61 558.9,459.19 559.4,459.76 559.9,460.31 560.4,460.84 560.9,461.36 561.4,461.86 561.9,462.34 562.4,462.8 562.9,463.24 563.4,463.66 563.9,464.07 564.4,464.45 564.9,464.81 565.4,465.16 565.9,465.48 566.4,465.79 566.9,466.08 567.4,466.35 567.9,466.6 568.4,466.84 568.9,467.06 569.4,467.26 569.9,467.45 570.4,467.63 570.9,467.79 571.4,467.95 571.9,468.08 572.4,468.21 572.9,468.33 573.4,468.44 573.9,468.54 574.4,468.62 574.9,468.71 575.4,468.78 575.9,468.85 576.4,468.91 576.9,468.96 577.4,469.01 577.9,469.06 578.4,469.1 578.9,469.13 579.4,469.16 579.9,469.19 580.4,469.22 580.9,469.24 581.4,469.26 581.9,469.28 582.4,469.29 582.9,469.31 583.4,469.32 583.9,469.33 584.4,469.34 584.9,469.35 585.4,469.35 585.9,469.36 586.4,469.37 586.9,469.37 587.4,469.38 587.9,469.38 588.4,469.38 588.9,469.38 589.4,469.39 589.9,469.39 590.4,469.39 590.9,469.39 591.4,469.39 591.9,469.39 592.4,469.4 592.9,469.4 593.4,469.4 593.9,469.4 594.4,469.4 594.9,469.4 595.4,469.4 595.9,469.4 596.4,469.4 596.9,469.4 597.4,469.4 597.9,469.4 598.4,469.4 598.9,469.4 599.4,469.4 599.9,469.4 600.4,469.4 600.9,469.4 601.4,469.4 601.9,469.4 602.4,469.4 602.9,469.4 603.4,469.4 603.9,469.4 604.4,469.4 604.9,469.4 605.4,469.4 605.9,469.4 606.4,469.4 606.9,469.4 607.4,469.4 607.9,469.4 608.4,469.4 608.9,469.4 609.4,469.4 609.9,469.4 610.4,469.4 610.9,469.4 611.4,469.4 611.9,469.4 612.4,469.4 612.9,469.4 613.4,469.4 613.9,469.4 614.4,469.4 614.9,469.4 615.4,469.4 615.9,469.4 616.4,469.4 616.9,469.4 617.4,469.4 617.9,469.4 618.4,469.4 618.9,469.4 619.4,469.4 619.9,469.4 620.4,469.4 620.9,469.4 621.4,469.4 621.9,469.4 622.4,469.4 622.9,469.4 623.4,469.4 623.9,469.4 624.4,469.4 624.9,469.4 625.4,469.4 625.9,469.4 626.4,469.4 626.9,469.4 627.4,469.4 627.9,469.4 628.4,469.4 628.9,469.4 629.4,469.4 629.9,469.4 630.4,469.4 630.9,469.4 631.4,469.4 631.9,469.4 632.4,469.4 632.9,469.4 633.4,469.4 633.9,469.4 634.4,469.4 634.9,469.4 635.4,469.4 635.9,469.4 636.4,469.4 636.9,469.4 637.4,469.4 637.9,469.4 638.4,469.4 638.9,469.4 639.4,469.4 639.9,469.4 640.4,469.4 640.9,469.4 641.4,469.4 641.9,469.4 642.4,469.4 642.9,469.4 643.4,469.4 643.9,469.4 644.4,469.4 644.9,469.4 645.4,469.4 645.9,469.4 646.4,469.4 646.9,469.4 647.4,469.4 647.9,469.4 648.4,469.4 648.9,469.4 649.4,469.4 649.9,469.4 650.4,469.4 650.9,469.4 651.4,469.4 651.9,469.4 652.4,469.4 652.9,469.4 653.4,469.4 653.9,469.4 654.4,469.4 654.9,469.4 655.4,469.4 655.9,469.4 656.4,469.4 656.9,469.4 657.4,469.4 657.9,469.4 658.4,469.4 658.9,469.4 659.4,469.4 659.9,469.4 660.4,469.4 660.9,469.4 661.4,469.4 661.9,469.4 662.4,469.4 662.9,469.4 663.4,469.4 663.9,469.4 664.4,469.4 664.9,469.4 665.4,469.4 665.9,469.4" stroke="#f2867a" stroke-width="0.9" fill="none" stroke-linejoin="round" />
<polyline points="493.9,469.4 494.4,469.4 494.9,469.4 495.4,469.4 495.9,469.4 496.4,469.4 496.9,469.4 497.4,469.4 497.9,469.4 498.4,469.4 498.9,469.4 499.4,469.4 499.9,469.4 500.4,469.4 500.9,469.4 501.4,469.4 501.9,469.4 502.4,469.4 502.9,469.4 503.4,469.4 503.9,469.4 504.4,469.4 504.9,469.4 505.4,469.4 505.9,469.4 506.4,469.4 506.9,469.4 507.4,469.4 507.9,469.4 508.4,469.4 508.9,469.4 509.4,469.4 509.9,469.4 510.4,469.4 510.9,469.4 511.4,469.4 511.9,469.4 512.4,469.4 512.9,469.4 513.4,469.4 513.9,469.4 514.4,469.4 514.9,469.4 515.4,469.4 515.9,469.4 516.4,469.4 516.9,469.4 517.4,469.4 517.9,469.4 518.4,469.4 518.9,469.4 519.4,469.4 519.9,469.4 520.4,469.4 520.9,469.39 521.4,469.39 521.9,469.39 522.4,469.39 522.9,469.39 523.4,469.38 523.9,469.38 524.4,469.37 524.9,469.36 525.4,469.35 525.9,469.34 526.4,469.33 526.9,469.31 527.4,469.29 527.9,469.26 528.4,469.23 528.9,469.2 529.4,469.15 529.9,469.1 530.4,469.04 530.9,468.97 531.4,468.88 531.9,468.78 532.4,468.66 532.9,468.52 533.4,468.36 533.9,468.17 534.4,467.95 534.9,467.71 535.4,467.42 535.9,467.1 536.4,466.73 536.9,466.32 537.4,465.85 537.9,465.33 538.4,464.75 538.9,464.1 539.4,463.38 539.9,462.59 540.4,461.72 540.9,460.77 541.4,459.74 541.9,458.62 542.4,457.41 542.9,456.11 543.4,454.72 543.9,453.25 544.4,451.68 544.9,450.03 545.4,448.31 545.9,446.5 546.4,444.63 546.9,442.7 547.4,440.72 547.9,438.7 548.4,436.64 548.9,434.58 549.4,432.5 549.9,430.44 550.4,428.41 550.9,426.42 551.4,424.49 551.9,422.63 552.4,420.87 552.9,419.21 553.4,417.68 553.9,416.28 554.4,415.04 554.9,413.96 555.4,413.05 555.9,412.32 556.4,411.78 556.9,411.44 557.4,411.3 557.9,411.36 558.4,411.62 558.9,412.08 559.4,412.73 559.9,413.57 560.4,414.58 560.9,415.77 561.4,417.1 561.9,418.59 562.4,420.19 562.9,421.92 563.4,423.74 563.9,425.64 564.4,427.61 564.9,429.63 565.4,431.68 565.9,433.75 566.4,435.82 566.9,437.88 567.4,439.91 567.9,441.91 568.4,443.87 568.9,445.76 569.4,447.59 569.9,449.35 570.4,451.03 570.9,452.63 571.4,454.14 571.9,455.57 572.4,456.9 572.9,458.14 573.4,459.3 573.9,460.37 574.4,461.35 574.9,462.25 575.4,463.07 575.9,463.82 576.4,464.5 576.9,465.1 577.4,465.65 577.9,466.14 578.4,466.57 578.9,466.96 579.4,467.3 579.9,467.6 580.4,467.86 580.9,468.09 581.4,468.28 581.9,468.46 582.4,468.6 582.9,468.73 583.4,468.84 583.9,468.93 584.4,469.01 584.9,469.08 585.4,469.13 585.9,469.18 586.4,469.22 586.9,469.25 587.4,469.28 587.9,469.3 588.4,469.32 588.9,469.34 589.4,469.35 589.9,469.36 590.4,469.37 590.9,469.37 591.4,469.38 591.9,469.38 592.4,469.39 592.9,469.39 593.4,469.39 593.9,469.39 594.4,469.4 594.9,469.4 595.4,469.4 595.9,469.4 596.4,469.4 596.9,469.4 597.4,469.4 597.9,469.4 598.4,469.4 598.9,469.4 599.4,469.4 599.9,469.4 600.4,469.4 600.9,469.4 601.4,469.4 601.9,469.4 602.4,469.4 602.9,469.4 603.4,469.4 603.9,469.4 604.4,469.4 604.9,469.4 605.4,469.4 605.9,469.4 606.4,469.4 606.9,469.4 607.4,469.4 607.9,469.4 608.4,469.4 608.9,469.4 609.4,469.4 609.9,469.4 610.4,469.4 610.9,469.4 611.4,469.4 611.9,469.4 612.4,469.4 612.9,469.4 613.4,469.4 613.9,469.4 614.4,469.4 614.9,469.4 615.4,469.4 615.9,469.4 616.4,469.4 616.9,469.4 617.4,469.4 617.9,469.4 618.4,469.4 618.9,469.4 619.4,469.4 619.9,469.4 620.4,469.4 620.9,469.4 621.4,469.4 621.9,469.4 622.4,469.4 622.9,469.4 623.4,469.4 623.9,469.4 624.4,469.4 624.9,469.4 625.4,469.4 625.9,469.4 626.4,469.4 626.9,469.4 627.4,469.4 627.9,469.4 628.4,469.4 628.9,469.4 629.4,469.4 629.9,469.4 630.4,469.4 630.9,469.4 631.4,469.4 631.9,469.4 632.4,469.4 632.9,469.4 633.4,469.4 633.9,469.4 634.4,469.4 634.9,469.4 635.4,469.4 635.9,469.4 636.4,469.4 636.9,469.4 637.4,469.4 637.9,469.4 638.4,469.4 638.9,469.4 639.4,469.4 639.9,469.4 640.4,469.4 640.9,469.4 641.4,469.4 641.9,469.4 642.4,469.4 642.9,469.4 643.4,469.4 643.9,469.4 644.4,469.4 644.9,469.4 645.4,469.4 645.9,469.4 646.4,469.4 646.9,469.4 647.4,469.4 647.9,469.4 648.4,469.4 648.9,469.4 649.4,469.4 649.9,469.4 650.4,469.4 650.9,469.4 651.4,469.4 651.9,469.4 652.4,469.4 652.9,469.4 653.4,469.4 653.9,469.4 654.4,469.4 654.9,469.4 655.4,469.4 655.9,469.4 656.4,469.4 656.9,469.4 657.4,469.4 657.9,469.4 658.4,469.4 658.9,469.4 659.4,469.4 659.9,469.4 660.4,469.4 660.9,469.4 661.4,469.4 661.9,469.4 662.4,469.4 662.9,469.4 663.4,469.4 663.9,469.4 664.4,469.4 664.9,469.4 665.4,469.4 665.9,469.4" stroke="#9aee88" stroke-width="0.9" fill="none" stroke-linejoin="round" />
<polyline points="493.9,469.4 494.4,469.4 494.9,469.4 495.4,469.4 495.9,469.4 496.4,469.4 496.9,469.4 497.4,469.4 497.9,469.4 498.4,469.4 498.9,469.4 499.4,469.4 499.9,469.4 500.4,469.4 500.9,469.4 501.4,469.4 501.9,469.4 502.4,469.4 502.9,469.4 503.4,469.4 503.9,469.4 504.4,469.4 504.9,469.4 505.4,469.4 505.9,469.4 506.4,469.4 506.9,469.4 507.4,469.4 507.9,469.4 508.4,469.4 508.9,469.4 509.4,469.4 509.9,469.4 510.4,469.4 510.9,469.4 511.4,469.4 511.9,469.4 512.4,469.4 512.9,469.4 513.4,469.4 513.9,469.4 514.4,469.4 514.9,469.4 515.4,469.4 515.9,469.4 516.4,469.4 516.9,469.4 517.4,469.4 517.9,469.4 518.4,469.4 518.9,469.4 519.4,469.4 519.9,469.4 520.4,469.4 520.9,469.4 521.4,469.4 521.9,469.4 522.4,469.4 522.9,469.4 523.4,469.4 523.9,469.4 524.4,469.4 524.9,469.4 525.4,469.4 525.9,469.4 526.4,469.4 526.9,469.4 527.4,469.4 527.9,469.4 528.4,469.4 528.9,469.4 529.4,469.4 529.9,469.4 530.4,469.4 530.9,469.4 531.4,469.4 531.9,469.4 532.4,469.4 532.9,469.4 533.4,469.4 533.9,469.4 534.4,469.4 534.9,469.4 535.4,469.4 535.9,469.4 536.4,469.39 536.9,469.39 537.4,469.39 537.9,469.39 538.4,469.39 538.9,469.39 539.4,469.39 539.9,469.39 540.4,469.38 540.9,469.38 541.4,469.38 541.9,469.38 542.4,469.37 542.9,469.37 543.4,469.36 543.9,469.36 544.4,469.35 544.9,469.34 545.4,469.34 545.9,469.33 546.4,469.32 546.9,469.31 547.4,469.29 547.9,469.28 548.4,469.27 548.9,469.25 549.4,469.23 549.9,469.21 550.4,469.18 550.9,469.16 551.4,469.13 551.9,469.1 552.4,469.06 552.9,469.02 553.4,468.98 553.9,468.93 554.4,468.88 554.9,468.82 555.4,468.76 555.9,468.69 556.4,468.62 556.9,468.54 557.4,468.45 557.9,468.36 558.4,468.25 558.9,468.14 559.4,468.02 559.9,467.89 560.4,467.76 560.9,467.61 561.4,467.44 561.9,467.27 562.4,467.09 562.9,466.89 563.4,466.68 563.9,466.46 564.4,466.22 564.9,465.97 565.4,465.71 565.9,465.42 566.4,465.13 566.9,464.81 567.4,464.49 567.9,464.14 568.4,463.78 568.9,463.4 569.4,463 569.9,462.59 570.4,462.16 570.9,461.72 571.4,461.26 571.9,460.78 572.4,460.29 572.9,459.78 573.4,459.26 573.9,458.72 574.4,458.18 574.9,457.62 575.4,457.05 575.9,456.46 576.4,455.87 576.9,455.28 577.4,454.67 577.9,454.07 578.4,453.45 578.9,452.84 579.4,452.23 579.9,451.62 580.4,451.01 580.9,450.41 581.4,449.81 581.9,449.23 582.4,448.65 582.9,448.09 583.4,447.54 583.9,447.01 584.4,446.5 584.9,446 585.4,445.53 585.9,445.09 586.4,444.67 586.9,444.27 587.4,443.91 587.9,443.58 588.4,443.27 588.9,443 589.4,442.77 589.9,442.56 590.4,442.4 590.9,442.27 591.4,442.17 591.9,442.12 592.4,442.1 592.9,442.12 593.4,442.17 593.9,442.27 594.4,442.4 594.9,442.56 595.4,442.77 595.9,443 596.4,443.27 596.9,443.58 597.4,443.91 597.9,444.27 598.4,444.67 598.9,445.09 599.4,445.53 599.9,446 600.4,446.5 600.9,447.01 601.4,447.54 601.9,448.09 602.4,448.65 602.9,449.23 603.4,449.81 603.9,450.41 604.4,451.01 604.9,451.62 605.4,452.23 605.9,452.84 606.4,453.45 606.9,454.07 607.4,454.67 607.9,455.28 608.4,455.87 608.9,456.46 609.4,457.05 609.9,457.62 610.4,458.18 610.9,458.72 611.4,459.26 611.9,459.78 612.4,460.29 612.9,460.78 613.4,461.26 613.9,461.72 614.4,462.16 614.9,462.59 615.4,463 615.9,463.4 616.4,463.78 616.9,464.14 617.4,464.49 617.9,464.81 618.4,465.13 618.9,465.42 619.4,465.71 619.9,465.97 620.4,466.22 620.9,466.46 621.4,466.68 621.9,466.89 622.4,467.09 622.9,467.27 623.4,467.44 623.9,467.61 624.4,467.76 624.9,467.89 625.4,468.02 625.9,468.14 626.4,468.25 626.9,468.36 627.4,468.45 627.9,468.54 628.4,468.62 628.9,468.69 629.4,468.76 629.9,468.82 630.4,468.88 630.9,468.93 631.4,468.98 631.9,469.02 632.4,469.06 632.9,469.1 633.4,469.13 633.9,469.16 634.4,469.18 634.9,469.21 635.4,469.23 635.9,469.25 636.4,469.27 636.9,469.28 637.4,469.29 637.9,469.31 638.4,469.32 638.9,469.33 639.4,469.34 639.9,469.34 640.4,469.35 640.9,469.36 641.4,469.36 641.9,469.37 642.4,469.37 642.9,469.38 643.4,469.38 643.9,469.38 644.4,469.38 644.9,469.39 645.4,469.39 645.9,469.39 646.4,469.39 646.9,469.39 647.4,469.39 647.9,469.39 648.4,469.39 648.9,469.4 649.4,469.4 649.9,469.4 650.4,469.4 650.9,469.4 651.4,469.4 651.9,469.4 652.4,469.4 652.9,469.4 653.4,469.4 653.9,469.4 654.4,469.4 654.9,469.4 655.4,469.4 655.9,469.4 656.4,469.4 656.9,469.4 657.4,469.4 657.9,469.4 658.4,469.4 658.9,469.4 659.4,469.4 659.9,469.4 660.4,469.4 660.9,469.4 661.4,469.4 661.9,469.4 662.4,469.4 662.9,469.4 663.4,469.4 663.9,469.4 664.4,469.4 664.9,469.4 665.4,469.4 665.9,469.4" stroke="#f2867a" stroke-width="0.9" fill="none" stroke-linejoin="round" />
<polyline points="493.9,469.4 494.4,469.4 494.9,469.4 495.4,469.4 495.9,469.4 496.4,469.4 496.9,469.4 497.4,469.4 497.9,469.4 498.4,469.4 498.9,469.4 499.4,469.4 499.9,469.4 500.4,469.4 500.9,469.4 501.4,469.4 501.9,469.4 502.4,469.4 502.9,469.4 503.4,469.4 503.9,469.4 504.4,469.4 504.9,469.4 505.4,469.4 505.9,469.4 506.4,469.4 506.9,469.4 507.4,469.4 507.9,469.4 508.4,469.4 508.9,469.4 509.4,469.4 509.9,469.4 510.4,469.4 510.9,469.4 511.4,469.4 511.9,469.4 512.4,469.4 512.9,469.4 513.4,469.4 513.9,469.4 514.4,469.4 514.9,469.4 515.4,469.4 515.9,469.4 516.4,469.4 516.9,469.4 517.4,469.4 517.9,469.4 518.4,469.4 518.9,469.4 519.4,469.4 519.9,469.4 520.4,469.4 520.9,469.4 521.4,469.4 521.9,469.4 522.4,469.4 522.9,469.4 523.4,469.4 523.9,469.4 524.4,469.4 524.9,469.4 525.4,469.4 525.9,469.4 526.4,469.4 526.9,469.4 527.4,469.4 527.9,469.4 528.4,469.4 528.9,469.4 529.4,469.4 529.9,469.4 530.4,469.4 530.9,469.4 531.4,469.4 531.9,469.4 532.4,469.4 532.9,469.4 533.4,469.4 533.9,469.4 534.4,469.4 534.9,469.4 535.4,469.4 535.9,469.4 536.4,469.4 536.9,469.4 537.4,469.4 537.9,469.4 538.4,469.4 538.9,469.4 539.4,469.4 539.9,469.4 540.4,469.4 540.9,469.4 541.4,469.4 541.9,469.4 542.4,469.4 542.9,469.4 543.4,469.4 543.9,469.4 544.4,469.4 544.9,469.4 545.4,469.4 545.9,469.4 546.4,469.4 546.9,469.4 547.4,469.4 547.9,469.4 548.4,469.4 548.9,469.4 549.4,469.4 549.9,469.4 550.4,469.4 550.9,469.4 551.4,469.4 551.9,469.4 552.4,469.4 552.9,469.4 553.4,469.4 553.9,469.4 554.4,469.4 554.9,469.4 555.4,469.4 555.9,469.4 556.4,469.4 556.9,469.4 557.4,469.4 557.9,469.39 558.4,469.39 558.9,469.39 559.4,469.39 559.9,469.39 560.4,469.39 560.9,469.38 561.4,469.38 561.9,469.38 562.4,469.37 562.9,469.37 563.4,469.36 563.9,469.35 564.4,469.34 564.9,469.33 565.4,469.32 565.9,469.31 566.4,469.29 566.9,469.28 567.4,469.26 567.9,469.23 568.4,469.21 568.9,469.18 569.4,469.14 569.9,469.11 570.4,469.06 570.9,469.01 571.4,468.96 571.9,468.89 572.4,468.82 572.9,468.74 573.4,468.65 573.9,468.55 574.4,468.44 574.9,468.31 575.4,468.17 575.9,468.02 576.4,467.85 576.9,467.66 577.4,467.45 577.9,467.22 578.4,466.97 578.9,466.69 579.4,466.39 579.9,466.06 580.4,465.71 580.9,465.32 581.4,464.9 581.9,464.45 582.4,463.96 582.9,463.44 583.4,462.87 583.9,462.27 584.4,461.63 584.9,460.94 585.4,460.21 585.9,459.44 586.4,458.63 586.9,457.76 587.4,456.86 587.9,455.91 588.4,454.91 588.9,453.87 589.4,452.78 589.9,451.66 590.4,450.49 590.9,449.28 591.4,448.04 591.9,446.76 592.4,445.46 592.9,444.12 593.4,442.76 593.9,441.39 594.4,439.99 594.9,438.58 595.4,437.17 595.9,435.76 596.4,434.35 596.9,432.95 597.4,431.57 597.9,430.21 598.4,428.87 598.9,427.57 599.4,426.32 599.9,425.1 600.4,423.94 600.9,422.83 601.4,421.79 601.9,420.82 602.4,419.92 602.9,419.1 603.4,418.36 603.9,417.71 604.4,417.15 604.9,416.69 605.4,416.32 605.9,416.04 606.4,415.87 606.9,415.8 607.4,415.83 607.9,415.96 608.4,416.2 608.9,416.53 609.4,416.95 609.9,417.48 610.4,418.09 610.9,418.8 611.4,419.58 611.9,420.45 612.4,421.4 612.9,422.41 613.4,423.49 613.9,424.63 614.4,425.82 614.9,427.07 615.4,428.35 615.9,429.67 616.4,431.02 616.9,432.4 617.4,433.79 617.9,435.2 618.4,436.61 618.9,438.02 619.4,439.43 619.9,440.83 620.4,442.21 620.9,443.58 621.4,444.93 621.9,446.25 622.4,447.53 622.9,448.79 623.4,450.01 623.9,451.19 624.4,452.34 624.9,453.44 625.4,454.5 625.9,455.51 626.4,456.48 626.9,457.41 627.4,458.29 627.9,459.12 628.4,459.91 628.9,460.66 629.4,461.36 629.9,462.02 630.4,462.64 630.9,463.22 631.4,463.76 631.9,464.26 632.4,464.72 632.9,465.16 633.4,465.56 633.9,465.92 634.4,466.26 634.9,466.57 635.4,466.86 635.9,467.12 636.4,467.36 636.9,467.58 637.4,467.77 637.9,467.95 638.4,468.11 638.9,468.26 639.4,468.39 639.9,468.5 640.4,468.61 640.9,468.7 641.4,468.79 641.9,468.86 642.4,468.93 642.9,468.99 643.4,469.04 643.9,469.09 644.4,469.13 644.9,469.17 645.4,469.2 645.9,469.22 646.4,469.25 646.9,469.27 647.4,469.29 647.9,469.3 648.4,469.32 648.9,469.33 649.4,469.34 649.9,469.35 650.4,469.36 650.9,469.36 651.4,469.37 651.9,469.37 652.4,469.38 652.9,469.38 653.4,469.38 653.9,469.39 654.4,469.39 654.9,469.39 655.4,469.39 655.9,469.39 656.4,469.39 656.9,469.4 657.4,469.4 657.9,469.4 658.4,469.4 658.9,469.4 659.4,469.4 659.9,469.4 660.4,469.4 660.9,469.4 661.4,469.4 661.9,469.4 662.4,469.4 662.9,469.4 663.4,469.4 663.9,469.4 664.4,469.4 664.9,469.4 665.4,469.4 665.9,469.4" stroke="#3cc43c" stroke-width="0.9" fill="none" stroke-linejoin="round" />
<polyline points="493.9,469.39 494.4,469.39 494.9,469.39 495.4,469.39 495.9,469.39 496.4,469.39 496.9,469.38 497.4,469.38 497.9,469.38 498.4,469.37 498.9,469.37 499.4,469.36 499.9,469.36 500.4,469.35 500.9,469.34 501.4,469.33 501.9,469.32 502.4,469.31 502.9,469.3 503.4,469.28 503.9,469.26 504.4,469.24 504.9,469.22 505.4,469.2 505.9,469.17 506.4,469.14 506.9,469.1 507.4,469.06 507.9,469.02 508.4,468.97 508.9,468.92 509.4,468.86 509.9,468.79 510.4,468.72 510.9,468.64 511.4,468.55 511.9,468.46 512.4,468.35 512.9,468.24 513.4,468.11 513.9,467.97 514.4,467.83 514.9,467.66 515.4,467.49 515.9,467.3 516.4,467.1 516.9,466.88 517.4,466.65 517.9,466.4 518.4,466.13 518.9,465.84 519.4,465.54 519.9,465.22 520.4,464.88 520.9,464.52 521.4,464.14 521.9,463.74 522.4,463.32 522.9,462.87 523.4,462.41 523.9,461.93 524.4,461.43 524.9,460.91 525.4,460.37 525.9,459.81 526.4,459.23 526.9,458.64 527.4,458.02 527.9,457.39 528.4,456.75 528.9,456.09 529.4,455.41 529.9,454.72 530.4,454.02 530.9,453.3 531.4,452.57 531.9,451.83 532.4,451.08 532.9,450.32 533.4,449.54 533.9,448.76 534.4,447.95 534.9,447.14 535.4,446.31 535.9,445.46 536.4,444.6 536.9,443.71 537.4,442.81 537.9,441.88 538.4,440.92 538.9,439.93 539.4,438.91 539.9,437.86 540.4,436.77 540.9,435.64 541.4,434.46 541.9,433.25 542.4,431.99 542.9,430.68 543.4,429.33 543.9,427.93 544.4,426.49 544.9,425 545.4,423.48 545.9,421.92 546.4,420.33 546.9,418.72 547.4,417.09 547.9,415.45 548.4,413.82 548.9,412.2 549.4,410.6 549.9,409.04 550.4,407.52 550.9,406.07 551.4,404.69 551.9,403.4 552.4,402.21 552.9,401.14 553.4,400.19 553.9,399.38 554.4,398.73 554.9,398.23 555.4,397.9 555.9,397.74 556.4,397.76 556.9,397.97 557.4,398.36 557.9,398.93 558.4,399.68 558.9,400.61 559.4,401.7 559.9,402.96 560.4,404.37 560.9,405.91 561.4,407.59 561.9,409.37 562.4,411.25 562.9,413.22 563.4,415.24 563.9,417.32 564.4,419.42 564.9,421.54 565.4,423.66 565.9,425.76 566.4,427.83 566.9,429.85 567.4,431.8 567.9,433.69 568.4,435.49 568.9,437.2 569.4,438.81 569.9,440.3 570.4,441.69 570.9,442.96 571.4,444.1 571.9,445.12 572.4,446.02 572.9,446.79 573.4,447.45 573.9,447.98 574.4,448.39 574.9,448.68 575.4,448.87 575.9,448.95 576.4,448.92 576.9,448.8 577.4,448.58 577.9,448.28 578.4,447.89 578.9,447.42 579.4,446.88 579.9,446.27 580.4,445.59 580.9,444.85 581.4,444.06 581.9,443.21 582.4,442.31 582.9,441.36 583.4,440.37 583.9,439.34 584.4,438.28 584.9,437.17 585.4,436.04 585.9,434.87 586.4,433.68 586.9,432.46 587.4,431.22 587.9,429.96 588.4,428.68 588.9,427.39 589.4,426.08 589.9,424.77 590.4,423.45 590.9,422.12 591.4,420.79 591.9,419.46 592.4,418.14 592.9,416.83 593.4,415.53 593.9,414.24 594.4,412.98 594.9,411.74 595.4,410.53 595.9,409.36 596.4,408.22 596.9,407.13 597.4,406.08 597.9,405.08 598.4,404.14 598.9,403.26 599.4,402.45 599.9,401.7 600.4,401.03 600.9,400.44 601.4,399.93 601.9,399.51 602.4,399.17 602.9,398.93 603.4,398.77 603.9,398.72 604.4,398.76 604.9,398.9 605.4,399.14 605.9,399.49 606.4,399.93 606.9,400.47 607.4,401.11 607.9,401.84 608.4,402.67 608.9,403.59 609.4,404.6 609.9,405.69 610.4,406.87 610.9,408.12 611.4,409.44 611.9,410.83 612.4,412.28 612.9,413.79 613.4,415.35 613.9,416.95 614.4,418.59 614.9,420.26 615.4,421.95 615.9,423.67 616.4,425.4 616.9,427.14 617.4,428.88 617.9,430.61 618.4,432.33 618.9,434.04 619.4,435.73 619.9,437.4 620.4,439.04 620.9,440.64 621.4,442.21 621.9,443.74 622.4,445.22 622.9,446.66 623.4,448.06 623.9,449.4 624.4,450.69 624.9,451.93 625.4,453.12 625.9,454.26 626.4,455.34 626.9,456.36 627.4,457.34 627.9,458.26 628.4,459.13 628.9,459.95 629.4,460.72 629.9,461.44 630.4,462.12 630.9,462.75 631.4,463.33 631.9,463.88 632.4,464.39 632.9,464.85 633.4,465.28 633.9,465.68 634.4,466.05 634.9,466.38 635.4,466.69 635.9,466.97 636.4,467.22 636.9,467.46 637.4,467.67 637.9,467.86 638.4,468.03 638.9,468.18 639.4,468.32 639.9,468.45 640.4,468.56 640.9,468.66 641.4,468.75 641.9,468.83 642.4,468.9 642.9,468.96 643.4,469.02 643.9,469.07 644.4,469.11 644.9,469.15 645.4,469.18 645.9,469.21 646.4,469.24 646.9,469.26 647.4,469.28 647.9,469.3 648.4,469.31 648.9,469.33 649.4,469.34 649.9,469.35 650.4,469.35 650.9,469.36 651.4,469.37 651.9,469.37 652.4,469.38 652.9,469.38 653.4,469.38 653.9,469.39 654.4,469.39 654.9,469.39 655.4,469.39 655.9,469.39 656.4,469.39 656.9,469.4 657.4,469.4 657.9,469.4 658.4,469.4 658.9,469.4 659.4,469.4 659.9,469.4 660.4,469.4 660.9,469.4 661.4,469.4 661.9,469.4 662.4,469.4 662.9,469.4 663.4,469.4 663.9,469.4 664.4,469.4 664.9,469.4 665.4,469.4 665.9,469.4" stroke="#2a8d9e" stroke-width="0.95" fill="none" stroke-linejoin="round" />
<path d="M493.4,373.6 C493.68,373.72 493.97,373.83 495.1,374.3 C496.23,374.77 498.72,376.18 500.2,376.4 C501.68,376.62 502.67,375.95 504,375.6 C505.33,375.25 506.78,374.3 508.2,374.3 C509.62,374.3 511.03,375.15 512.5,375.6 C513.97,376.05 515.03,377.05 517,377 C518.97,376.95 521.98,376.1 524.3,375.3 C526.62,374.5 528.83,373.75 530.9,372.2 C532.97,370.65 535.12,367.7 536.7,366 C538.28,364.3 539.02,363.77 540.4,362 C541.78,360.23 543.47,358.3 545,355.4 C546.53,352.5 548.18,349.22 549.6,344.6 C551.02,339.98 552.47,332.32 553.5,327.7 C554.53,323.08 555.03,320.1 555.8,316.9 C556.57,313.7 557.2,309.02 558.1,308.5 C559,307.98 560.18,310.08 561.2,313.8 C562.22,317.52 563.18,325.4 564.2,330.8 C565.22,336.2 566.13,341.85 567.3,346.2 C568.47,350.55 569.92,354.4 571.2,356.9 C572.48,359.4 573.62,360.22 575,361.2 C576.38,362.18 577.97,362.3 579.5,362.8 C581.03,363.3 582.38,364.87 584.2,364.2 C586.02,363.53 588.35,361.75 590.4,358.8 C592.45,355.85 594.7,351.1 596.5,346.5 C598.3,341.9 599.92,335.42 601.2,331.2 C602.48,326.98 603.27,323.57 604.2,321.2 C605.13,318.83 605.9,317.13 606.8,317 C607.7,316.87 608.48,317.53 609.6,320.4 C610.72,323.27 612.22,329.33 613.5,334.2 C614.78,339.07 616.13,345.3 617.3,349.6 C618.47,353.9 619.42,357.23 620.5,360 C621.58,362.77 622.6,364.92 623.8,366.2 C625,367.48 626.28,367.27 627.7,367.7 C629.12,368.13 630.38,367.9 632.3,368.8 C634.22,369.7 637.02,372.13 639.2,373.1 C641.38,374.07 643.47,374.08 645.4,374.6 C647.33,375.12 649,375.68 650.8,376.2 C652.6,376.72 654.53,377.58 656.2,377.7 C657.87,377.82 659.1,377.13 660.8,376.9 C662.5,376.67 665.47,376.4 666.4,376.3" stroke="#4cc84c" stroke-width="1.1" fill="none" stroke-linecap="round" />
<text x="496.6" y="309.6" font-family='"Liberation Serif", serif' font-size="8.17" fill="#111" font-weight="bold" font-style="normal" text-anchor="start" ><tspan font-size="8.17">Co</tspan><tspan font-size="5.31" dy="2.29">2.75</tspan><tspan font-size="8.17" dy="-2.29">Fe</tspan><tspan font-size="5.31" dy="2.29">0.25</tspan><tspan font-size="8.17" dy="-2.29">O</tspan><tspan font-size="5.31" dy="2.29">4</tspan><tspan font-size="8.17" dy="-2.29"> (S)</tspan></text>
<text x="501.2" y="338.2" font-family='"Liberation Sans", sans-serif' font-size="8.2" fill="#4cc84c" font-weight="bold" font-style="normal" text-anchor="start" >Pristine</text>
<text x="522" y="362.3" font-family='"Liberation Serif", serif' font-size="10.3" fill="#4cc84c" font-weight="bold" font-style="italic" text-anchor="start" ><tspan font-size="10.3">E</tspan><tspan font-size="7" dy="3.09">g</tspan></text>
<text x="626.9" y="361.5" font-family='"Liberation Serif", serif' font-size="10.3" fill="#4cc84c" font-weight="bold" font-style="italic" text-anchor="start" ><tspan font-size="10.3">F</tspan><tspan font-size="7" dy="3.09">2g</tspan></text>
<text x="564.2" y="311.7" font-family='"Liberation Serif", serif' font-size="8" fill="#9aee88" font-weight="bold" font-style="normal" text-anchor="start" >482</text>
<text x="613.5" y="313.3" font-family='"Liberation Serif", serif' font-size="8" fill="#4cc84c" font-weight="bold" font-style="normal" text-anchor="start" >522</text>
<text x="501.9" y="410.4" font-family='"Liberation Sans", sans-serif' font-size="8.2" fill="#3aaef0" font-weight="bold" font-style="normal" text-anchor="start" >Cycled</text>
<text x="548.1" y="389.6" font-family='"Liberation Serif", serif' font-size="8" fill="#1e7d8c" font-weight="bold" font-style="normal" text-anchor="start" >481</text>
<text x="566.5" y="414.6" font-family='"Liberation Serif", serif' font-size="8" fill="#9aee88" font-weight="bold" font-style="normal" text-anchor="start" >482</text>
<text x="519.8" y="442.1" font-family='"Liberation Serif", serif' font-size="8" fill="#f2867a" font-weight="bold" font-style="normal" text-anchor="start" >470</text>
<text x="596" y="390.2" font-family='"Liberation Serif", serif' font-size="8" fill="#1e7d8c" font-weight="bold" font-style="normal" text-anchor="start" >520</text>
<text x="617.1" y="419.6" font-family='"Liberation Serif", serif' font-size="8" fill="#3cc43c" font-weight="bold" font-style="normal" text-anchor="start" >522</text>
<text x="603.1" y="442.7" font-family='"Liberation Serif", serif' font-size="8" fill="#f2867a" font-weight="bold" font-style="normal" text-anchor="start" >510</text>
<rect x="493.4" y="299.5" width="173.2" height="181.5" stroke="#444" stroke-width="1.1" fill="none" />
<line x1="505.74" y1="481" x2="505.74" y2="477.5" stroke="#444" stroke-width="0.8" />
<line x1="530.41" y1="481" x2="530.41" y2="477.5" stroke="#444" stroke-width="0.8" />
<line x1="555.08" y1="481" x2="555.08" y2="477.5" stroke="#444" stroke-width="0.8" />
<line x1="579.75" y1="481" x2="579.75" y2="477.5" stroke="#444" stroke-width="0.8" />
<line x1="604.42" y1="481" x2="604.42" y2="477.5" stroke="#444" stroke-width="0.8" />
<line x1="629.1" y1="481" x2="629.1" y2="477.5" stroke="#444" stroke-width="0.8" />
<line x1="653.77" y1="481" x2="653.77" y2="477.5" stroke="#444" stroke-width="0.8" />
<line x1="518.07" y1="481" x2="518.07" y2="479" stroke="#444" stroke-width="0.8" />
<line x1="542.74" y1="481" x2="542.74" y2="479" stroke="#444" stroke-width="0.8" />
<line x1="567.42" y1="481" x2="567.42" y2="479" stroke="#444" stroke-width="0.8" />
<line x1="592.09" y1="481" x2="592.09" y2="479" stroke="#444" stroke-width="0.8" />
<line x1="616.76" y1="481" x2="616.76" y2="479" stroke="#444" stroke-width="0.8" />
<line x1="641.43" y1="481" x2="641.43" y2="479" stroke="#444" stroke-width="0.8" />
<line x1="666.1" y1="481" x2="666.1" y2="479" stroke="#444" stroke-width="0.8" />
<text x="505.74" y="495.6" font-family='"Liberation Sans", sans-serif' font-size="8.7" fill="#222" font-weight="normal" font-style="normal" text-anchor="middle" >440</text>
<text x="530.41" y="495.6" font-family='"Liberation Sans", sans-serif' font-size="8.7" fill="#222" font-weight="normal" font-style="normal" text-anchor="middle" >460</text>
<text x="555.08" y="495.6" font-family='"Liberation Sans", sans-serif' font-size="8.7" fill="#222" font-weight="normal" font-style="normal" text-anchor="middle" >480</text>
<text x="579.75" y="495.6" font-family='"Liberation Sans", sans-serif' font-size="8.7" fill="#222" font-weight="normal" font-style="normal" text-anchor="middle" >500</text>
<text x="604.42" y="495.6" font-family='"Liberation Sans", sans-serif' font-size="8.7" fill="#222" font-weight="normal" font-style="normal" text-anchor="middle" >520</text>
<text x="629.1" y="495.6" font-family='"Liberation Sans", sans-serif' font-size="8.7" fill="#222" font-weight="normal" font-style="normal" text-anchor="middle" >540</text>
<text x="653.77" y="495.6" font-family='"Liberation Sans", sans-serif' font-size="8.7" fill="#222" font-weight="normal" font-style="normal" text-anchor="middle" >560</text>
<text x="530.3" y="514.9" font-family='"Liberation Sans", sans-serif' font-size="11.3" font-weight="bold" fill="#111"><tspan font-style="italic">Raman shift</tspan> (cm<tspan font-size="7.5" dy="-4.5">-1</tspan><tspan dy="4.5">)</tspan></text>
<text transform="translate(468.3,383.4) rotate(-90)" font-family='"Liberation Sans", sans-serif' font-size="11.6" font-weight="bold" font-style="italic" fill="#111" text-anchor="middle">Intensity (arb. units)</text>
</svg></body></html>
